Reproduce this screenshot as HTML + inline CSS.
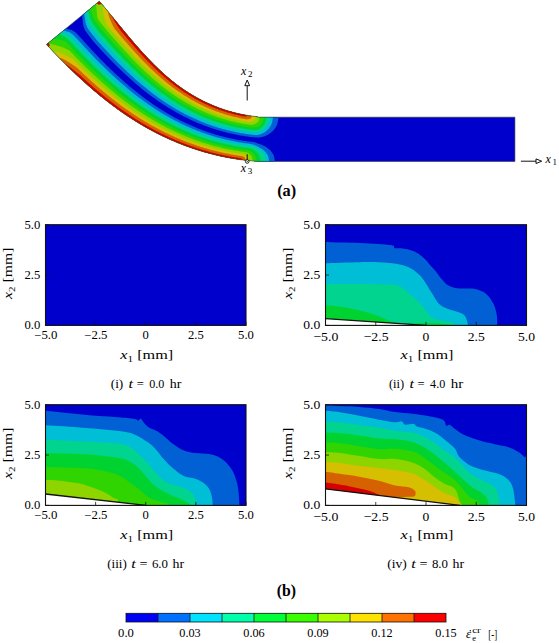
<!DOCTYPE html>
<html><head><meta charset="utf-8"><style>
html,body{margin:0;padding:0;background:#fff;}
body{width:559px;height:643px;overflow:hidden;position:relative;}
svg{position:absolute;left:0;top:0;}
text{font-family:"Liberation Serif", serif;fill:#000;}
</style></head><body>
<svg width="559" height="643" viewBox="0 0 559 643">
<g>
<rect x="45.50" y="224.70" width="200.50" height="100.70" fill="#0000cd"/>
<rect x="45.50" y="224.70" width="200.50" height="100.70" fill="none" stroke="#111" stroke-width="1.1"/>
<path d="M45.50,325.40 V321.90" stroke="#111" stroke-width="0.8"/>
<path d="M95.62,325.40 V321.90" stroke="#111" stroke-width="0.8"/>
<path d="M145.75,325.40 V321.90" stroke="#111" stroke-width="0.8"/>
<path d="M195.88,325.40 V321.90" stroke="#111" stroke-width="0.8"/>
<path d="M246.00,325.40 V321.90" stroke="#111" stroke-width="0.8"/>
<path d="M45.50,325.40 H49.00" stroke="#111" stroke-width="0.8"/>
<path d="M45.50,275.05 H49.00" stroke="#111" stroke-width="0.8"/>
<path d="M45.50,224.70 H49.00" stroke="#111" stroke-width="0.8"/>
</g>
<g>
<rect x="325.50" y="224.70" width="201.00" height="100.70" fill="#0000cd"/>
<path d="M325.50,242.00 C327.87,242.10 334.05,242.43 339.70,242.60 C345.35,242.77 352.85,242.77 359.40,243.00 C365.95,243.23 373.43,243.57 379.00,244.00 C384.57,244.43 390.22,244.90 392.80,245.60 C395.38,246.30 392.87,247.72 394.50,248.20 C396.13,248.68 399.27,247.95 402.60,248.50 C405.93,249.05 410.88,249.85 414.50,251.50 C418.12,253.15 421.72,256.15 424.30,258.40 C426.88,260.65 428.10,262.87 430.00,265.00 C431.90,267.13 433.77,268.87 435.70,271.20 C437.63,273.53 439.63,276.70 441.60,279.00 C443.57,281.30 445.20,283.52 447.50,285.00 C449.80,286.48 452.43,287.32 455.40,287.90 C458.37,288.48 462.02,288.33 465.30,288.50 C468.58,288.67 472.15,288.35 475.10,288.90 C478.05,289.45 480.70,290.50 483.00,291.80 C485.30,293.10 487.10,294.57 488.90,296.70 C490.70,298.83 492.50,301.63 493.80,304.60 C495.10,307.57 496.12,311.03 496.70,314.50 C497.28,317.97 497.20,323.58 497.30,325.40 L497.30,325.40 L325.50,325.40 Z" fill="#0060d4"/>
<path d="M325.50,263.30 C331.15,263.13 350.48,262.47 359.40,262.30 C368.32,262.13 372.45,261.97 379.00,262.30 C385.55,262.63 393.45,263.32 398.70,264.30 C403.95,265.28 407.22,266.57 410.50,268.20 C413.78,269.83 416.10,271.97 418.40,274.10 C420.70,276.23 422.07,277.85 424.30,281.00 C426.53,284.15 429.23,289.07 431.80,293.00 C434.37,296.93 436.75,301.85 439.70,304.60 C442.65,307.35 446.22,308.18 449.50,309.50 C452.78,310.82 456.77,311.35 459.40,312.50 C462.03,313.65 463.83,314.25 465.30,316.40 C466.77,318.55 467.72,323.90 468.20,325.40 L468.20,325.40 L325.50,325.40 Z" fill="#00bed5"/>
<path d="M325.50,284.00 C331.15,284.00 350.48,283.95 359.40,284.00 C368.32,284.05 373.10,284.13 379.00,284.30 C384.90,284.47 390.87,284.40 394.80,285.00 C398.73,285.60 399.98,286.27 402.60,287.90 C405.22,289.53 407.93,292.62 410.50,294.80 C413.07,296.98 415.43,298.38 418.00,301.00 C420.57,303.62 423.60,307.77 425.90,310.50 C428.20,313.23 429.18,315.75 431.80,317.40 C434.42,319.05 438.32,319.58 441.60,320.40 C444.88,321.22 449.37,321.47 451.50,322.30 C453.63,323.13 453.92,324.88 454.40,325.40 L454.40,325.40 L325.50,325.40 Z" fill="#00d48e"/>
<path d="M325.50,305.00 C328.75,305.42 338.82,306.45 345.00,307.50 C351.18,308.55 357.58,310.05 362.60,311.30 C367.62,312.55 371.35,313.75 375.10,315.00 C378.85,316.25 382.28,317.63 385.10,318.80 C387.92,319.97 388.68,321.22 392.00,322.00 C395.32,322.78 399.50,323.33 405.00,323.50 C410.50,323.67 418.33,322.92 425.00,323.00 C431.67,323.08 440.83,323.60 445.00,324.00 C449.17,324.40 449.17,325.17 450.00,325.40 L450.00,325.40 L325.50,325.40 Z" fill="#00d330"/>
<path d="M325.50,318.60 L426.00,325.40 L325.50,325.40 Z" fill="#fff"/>
<path d="M325.50,318.60 L426.00,325.40" stroke="#111" stroke-width="1.3" fill="none"/>
<rect x="325.50" y="224.70" width="201.00" height="100.70" fill="none" stroke="#111" stroke-width="1.1"/>
<path d="M325.50,325.40 V321.90" stroke="#111" stroke-width="0.8"/>
<path d="M375.75,325.40 V321.90" stroke="#111" stroke-width="0.8"/>
<path d="M426.00,325.40 V321.90" stroke="#111" stroke-width="0.8"/>
<path d="M476.25,325.40 V321.90" stroke="#111" stroke-width="0.8"/>
<path d="M526.50,325.40 V321.90" stroke="#111" stroke-width="0.8"/>
<path d="M325.50,325.40 H329.00" stroke="#111" stroke-width="0.8"/>
<path d="M325.50,275.05 H329.00" stroke="#111" stroke-width="0.8"/>
<path d="M325.50,224.70 H329.00" stroke="#111" stroke-width="0.8"/>
</g>
<g>
<rect x="45.50" y="404.70" width="200.50" height="100.70" fill="#0000cd"/>
<path d="M45.50,410.80 C47.87,411.03 54.05,411.63 59.70,412.20 C65.35,412.77 72.85,413.55 79.40,414.20 C85.95,414.85 92.45,415.58 99.00,416.10 C105.55,416.62 112.78,416.83 118.70,417.30 C124.62,417.77 131.18,418.38 134.50,418.90 C137.82,419.42 137.57,420.45 138.60,420.40 C139.63,420.35 139.97,418.42 140.70,418.60 C141.43,418.78 142.13,420.43 143.00,421.50 C143.87,422.57 144.77,423.92 145.90,425.00 C147.03,426.08 147.83,426.92 149.80,428.00 C151.77,429.08 155.07,429.93 157.70,431.50 C160.33,433.07 162.97,435.27 165.60,437.40 C168.23,439.53 170.55,442.17 173.50,444.30 C176.45,446.43 179.70,448.73 183.30,450.20 C186.90,451.67 190.83,452.45 195.10,453.10 C199.37,453.75 204.97,453.43 208.90,454.10 C212.83,454.77 215.75,455.62 218.70,457.10 C221.65,458.58 224.30,460.72 226.60,463.00 C228.90,465.28 230.87,467.85 232.50,470.80 C234.13,473.75 235.42,477.42 236.40,480.70 C237.38,483.98 237.90,486.38 238.40,490.50 C238.90,494.62 239.23,502.92 239.40,505.40 L239.40,505.40 L45.50,505.40 Z" fill="#0060d4"/>
<path d="M45.50,425.20 C47.87,425.33 54.05,425.62 59.70,426.00 C65.35,426.38 72.85,426.98 79.40,427.50 C85.95,428.02 92.45,428.50 99.00,429.10 C105.55,429.70 112.78,430.22 118.70,431.10 C124.62,431.98 129.63,432.53 134.50,434.40 C139.37,436.27 144.37,439.83 147.90,442.30 C151.43,444.77 153.08,446.42 155.70,449.20 C158.32,451.98 160.97,456.05 163.60,459.00 C166.23,461.95 168.22,464.10 171.50,466.90 C174.78,469.70 179.37,473.83 183.30,475.80 C187.23,477.77 191.82,477.57 195.10,478.70 C198.38,479.83 200.70,480.97 203.00,482.60 C205.30,484.23 207.43,486.20 208.90,488.50 C210.37,490.80 211.15,493.58 211.80,496.40 C212.45,499.22 212.63,503.90 212.80,505.40 L212.80,505.40 L45.50,505.40 Z" fill="#00bed5"/>
<path d="M45.50,439.40 C51.15,439.72 70.48,440.82 79.40,441.30 C88.32,441.78 92.45,441.90 99.00,442.30 C105.55,442.70 113.45,442.88 118.70,443.70 C123.95,444.52 126.95,445.23 130.50,447.20 C134.05,449.17 137.43,453.20 140.00,455.50 C142.57,457.80 143.60,458.45 145.90,461.00 C148.20,463.55 151.18,467.85 153.80,470.80 C156.42,473.75 158.65,476.40 161.60,478.70 C164.55,481.00 167.88,483.12 171.50,484.60 C175.12,486.08 180.02,486.28 183.30,487.60 C186.58,488.92 189.23,490.70 191.20,492.50 C193.17,494.30 194.28,496.25 195.10,498.40 C195.92,500.55 195.93,504.23 196.10,505.40 L196.10,505.40 L45.50,505.40 Z" fill="#00d48e"/>
<path d="M45.50,453.10 C51.15,453.27 70.48,453.70 79.40,454.10 C88.32,454.50 92.45,454.85 99.00,455.50 C105.55,456.15 113.78,457.08 118.70,458.00 C123.62,458.92 125.22,459.35 128.50,461.00 C131.78,462.65 135.17,464.95 138.40,467.90 C141.63,470.85 145.02,475.58 147.90,478.70 C150.78,481.82 152.10,483.97 155.70,486.60 C159.30,489.23 165.55,492.53 169.50,494.50 C173.45,496.47 176.45,497.10 179.40,498.40 C182.35,499.70 185.43,501.13 187.20,502.30 C188.97,503.47 189.53,504.88 190.00,505.40 L190.00,505.40 L45.50,505.40 Z" fill="#00d330"/>
<path d="M45.50,466.90 C51.15,467.07 70.48,467.40 79.40,467.90 C88.32,468.40 93.10,468.92 99.00,469.90 C104.90,470.88 110.53,472.33 114.80,473.80 C119.07,475.27 121.65,476.90 124.60,478.70 C127.55,480.50 129.93,482.72 132.50,484.60 C135.07,486.48 137.42,487.93 140.00,490.00 C142.58,492.07 145.33,495.25 148.00,497.00 C150.67,498.75 153.00,499.50 156.00,500.50 C159.00,501.50 163.67,502.18 166.00,503.00 C168.33,503.82 169.33,505.00 170.00,505.40 L170.00,505.40 L45.50,505.40 Z" fill="#30d400"/>
<path d="M45.50,479.70 C47.87,479.87 54.05,480.05 59.70,480.70 C65.35,481.35 73.50,482.30 79.40,483.60 C85.30,484.90 90.85,487.02 95.10,488.50 C99.35,489.98 101.95,491.02 104.90,492.50 C107.85,493.98 110.62,496.23 112.80,497.40 C114.98,498.57 117.13,499.15 118.00,499.50 L118.00,505.40 L45.50,505.40 Z" fill="#8ed500"/>
<path d="M45.50,494.00 L146.00,505.40 L45.50,505.40 Z" fill="#fff"/>
<path d="M45.50,494.00 L146.00,505.40" stroke="#111" stroke-width="1.3" fill="none"/>
<rect x="45.50" y="404.70" width="200.50" height="100.70" fill="none" stroke="#111" stroke-width="1.1"/>
<path d="M45.50,505.40 V501.90" stroke="#111" stroke-width="0.8"/>
<path d="M95.62,505.40 V501.90" stroke="#111" stroke-width="0.8"/>
<path d="M145.75,505.40 V501.90" stroke="#111" stroke-width="0.8"/>
<path d="M195.88,505.40 V501.90" stroke="#111" stroke-width="0.8"/>
<path d="M246.00,505.40 V501.90" stroke="#111" stroke-width="0.8"/>
<path d="M45.50,505.40 H49.00" stroke="#111" stroke-width="0.8"/>
<path d="M45.50,455.05 H49.00" stroke="#111" stroke-width="0.8"/>
<path d="M45.50,404.70 H49.00" stroke="#111" stroke-width="0.8"/>
</g>
<g>
<rect x="325.50" y="404.70" width="201.00" height="100.70" fill="#0000cd"/>
<path d="M325.50,405.20 C327.87,405.33 334.05,405.72 339.70,406.00 C345.35,406.28 352.85,406.42 359.40,406.90 C365.95,407.38 373.07,408.05 379.00,408.90 C384.93,409.75 389.48,411.20 395.00,412.00 C400.52,412.80 406.40,413.00 412.10,413.70 C417.80,414.40 424.07,415.20 429.20,416.20 C434.33,417.20 440.05,418.13 442.90,419.70 C445.75,421.27 445.17,424.75 446.30,425.60 C447.43,426.45 448.25,424.23 449.70,424.80 C451.15,425.37 452.73,427.40 455.00,429.00 C457.27,430.60 459.30,432.52 463.30,434.40 C467.30,436.28 473.75,438.65 479.00,440.30 C484.25,441.95 489.88,443.15 494.80,444.30 C499.72,445.45 504.57,445.90 508.50,447.20 C512.43,448.50 515.77,450.45 518.40,452.10 C521.03,453.75 522.95,455.78 524.30,457.10 C525.65,458.42 526.13,451.95 526.50,460.00 C526.87,468.05 526.50,497.83 526.50,505.40 L526.50,505.40 L325.50,505.40 Z" fill="#0060d4"/>
<path d="M325.50,410.80 C327.87,411.03 334.05,411.38 339.70,412.20 C345.35,413.02 352.85,414.45 359.40,415.70 C365.95,416.95 373.07,418.62 379.00,419.70 C384.93,420.78 391.20,421.92 395.00,422.20 C398.80,422.48 400.08,420.97 401.80,421.40 C403.52,421.83 403.30,424.38 405.30,424.80 C407.30,425.22 411.82,423.62 413.80,423.90 C415.78,424.18 414.63,425.50 417.20,426.50 C419.77,427.50 425.78,428.62 429.20,429.90 C432.62,431.18 434.85,432.35 437.70,434.20 C440.55,436.05 443.42,438.58 446.30,441.00 C449.18,443.42 452.82,446.02 455.00,448.70 C457.18,451.38 457.03,454.40 459.40,457.10 C461.77,459.80 465.27,462.77 469.20,464.90 C473.13,467.03 478.73,468.58 483.00,469.90 C487.27,471.22 491.20,471.67 494.80,472.80 C498.40,473.93 501.98,475.07 504.60,476.70 C507.22,478.33 509.02,480.30 510.50,482.60 C511.98,484.90 512.68,486.70 513.50,490.50 C514.32,494.30 515.08,502.92 515.40,505.40 L515.40,505.40 L325.50,505.40 Z" fill="#00bed5"/>
<path d="M325.50,421.60 C327.87,421.77 334.05,422.00 339.70,422.60 C345.35,423.20 352.85,424.38 359.40,425.20 C365.95,426.02 373.07,426.57 379.00,427.50 C384.93,428.43 389.48,429.97 395.00,430.80 C400.52,431.63 407.25,431.50 412.10,432.50 C416.95,433.50 420.40,435.10 424.10,436.80 C427.80,438.50 431.17,440.57 434.30,442.70 C437.43,444.83 439.45,447.03 442.90,449.60 C446.35,452.17 450.62,454.23 455.00,458.10 C459.38,461.97 465.20,469.37 469.20,472.80 C473.20,476.23 475.40,476.73 479.00,478.70 C482.60,480.67 487.85,482.63 490.80,484.60 C493.75,486.57 495.22,487.03 496.70,490.50 C498.18,493.97 499.20,502.92 499.70,505.40 L499.70,505.40 L325.50,505.40 Z" fill="#00d48e"/>
<path d="M325.50,432.50 C327.87,432.60 334.05,432.62 339.70,433.10 C345.35,433.58 352.85,434.52 359.40,435.40 C365.95,436.28 373.07,437.75 379.00,438.40 C384.93,439.05 389.48,438.72 395.00,439.30 C400.52,439.88 407.53,440.75 412.10,441.90 C416.67,443.05 418.98,444.35 422.40,446.20 C425.82,448.05 429.18,450.45 432.60,453.00 C436.02,455.55 439.17,458.37 442.90,461.50 C446.63,464.63 450.28,467.62 455.00,471.80 C459.72,475.98 466.87,483.15 471.20,486.60 C475.53,490.05 478.38,490.53 481.00,492.50 C483.62,494.47 485.58,496.25 486.90,498.40 C488.22,500.55 488.57,504.23 488.90,505.40 L488.90,505.40 L325.50,505.40 Z" fill="#00d330"/>
<path d="M325.50,442.30 C327.87,442.47 334.05,442.65 339.70,443.30 C345.35,443.95 352.85,445.22 359.40,446.20 C365.95,447.18 373.07,448.78 379.00,449.20 C384.93,449.62 389.48,448.35 395.00,448.70 C400.52,449.05 407.53,450.02 412.10,451.30 C416.67,452.58 418.98,454.27 422.40,456.40 C425.82,458.53 429.18,461.53 432.60,464.10 C436.02,466.67 439.17,469.10 442.90,471.80 C446.63,474.50 450.62,476.20 455.00,480.30 C459.38,484.40 465.53,493.05 469.20,496.40 C472.87,499.75 475.20,498.90 477.00,500.40 C478.80,501.90 479.50,504.57 480.00,505.40 L480.00,505.40 L325.50,505.40 Z" fill="#30d400"/>
<path d="M325.50,452.10 C327.87,452.27 334.05,452.43 339.70,453.10 C345.35,453.77 352.85,455.12 359.40,456.10 C365.95,457.08 373.07,458.52 379.00,459.00 C384.93,459.48 389.48,458.43 395.00,459.00 C400.52,459.57 407.25,460.83 412.10,462.40 C416.95,463.97 420.40,465.98 424.10,468.40 C427.80,470.82 430.88,474.33 434.30,476.90 C437.72,479.47 441.15,481.80 444.60,483.80 C448.05,485.80 452.53,486.13 455.00,488.90 C457.47,491.67 458.23,497.65 459.40,500.40 C460.57,503.15 461.57,504.57 462.00,505.40 L462.00,505.40 L325.50,505.40 Z" fill="#8ed500"/>
<path d="M325.50,462.00 C327.87,462.17 334.05,462.35 339.70,463.00 C345.35,463.65 352.85,465.08 359.40,465.90 C365.95,466.72 373.07,467.20 379.00,467.90 C384.93,468.60 389.48,469.17 395.00,470.10 C400.52,471.03 407.53,472.08 412.10,473.50 C416.67,474.92 418.98,476.60 422.40,478.60 C425.82,480.60 429.18,483.22 432.60,485.50 C436.02,487.78 439.17,490.32 442.90,492.30 C446.63,494.28 452.15,495.62 455.00,497.40 C457.85,499.18 458.83,501.67 460.00,503.00 C461.17,504.33 461.67,505.00 462.00,505.40 L462.00,505.40 L325.50,505.40 Z" fill="#d6be00"/>
<path d="M325.50,471.80 C327.87,472.13 334.05,472.98 339.70,473.80 C345.35,474.62 352.85,475.55 359.40,476.70 C365.95,477.85 373.07,479.23 379.00,480.70 C384.93,482.17 390.05,484.42 395.00,485.50 C399.95,486.58 405.42,486.35 408.70,487.20 C411.98,488.05 413.57,489.47 414.70,490.60 C415.83,491.73 415.65,493.00 415.50,494.00 C415.35,495.00 415.55,496.10 413.80,496.60 C412.05,497.10 408.13,496.77 405.00,497.00 C401.87,497.23 396.67,497.83 395.00,498.00 L395.00,505.40 L325.50,505.40 Z" fill="#d66100"/>
<path d="M325.50,482.60 C327.87,482.93 334.05,483.62 339.70,484.60 C345.35,485.58 354.15,487.35 359.40,488.50 C364.65,489.65 368.27,490.58 371.20,491.50 C374.13,492.42 375.53,493.25 377.00,494.00 C378.47,494.75 379.50,495.67 380.00,496.00 L380.00,505.40 L325.50,505.40 Z" fill="#d60000"/>
<path d="M325.50,488.90 L460.00,505.40 L325.50,505.40 Z" fill="#fff"/>
<path d="M325.50,488.90 L460.00,505.40" stroke="#111" stroke-width="1.3" fill="none"/>
<rect x="325.50" y="404.70" width="201.00" height="100.70" fill="none" stroke="#111" stroke-width="1.1"/>
<path d="M325.50,505.40 V501.90" stroke="#111" stroke-width="0.8"/>
<path d="M375.75,505.40 V501.90" stroke="#111" stroke-width="0.8"/>
<path d="M426.00,505.40 V501.90" stroke="#111" stroke-width="0.8"/>
<path d="M476.25,505.40 V501.90" stroke="#111" stroke-width="0.8"/>
<path d="M526.50,505.40 V501.90" stroke="#111" stroke-width="0.8"/>
<path d="M325.50,505.40 H329.00" stroke="#111" stroke-width="0.8"/>
<path d="M325.50,455.05 H329.00" stroke="#111" stroke-width="0.8"/>
<path d="M325.50,404.70 H329.00" stroke="#111" stroke-width="0.8"/>
</g>
<text x="40.30" y="329.40" font-size="11.80" text-anchor="end" font-weight="normal" textLength="15.80" lengthAdjust="spacingAndGlyphs">0.0</text>
<text x="40.30" y="279.05" font-size="11.80" text-anchor="end" font-weight="normal" textLength="15.80" lengthAdjust="spacingAndGlyphs">2.5</text>
<text x="40.30" y="228.70" font-size="11.80" text-anchor="end" font-weight="normal" textLength="15.80" lengthAdjust="spacingAndGlyphs">5.0</text>
<text x="45.80" y="338.90" font-size="11.80" text-anchor="middle" font-weight="normal" textLength="23.20" lengthAdjust="spacingAndGlyphs">−5.0</text>
<text x="95.92" y="338.90" font-size="11.80" text-anchor="middle" font-weight="normal" textLength="23.20" lengthAdjust="spacingAndGlyphs">−2.5</text>
<text x="145.75" y="338.90" font-size="11.80" text-anchor="middle" font-weight="normal" textLength="6.30" lengthAdjust="spacingAndGlyphs">0</text>
<text x="195.88" y="338.90" font-size="11.80" text-anchor="middle" font-weight="normal" textLength="15.80" lengthAdjust="spacingAndGlyphs">2.5</text>
<text x="246.00" y="338.90" font-size="11.80" text-anchor="middle" font-weight="normal" textLength="15.80" lengthAdjust="spacingAndGlyphs">5.0</text>
<text x="120.35" y="359.00" font-size="13" textLength="52.8" lengthAdjust="spacingAndGlyphs"><tspan font-style="italic">x</tspan><tspan font-size="9" dy="2.5">1</tspan><tspan dy="-2.5"> [mm]</tspan></text>
<text transform="translate(12.00,298.95) rotate(-90)" font-size="13" textLength="51.4" lengthAdjust="spacingAndGlyphs"><tspan font-style="italic">x</tspan><tspan font-size="9" dy="2.5">2</tspan><tspan dy="-2.5"> [mm]</tspan></text>
<text x="110.70" y="387.80" font-size="12.2" textLength="12.60" lengthAdjust="spacingAndGlyphs">(i)</text>
<text x="128.60" y="387.80" font-size="12.2" font-style="italic" textLength="4.50" lengthAdjust="spacingAndGlyphs">t</text>
<text x="136.70" y="387.80" font-size="12.2" textLength="7.10" lengthAdjust="spacingAndGlyphs">=</text>
<text x="149.20" y="387.80" font-size="12.2" textLength="15.20" lengthAdjust="spacingAndGlyphs">0.0</text>
<text x="169.80" y="387.80" font-size="12.2" textLength="11.60" lengthAdjust="spacingAndGlyphs">hr</text>
<text x="320.30" y="329.40" font-size="12.74" text-anchor="end" font-weight="normal" textLength="17.06" lengthAdjust="spacingAndGlyphs">0.0</text>
<text x="320.30" y="279.05" font-size="12.74" text-anchor="end" font-weight="normal" textLength="17.06" lengthAdjust="spacingAndGlyphs">2.5</text>
<text x="320.30" y="228.70" font-size="12.74" text-anchor="end" font-weight="normal" textLength="17.06" lengthAdjust="spacingAndGlyphs">5.0</text>
<text x="325.80" y="340.70" font-size="12.74" text-anchor="middle" font-weight="normal" textLength="25.06" lengthAdjust="spacingAndGlyphs">−5.0</text>
<text x="376.05" y="340.70" font-size="12.74" text-anchor="middle" font-weight="normal" textLength="25.06" lengthAdjust="spacingAndGlyphs">−2.5</text>
<text x="426.00" y="340.70" font-size="12.74" text-anchor="middle" font-weight="normal" textLength="6.80" lengthAdjust="spacingAndGlyphs">0</text>
<text x="476.25" y="340.70" font-size="12.74" text-anchor="middle" font-weight="normal" textLength="17.06" lengthAdjust="spacingAndGlyphs">2.5</text>
<text x="526.50" y="340.70" font-size="12.74" text-anchor="middle" font-weight="normal" textLength="17.06" lengthAdjust="spacingAndGlyphs">5.0</text>
<text x="400.60" y="359.00" font-size="13" textLength="52.8" lengthAdjust="spacingAndGlyphs"><tspan font-style="italic">x</tspan><tspan font-size="9" dy="2.5">1</tspan><tspan dy="-2.5"> [mm]</tspan></text>
<text transform="translate(292.00,298.95) rotate(-90)" font-size="13" textLength="51.4" lengthAdjust="spacingAndGlyphs"><tspan font-style="italic">x</tspan><tspan font-size="9" dy="2.5">2</tspan><tspan dy="-2.5"> [mm]</tspan></text>
<text x="388.90" y="387.80" font-size="12.2" textLength="15.30" lengthAdjust="spacingAndGlyphs">(ii)</text>
<text x="409.50" y="387.80" font-size="12.2" font-style="italic" textLength="4.50" lengthAdjust="spacingAndGlyphs">t</text>
<text x="417.60" y="387.80" font-size="12.2" textLength="7.10" lengthAdjust="spacingAndGlyphs">=</text>
<text x="430.10" y="387.80" font-size="12.2" textLength="15.20" lengthAdjust="spacingAndGlyphs">4.0</text>
<text x="450.70" y="387.80" font-size="12.2" textLength="12.50" lengthAdjust="spacingAndGlyphs">hr</text>
<text x="40.30" y="509.40" font-size="11.80" text-anchor="end" font-weight="normal" textLength="15.80" lengthAdjust="spacingAndGlyphs">0.0</text>
<text x="40.30" y="459.05" font-size="11.80" text-anchor="end" font-weight="normal" textLength="15.80" lengthAdjust="spacingAndGlyphs">2.5</text>
<text x="40.30" y="408.70" font-size="11.80" text-anchor="end" font-weight="normal" textLength="15.80" lengthAdjust="spacingAndGlyphs">5.0</text>
<text x="45.80" y="518.90" font-size="11.80" text-anchor="middle" font-weight="normal" textLength="23.20" lengthAdjust="spacingAndGlyphs">−5.0</text>
<text x="95.92" y="518.90" font-size="11.80" text-anchor="middle" font-weight="normal" textLength="23.20" lengthAdjust="spacingAndGlyphs">−2.5</text>
<text x="145.75" y="518.90" font-size="11.80" text-anchor="middle" font-weight="normal" textLength="6.30" lengthAdjust="spacingAndGlyphs">0</text>
<text x="195.88" y="518.90" font-size="11.80" text-anchor="middle" font-weight="normal" textLength="15.80" lengthAdjust="spacingAndGlyphs">2.5</text>
<text x="246.00" y="518.90" font-size="11.80" text-anchor="middle" font-weight="normal" textLength="15.80" lengthAdjust="spacingAndGlyphs">5.0</text>
<text x="120.35" y="539.00" font-size="13" textLength="52.8" lengthAdjust="spacingAndGlyphs"><tspan font-style="italic">x</tspan><tspan font-size="9" dy="2.5">1</tspan><tspan dy="-2.5"> [mm]</tspan></text>
<text transform="translate(12.00,478.95) rotate(-90)" font-size="13" textLength="51.4" lengthAdjust="spacingAndGlyphs"><tspan font-style="italic">x</tspan><tspan font-size="9" dy="2.5">2</tspan><tspan dy="-2.5"> [mm]</tspan></text>
<text x="107.20" y="567.80" font-size="12.2" textLength="19.60" lengthAdjust="spacingAndGlyphs">(iii)</text>
<text x="131.30" y="567.80" font-size="12.2" font-style="italic" textLength="4.50" lengthAdjust="spacingAndGlyphs">t</text>
<text x="139.40" y="567.80" font-size="12.2" textLength="8.00" lengthAdjust="spacingAndGlyphs">=</text>
<text x="151.90" y="567.80" font-size="12.2" textLength="16.10" lengthAdjust="spacingAndGlyphs">6.0</text>
<text x="172.50" y="567.80" font-size="12.2" textLength="11.60" lengthAdjust="spacingAndGlyphs">hr</text>
<text x="320.30" y="509.40" font-size="12.74" text-anchor="end" font-weight="normal" textLength="17.06" lengthAdjust="spacingAndGlyphs">0.0</text>
<text x="320.30" y="459.05" font-size="12.74" text-anchor="end" font-weight="normal" textLength="17.06" lengthAdjust="spacingAndGlyphs">2.5</text>
<text x="320.30" y="408.70" font-size="12.74" text-anchor="end" font-weight="normal" textLength="17.06" lengthAdjust="spacingAndGlyphs">5.0</text>
<text x="325.80" y="520.70" font-size="12.74" text-anchor="middle" font-weight="normal" textLength="25.06" lengthAdjust="spacingAndGlyphs">−5.0</text>
<text x="376.05" y="520.70" font-size="12.74" text-anchor="middle" font-weight="normal" textLength="25.06" lengthAdjust="spacingAndGlyphs">−2.5</text>
<text x="426.00" y="520.70" font-size="12.74" text-anchor="middle" font-weight="normal" textLength="6.80" lengthAdjust="spacingAndGlyphs">0</text>
<text x="476.25" y="520.70" font-size="12.74" text-anchor="middle" font-weight="normal" textLength="17.06" lengthAdjust="spacingAndGlyphs">2.5</text>
<text x="526.50" y="520.70" font-size="12.74" text-anchor="middle" font-weight="normal" textLength="17.06" lengthAdjust="spacingAndGlyphs">5.0</text>
<text x="400.60" y="539.00" font-size="13" textLength="52.8" lengthAdjust="spacingAndGlyphs"><tspan font-style="italic">x</tspan><tspan font-size="9" dy="2.5">1</tspan><tspan dy="-2.5"> [mm]</tspan></text>
<text transform="translate(292.00,478.95) rotate(-90)" font-size="13" textLength="51.4" lengthAdjust="spacingAndGlyphs"><tspan font-style="italic">x</tspan><tspan font-size="9" dy="2.5">2</tspan><tspan dy="-2.5"> [mm]</tspan></text>
<text x="387.20" y="567.80" font-size="12.2" textLength="19.60" lengthAdjust="spacingAndGlyphs">(iv)</text>
<text x="411.30" y="567.80" font-size="12.2" font-style="italic" textLength="4.50" lengthAdjust="spacingAndGlyphs">t</text>
<text x="419.40" y="567.80" font-size="12.2" textLength="8.00" lengthAdjust="spacingAndGlyphs">=</text>
<text x="431.90" y="567.80" font-size="12.2" textLength="16.10" lengthAdjust="spacingAndGlyphs">8.0</text>
<text x="452.50" y="567.80" font-size="12.2" textLength="11.60" lengthAdjust="spacingAndGlyphs">hr</text>
<rect x="126.00" y="613.3" width="32" height="8.7" fill="#0000f5"/>
<rect x="158.00" y="613.3" width="32" height="8.7" fill="#0071ff"/>
<rect x="190.00" y="613.3" width="32" height="8.7" fill="#00e3ff"/>
<rect x="222.00" y="613.3" width="32" height="8.7" fill="#00ffaa"/>
<rect x="254.00" y="613.3" width="32" height="8.7" fill="#00ff39"/>
<rect x="286.00" y="613.3" width="32" height="8.7" fill="#39ff00"/>
<rect x="318.00" y="613.3" width="32" height="8.7" fill="#aaff00"/>
<rect x="350.00" y="613.3" width="32" height="8.7" fill="#ffe300"/>
<rect x="382.00" y="613.3" width="32" height="8.7" fill="#ff7100"/>
<rect x="414.00" y="613.3" width="32" height="8.7" fill="#ff0000"/>
<rect x="126" y="613.3" width="320" height="8.7" fill="none" stroke="#111" stroke-width="0.8"/>
<path d="M158.00,613.3 V622" stroke="#111" stroke-width="0.8"/>
<path d="M190.00,613.3 V622" stroke="#111" stroke-width="0.8"/>
<path d="M222.00,613.3 V622" stroke="#111" stroke-width="0.8"/>
<path d="M254.00,613.3 V622" stroke="#111" stroke-width="0.8"/>
<path d="M286.00,613.3 V622" stroke="#111" stroke-width="0.8"/>
<path d="M318.00,613.3 V622" stroke="#111" stroke-width="0.8"/>
<path d="M350.00,613.3 V622" stroke="#111" stroke-width="0.8"/>
<path d="M382.00,613.3 V622" stroke="#111" stroke-width="0.8"/>
<path d="M414.00,613.3 V622" stroke="#111" stroke-width="0.8"/>
<text x="126.00" y="636.60" font-size="11.80" text-anchor="middle" font-weight="normal" textLength="15.80" lengthAdjust="spacingAndGlyphs">0.0</text>
<text x="190.00" y="636.60" font-size="11.80" text-anchor="middle" font-weight="normal" textLength="21.40" lengthAdjust="spacingAndGlyphs">0.03</text>
<text x="254.00" y="636.60" font-size="11.80" text-anchor="middle" font-weight="normal" textLength="21.40" lengthAdjust="spacingAndGlyphs">0.06</text>
<text x="318.00" y="636.60" font-size="11.80" text-anchor="middle" font-weight="normal" textLength="21.40" lengthAdjust="spacingAndGlyphs">0.09</text>
<text x="382.00" y="636.60" font-size="11.80" text-anchor="middle" font-weight="normal" textLength="21.40" lengthAdjust="spacingAndGlyphs">0.12</text>
<text x="446.00" y="636.60" font-size="11.80" text-anchor="middle" font-weight="normal" textLength="21.40" lengthAdjust="spacingAndGlyphs">0.15</text>
<text x="465.9" y="637.9" font-size="13" font-style="italic">ε</text>
<circle cx="470.3" cy="630.7" r="0.75" fill="#222"/>
<text x="472.2" y="633.3" font-size="8.5" textLength="8.6" lengthAdjust="spacingAndGlyphs">cr</text>
<text x="472.2" y="641.2" font-size="8.5">e</text>
<text x="488.3" y="638.6" font-size="13.5" textLength="8.9" lengthAdjust="spacingAndGlyphs">[-]</text>
<text x="277.2" y="196.0" font-size="16" font-weight="bold" textLength="19" lengthAdjust="spacingAndGlyphs">(a)</text>
<text x="276.8" y="595.7" font-size="16" font-weight="bold" textLength="19.3" lengthAdjust="spacingAndGlyphs">(b)</text>
<g>
<path d="M99.35,1.18 L100.01,1.96 L100.67,2.73 L101.33,3.51 L101.99,4.29 L102.64,5.07 L103.30,5.85 L103.95,6.63 L104.61,7.41 L105.26,8.20 L105.91,8.98 L106.56,9.77 L107.21,10.55 L107.86,11.34 L108.51,12.12 L109.16,12.91 L109.81,13.70 L110.45,14.48 L111.10,15.27 L111.75,16.06 L112.39,16.85 L113.04,17.64 L113.69,18.43 L114.33,19.21 L114.98,20.00 L115.62,20.79 L116.27,21.58 L116.91,22.37 L117.56,23.16 L118.21,23.95 L118.85,24.74 L119.50,25.52 L120.14,26.31 L120.79,27.10 L121.44,27.89 L122.09,28.67 L122.74,29.46 L123.38,30.25 L124.03,31.03 L124.68,31.82 L125.33,32.60 L125.99,33.39 L126.64,34.17 L127.29,34.95 L127.94,35.73 L128.60,36.52 L129.26,37.30 L129.91,38.08 L130.57,38.85 L131.23,39.63 L131.89,40.41 L132.55,41.18 L133.21,41.96 L133.88,42.73 L134.54,43.50 L135.21,44.28 L135.88,45.05 L136.55,45.81 L137.22,46.58 L137.89,47.35 L138.56,48.11 L139.24,48.88 L139.92,49.64 L140.60,50.40 L141.28,51.16 L141.96,51.91 L142.64,52.67 L143.33,53.42 L144.02,54.17 L144.71,54.92 L145.40,55.67 L146.10,56.42 L146.79,57.16 L147.49,57.90 L148.19,58.64 L148.90,59.38 L149.60,60.12 L150.31,60.85 L151.02,61.58 L151.73,62.31 L152.45,63.04 L153.17,63.76 L153.89,64.48 L154.61,65.20 L155.33,65.92 L156.06,66.63 L156.79,67.34 L157.53,68.05 L158.26,68.75 L159.00,69.46 L159.74,70.16 L160.49,70.85 L161.24,71.54 L161.99,72.23 L162.74,72.92 L163.50,73.60 L164.26,74.28 L165.02,74.96 L165.79,75.63 L166.55,76.30 L167.33,76.97 L168.10,77.63 L168.88,78.29 L169.66,78.94 L170.45,79.59 L171.24,80.24 L172.03,80.88 L172.82,81.51 L173.62,82.15 L174.43,82.78 L175.23,83.40 L176.04,84.02 L176.85,84.64 L177.67,85.25 L178.49,85.85 L179.31,86.45 L180.14,87.05 L180.97,87.64 L181.80,88.23 L182.64,88.81 L183.48,89.39 L184.32,89.96 L185.17,90.53 L186.02,91.09 L186.87,91.65 L187.73,92.20 L188.59,92.74 L189.46,93.29 L190.32,93.82 L191.19,94.35 L192.07,94.88 L192.94,95.40 L193.82,95.92 L194.70,96.43 L195.59,96.93 L196.48,97.43 L197.37,97.92 L198.26,98.41 L199.16,98.89 L200.06,99.37 L200.97,99.84 L201.87,100.31 L202.78,100.77 L203.70,101.22 L204.61,101.67 L205.53,102.12 L206.45,102.55 L207.37,102.98 L208.30,103.41 L209.23,103.83 L210.16,104.24 L211.09,104.65 L212.03,105.05 L212.97,105.45 L213.91,105.84 L214.86,106.22 L215.80,106.60 L216.75,106.97 L217.70,107.34 L218.66,107.70 L219.61,108.05 L220.57,108.40 L221.53,108.74 L222.50,109.07 L223.46,109.40 L224.43,109.72 L225.40,110.03 L226.37,110.34 L227.35,110.64 L228.32,110.94 L229.30,111.23 L230.28,111.51 L231.26,111.78 L232.24,112.05 L233.23,112.31 L234.21,112.57 L235.20,112.82 L236.19,113.06 L237.18,113.30 L238.18,113.53 L239.17,113.75 L240.17,113.97 L241.17,114.18 L242.16,114.38 L243.16,114.58 L244.17,114.77 L245.17,114.95 L246.17,115.13 L247.18,115.31 L248.18,115.47 L249.19,115.63 L250.20,115.79 L251.21,115.93 L252.21,116.07 L253.23,116.21 L254.24,116.34 L255.25,116.46 L256.26,116.58 L257.27,116.69 L258.00,117.20 L514.90,117.20 L514.90,161.40 L258.00,161.40 L256.97,161.31 L255.93,161.24 L254.90,161.16 L253.86,161.08 L252.83,161.00 L251.79,160.91 L250.76,160.82 L249.72,160.72 L248.69,160.62 L247.66,160.52 L246.62,160.41 L245.59,160.29 L244.56,160.17 L243.53,160.05 L242.50,159.92 L241.47,159.79 L240.44,159.65 L239.41,159.51 L238.39,159.36 L237.36,159.21 L236.33,159.06 L235.31,158.90 L234.28,158.74 L233.26,158.57 L232.23,158.40 L231.21,158.23 L230.19,158.05 L229.16,157.86 L228.14,157.67 L227.12,157.48 L226.10,157.28 L225.09,157.08 L224.07,156.88 L223.05,156.67 L222.04,156.45 L221.02,156.23 L220.01,156.01 L218.99,155.79 L217.98,155.55 L216.97,155.32 L215.96,155.08 L214.95,154.84 L213.94,154.59 L212.93,154.34 L211.93,154.08 L210.92,153.82 L209.92,153.56 L208.92,153.29 L207.91,153.02 L206.91,152.75 L205.91,152.47 L204.91,152.18 L203.92,151.89 L202.92,151.60 L201.92,151.31 L200.93,151.01 L199.94,150.70 L198.95,150.40 L197.96,150.08 L196.97,149.77 L195.98,149.45 L194.99,149.13 L194.01,148.80 L193.02,148.47 L192.04,148.13 L191.06,147.79 L190.08,147.45 L189.10,147.11 L188.12,146.76 L187.15,146.40 L186.17,146.04 L185.20,145.68 L184.23,145.32 L183.26,144.95 L182.29,144.57 L181.32,144.20 L180.36,143.82 L179.39,143.43 L178.43,143.05 L177.47,142.65 L176.51,142.26 L175.55,141.86 L174.59,141.46 L173.64,141.05 L172.68,140.64 L171.73,140.23 L170.78,139.81 L169.83,139.39 L168.88,138.97 L167.94,138.54 L166.99,138.11 L166.05,137.67 L165.11,137.23 L164.17,136.79 L163.23,136.34 L162.30,135.90 L161.36,135.44 L160.43,134.99 L159.50,134.53 L158.57,134.06 L157.64,133.60 L156.72,133.13 L155.79,132.65 L154.87,132.18 L153.95,131.70 L153.03,131.21 L152.11,130.73 L151.20,130.24 L150.29,129.74 L149.37,129.25 L148.46,128.74 L147.56,128.24 L146.65,127.73 L145.75,127.22 L144.84,126.71 L143.94,126.19 L143.05,125.67 L142.15,125.15 L141.25,124.62 L140.36,124.09 L139.47,123.56 L138.58,123.02 L137.70,122.48 L136.81,121.94 L135.93,121.39 L135.05,120.84 L134.17,120.29 L133.29,119.74 L132.42,119.18 L131.54,118.62 L130.67,118.05 L129.80,117.49 L128.93,116.92 L128.07,116.34 L127.20,115.77 L126.34,115.19 L125.48,114.61 L124.62,114.02 L123.77,113.44 L122.91,112.85 L122.06,112.25 L121.21,111.66 L120.36,111.06 L119.51,110.46 L118.67,109.86 L117.83,109.25 L116.98,108.64 L116.14,108.03 L115.31,107.42 L114.47,106.80 L113.64,106.19 L112.80,105.56 L111.97,104.94 L111.15,104.32 L110.32,103.69 L109.49,103.06 L108.67,102.42 L107.85,101.79 L107.03,101.15 L106.21,100.51 L105.40,99.87 L104.58,99.23 L103.77,98.58 L102.96,97.93 L102.15,97.28 L101.34,96.63 L100.54,95.97 L99.73,95.32 L98.93,94.66 L98.13,94.00 L97.33,93.33 L96.53,92.67 L95.74,92.00 L94.95,91.33 L94.15,90.66 L93.36,89.99 L92.57,89.31 L91.79,88.64 L91.00,87.96 L90.22,87.28 L89.44,86.59 L88.66,85.91 L87.88,85.22 L87.10,84.53 L86.32,83.84 L85.55,83.15 L84.78,82.46 L84.01,81.76 L83.24,81.07 L82.47,80.37 L81.70,79.67 L80.94,78.97 L80.17,78.26 L79.41,77.56 L78.65,76.85 L77.89,76.14 L77.13,75.43 L76.38,74.72 L75.62,74.01 L74.87,73.29 L74.12,72.58 L73.37,71.86 L72.62,71.14 L71.87,70.42 L71.13,69.70 L70.38,68.98 L69.64,68.25 L68.90,67.53 L68.15,66.80 L67.42,66.07 L66.68,65.34 L65.94,64.61 L65.21,63.87 L64.47,63.14 L63.74,62.40 L63.01,61.67 L62.28,60.93 L61.55,60.19 L60.82,59.45 L60.10,58.71 L59.37,57.96 L58.65,57.22 L57.92,56.47 L57.20,55.73 L56.48,54.98 L55.76,54.23 L55.05,53.48 L54.33,52.73 L53.61,51.98 L52.90,51.22 L52.19,50.47 L51.48,49.71 L50.76,48.96 L50.05,48.20 L49.35,47.44 L48.64,46.68 L47.93,45.92 L47.23,45.16 L46.52,44.40Z" fill="#0000cd"/>
<path d="M99.35,1.18 L100.08,2.03 L100.80,2.88 L101.52,3.74 L102.24,4.59 L102.96,5.44 L103.68,6.30 L104.39,7.16 L105.11,8.02 L105.82,8.88 L106.54,9.74 L107.25,10.60 L107.96,11.46 L108.67,12.32 L109.38,13.18 L110.09,14.04 L110.80,14.91 L111.51,15.77 L112.22,16.63 L112.93,17.50 L113.64,18.36 L114.34,19.23 L115.05,20.09 L115.76,20.96 L116.47,21.82 L117.17,22.69 L117.88,23.55 L118.59,24.42 L119.30,25.28 L120.01,26.14 L120.71,27.01 L121.42,27.87 L122.13,28.73 L122.85,29.59 L123.56,30.46 L124.27,31.32 L124.98,32.18 L125.69,33.04 L126.41,33.90 L127.12,34.75 L127.84,35.61 L128.56,36.47 L129.28,37.32 L130.00,38.18 L130.72,39.03 L131.44,39.88 L132.17,40.73 L132.89,41.58 L133.62,42.43 L134.35,43.28 L135.08,44.12 L135.81,44.97 L136.54,45.81 L137.28,46.65 L138.02,47.49 L138.75,48.33 L139.50,49.16 L140.24,50.00 L140.98,50.83 L141.73,51.66 L142.48,52.49 L143.23,53.32 L143.99,54.14 L144.74,54.96 L145.50,55.78 L146.27,56.60 L147.03,57.41 L147.80,58.23 L148.57,59.04 L149.34,59.84 L150.11,60.65 L150.89,61.45 L151.67,62.25 L152.46,63.05 L153.24,63.84 L154.03,64.63 L154.83,65.42 L155.62,66.20 L156.42,66.98 L157.22,67.76 L158.03,68.53 L158.84,69.30 L159.65,70.07 L160.47,70.83 L161.29,71.59 L162.11,72.35 L162.94,73.10 L163.77,73.85 L164.60,74.59 L165.44,75.33 L166.28,76.06 L167.13,76.79 L167.98,77.52 L168.83,78.24 L169.69,78.96 L170.55,79.67 L171.41,80.38 L172.28,81.08 L173.15,81.78 L174.03,82.47 L174.91,83.15 L175.80,83.84 L176.69,84.51 L177.58,85.18 L178.48,85.85 L179.38,86.51 L180.29,87.16 L181.20,87.81 L182.11,88.45 L183.03,89.08 L183.96,89.71 L184.88,90.34 L185.81,90.95 L186.75,91.56 L187.69,92.17 L188.63,92.77 L189.58,93.36 L190.53,93.95 L191.48,94.53 L192.44,95.10 L193.40,95.67 L194.37,96.23 L195.34,96.79 L196.31,97.34 L197.29,97.88 L198.27,98.41 L199.25,98.94 L200.24,99.46 L201.23,99.98 L202.23,100.49 L203.23,100.99 L204.23,101.49 L205.23,101.97 L206.24,102.45 L207.25,102.93 L208.27,103.40 L209.29,103.86 L210.31,104.31 L211.33,104.75 L212.36,105.19 L213.39,105.62 L214.42,106.05 L215.46,106.46 L216.50,106.87 L217.54,107.28 L218.59,107.67 L219.64,108.06 L220.69,108.44 L221.74,108.81 L222.80,109.17 L223.86,109.53 L224.92,109.88 L225.98,110.22 L227.05,110.55 L228.12,110.88 L229.19,111.19 L230.26,111.50 L231.34,111.80 L232.42,112.10 L233.50,112.38 L234.58,112.66 L235.66,112.93 L236.75,113.19 L237.84,113.45 L238.93,113.70 L240.02,113.93 L241.11,114.17 L242.20,114.39 L243.30,114.61 L244.40,114.81 L245.50,115.01 L246.60,115.21 L247.70,115.39 L248.80,115.57 L249.91,115.74 L251.01,115.91 L252.12,116.06 L253.23,116.21 L254.33,116.35 L255.44,116.48 L256.55,116.61 L257.66,116.73 L258.49,117.20 L259.61,117.20 L260.72,117.20 L261.84,117.20 L262.96,117.20 L264.08,117.20 L265.19,117.20 L266.31,117.20 L267.43,117.20 L268.54,117.20 L269.66,117.20 L270.78,117.20 L271.90,117.20 L273.01,117.20 L274.13,117.20 L275.25,117.20 L276.37,117.20 L277.48,117.20 L278.60,117.20 L278.60,117.20 L277.48,123.53 L276.37,126.04 L275.25,127.89 L274.13,129.39 L273.01,130.65 L271.90,131.73 L270.78,132.67 L269.66,133.50 L268.54,134.24 L267.43,134.89 L266.31,135.46 L265.19,135.96 L264.08,136.40 L262.96,136.78 L261.84,137.10 L260.72,137.37 L259.61,137.59 L258.49,137.76 L257.46,137.59 L256.23,137.55 L255.00,137.46 L253.78,137.33 L252.55,137.20 L251.32,137.06 L250.10,136.91 L248.87,136.75 L247.65,136.59 L246.43,136.42 L245.21,136.24 L243.99,136.05 L242.77,135.86 L241.55,135.65 L240.33,135.44 L239.12,135.23 L237.91,135.00 L236.69,134.77 L235.48,134.53 L234.28,134.28 L233.07,134.03 L231.86,133.76 L230.66,133.49 L229.46,133.22 L228.26,132.93 L227.06,132.64 L225.86,132.34 L224.67,132.03 L223.48,131.71 L222.29,131.39 L221.10,131.06 L219.91,130.72 L218.73,130.37 L217.55,130.02 L216.37,129.66 L215.19,129.29 L214.02,128.91 L212.85,128.53 L211.68,128.14 L210.51,127.74 L209.35,127.34 L208.19,126.93 L207.03,126.51 L205.87,126.08 L204.72,125.65 L203.57,125.21 L202.42,124.76 L201.28,124.31 L200.13,123.85 L198.99,123.38 L197.86,122.90 L196.72,122.42 L195.59,121.94 L194.47,121.44 L193.34,120.94 L192.22,120.43 L191.10,119.92 L189.99,119.39 L188.88,118.87 L187.77,118.33 L186.66,117.79 L185.56,117.24 L184.46,116.69 L183.37,116.13 L182.27,115.56 L181.18,114.99 L180.10,114.41 L179.02,113.83 L177.94,113.24 L176.86,112.64 L175.79,112.04 L174.73,111.43 L173.66,110.81 L172.60,110.19 L171.54,109.57 L170.48,108.94 L169.43,108.31 L168.38,107.67 L167.34,107.02 L166.30,106.37 L165.26,105.71 L164.23,105.05 L163.19,104.38 L162.17,103.71 L161.15,103.03 L160.13,102.34 L159.11,101.65 L158.10,100.96 L157.09,100.26 L156.09,99.55 L155.09,98.84 L154.09,98.12 L153.10,97.40 L152.11,96.68 L151.12,95.94 L150.14,95.21 L149.16,94.47 L148.18,93.72 L147.21,92.98 L146.24,92.22 L145.27,91.46 L144.31,90.70 L143.35,89.94 L142.40,89.17 L141.44,88.39 L140.49,87.61 L139.55,86.83 L138.60,86.04 L137.66,85.25 L136.73,84.46 L135.79,83.66 L134.86,82.86 L133.94,82.06 L133.01,81.25 L132.09,80.44 L131.17,79.62 L130.26,78.81 L129.34,77.99 L128.43,77.16 L127.52,76.33 L126.62,75.50 L125.72,74.67 L124.82,73.83 L123.92,73.00 L123.03,72.15 L122.14,71.31 L121.25,70.46 L120.36,69.61 L119.48,68.76 L118.59,67.90 L117.71,67.05 L116.84,66.19 L115.96,65.32 L115.09,64.46 L114.22,63.59 L113.35,62.72 L112.48,61.85 L111.62,60.98 L110.75,60.10 L109.89,59.23 L109.04,58.35 L108.18,57.46 L107.32,56.58 L106.47,55.70 L105.62,54.81 L104.77,53.92 L103.93,53.02 L103.09,52.12 L102.25,51.22 L101.42,50.32 L100.58,49.41 L99.75,48.51 L98.92,47.60 L98.09,46.69 L97.26,45.78 L96.43,44.87 L95.61,43.96 L94.78,43.05 L93.99,42.11 L93.21,41.15 L92.43,40.19 L91.66,39.23 L90.89,38.27 L90.12,37.30 L89.35,36.34 L88.60,35.36 L87.88,34.35 L87.17,33.33 L86.47,32.32 L85.76,31.31 L85.05,30.29 L84.56,29.09 L84.10,27.87 L83.64,26.65 L83.25,25.37 L83.09,23.91 L82.92,22.45 L82.76,21.00 L82.60,19.56 L82.44,18.12 L82.28,16.69 L82.13,15.27Z" fill="#0060d4"/>
<path d="M46.52,44.40 L47.42,45.37 L48.32,46.34 L49.23,47.31 L50.13,48.28 L51.04,49.25 L51.95,50.21 L52.86,51.18 L53.77,52.14 L54.68,53.10 L55.60,54.06 L56.52,55.01 L57.44,55.97 L58.36,56.92 L59.28,57.87 L60.21,58.82 L61.13,59.77 L62.06,60.71 L63.00,61.66 L63.93,62.60 L64.87,63.53 L65.80,64.47 L66.75,65.41 L67.69,66.34 L68.63,67.27 L69.58,68.20 L70.53,69.12 L71.48,70.04 L72.43,70.96 L73.39,71.88 L74.35,72.80 L75.31,73.71 L76.27,74.62 L77.24,75.53 L78.20,76.44 L79.18,77.34 L80.15,78.24 L81.12,79.14 L82.10,80.03 L83.08,80.93 L84.06,81.82 L85.05,82.70 L86.04,83.59 L87.03,84.47 L88.02,85.35 L89.01,86.22 L90.01,87.10 L91.01,87.97 L92.02,88.83 L93.02,89.70 L94.03,90.56 L95.04,91.41 L96.06,92.27 L97.07,93.12 L98.09,93.96 L99.11,94.81 L100.14,95.65 L101.17,96.49 L102.20,97.32 L103.23,98.15 L104.27,98.98 L105.31,99.80 L106.35,100.62 L107.39,101.44 L108.44,102.25 L109.49,103.06 L110.55,103.86 L111.60,104.66 L112.66,105.46 L113.72,106.25 L114.79,107.04 L115.86,107.82 L116.93,108.60 L118.00,109.38 L119.08,110.15 L120.16,110.92 L121.25,111.68 L122.33,112.44 L123.42,113.20 L124.51,113.95 L125.61,114.69 L126.71,115.44 L127.81,116.17 L128.92,116.90 L130.02,117.63 L131.14,118.35 L132.25,119.07 L133.37,119.79 L134.49,120.49 L135.61,121.20 L136.74,121.89 L137.87,122.59 L139.00,123.28 L140.14,123.96 L141.28,124.64 L142.42,125.31 L143.57,125.97 L144.72,126.64 L145.87,127.29 L147.02,127.94 L148.18,128.59 L149.34,129.23 L150.51,129.86 L151.67,130.49 L152.84,131.11 L154.01,131.73 L155.19,132.34 L156.37,132.95 L157.55,133.55 L158.74,134.15 L159.92,134.74 L161.11,135.32 L162.30,135.90 L163.50,136.47 L164.70,137.04 L165.90,137.60 L167.10,138.16 L168.31,138.71 L169.52,139.25 L170.73,139.79 L171.94,140.32 L173.16,140.85 L174.38,141.37 L175.60,141.88 L176.83,142.39 L178.05,142.89 L179.28,143.39 L180.51,143.88 L181.75,144.36 L182.98,144.84 L184.22,145.31 L185.46,145.78 L186.71,146.24 L187.95,146.69 L189.20,147.14 L190.45,147.58 L191.70,148.02 L192.96,148.45 L194.21,148.87 L195.47,149.28 L196.73,149.69 L198.00,150.10 L199.26,150.49 L200.53,150.88 L201.80,151.27 L203.07,151.65 L204.34,152.02 L205.61,152.38 L206.89,152.74 L208.17,153.09 L209.45,153.44 L210.73,153.77 L212.01,154.11 L213.30,154.43 L214.59,154.75 L215.87,155.06 L217.16,155.37 L218.46,155.66 L219.75,155.95 L221.04,156.24 L222.34,156.52 L223.64,156.79 L224.94,157.05 L226.24,157.31 L227.54,157.56 L228.84,157.80 L230.15,158.04 L231.45,158.27 L232.76,158.49 L234.07,158.70 L235.38,158.91 L236.69,159.11 L238.00,159.31 L239.31,159.50 L240.62,159.68 L241.94,159.85 L243.25,160.01 L244.57,160.17 L245.89,160.32 L247.20,160.47 L248.52,160.60 L249.84,160.73 L251.16,160.86 L252.48,160.97 L253.80,161.08 L255.12,161.18 L256.45,161.27 L257.77,161.37 L259.09,161.40 L260.42,161.40 L261.74,161.40 L263.07,161.40 L264.40,161.40 L265.72,161.40 L267.05,161.40 L268.37,161.40 L269.70,161.40 L271.02,161.40 L272.35,161.40 L273.67,161.40 L275.00,161.40 L275.00,161.40 L273.67,155.36 L272.35,152.98 L271.02,151.23 L269.70,149.83 L268.37,148.66 L267.05,147.66 L265.72,146.79 L264.40,146.04 L263.07,145.39 L261.74,144.82 L260.42,144.32 L259.09,143.90 L257.83,143.46 L256.68,142.95 L255.47,142.60 L254.25,142.31 L253.04,142.06 L251.82,141.85 L250.61,141.70 L249.39,141.55 L248.18,141.40 L246.97,141.25 L245.76,141.08 L244.55,140.91 L243.34,140.73 L242.13,140.54 L240.92,140.35 L239.72,140.15 L238.51,139.94 L237.31,139.73 L236.11,139.50 L234.91,139.27 L233.71,139.04 L232.51,138.79 L231.31,138.54 L230.12,138.29 L228.93,138.02 L227.73,137.75 L226.55,137.47 L225.36,137.18 L224.17,136.89 L222.99,136.59 L221.80,136.28 L220.62,135.97 L219.45,135.64 L218.27,135.32 L217.10,134.98 L215.92,134.64 L214.75,134.29 L213.58,133.93 L212.42,133.57 L211.26,133.20 L210.09,132.82 L208.94,132.43 L207.78,132.04 L206.63,131.64 L205.47,131.23 L204.33,130.82 L203.18,130.40 L202.03,129.98 L200.89,129.54 L199.75,129.11 L198.62,128.66 L197.48,128.21 L196.35,127.75 L195.22,127.29 L194.10,126.82 L192.98,126.34 L191.86,125.86 L190.74,125.37 L189.62,124.87 L188.51,124.37 L187.40,123.86 L186.30,123.35 L185.19,122.83 L184.09,122.30 L183.00,121.77 L181.90,121.23 L180.81,120.69 L179.73,120.14 L178.64,119.58 L177.56,119.02 L176.48,118.45 L175.41,117.88 L174.33,117.30 L173.27,116.71 L172.20,116.12 L171.14,115.53 L170.08,114.93 L169.02,114.33 L167.96,113.72 L166.91,113.11 L165.86,112.49 L164.82,111.86 L163.78,111.23 L162.74,110.60 L161.71,109.96 L160.68,109.31 L159.65,108.66 L158.62,108.00 L157.60,107.34 L156.59,106.67 L155.57,106.00 L154.56,105.32 L153.55,104.64 L152.55,103.95 L151.55,103.26 L150.55,102.57 L149.56,101.86 L148.57,101.16 L147.58,100.45 L146.60,99.73 L145.61,99.01 L144.64,98.29 L143.66,97.56 L142.69,96.83 L141.72,96.09 L140.76,95.35 L139.80,94.61 L138.84,93.86 L137.88,93.11 L136.93,92.35 L135.98,91.59 L135.04,90.82 L134.09,90.06 L133.15,89.29 L132.21,88.52 L131.28,87.74 L130.34,86.96 L129.41,86.18 L128.48,85.39 L127.56,84.60 L126.64,83.81 L125.72,83.01 L124.80,82.21 L123.88,81.41 L122.97,80.61 L122.06,79.80 L121.16,78.99 L120.25,78.17 L119.35,77.36 L118.45,76.54 L117.55,75.71 L116.66,74.89 L115.77,74.06 L114.88,73.23 L113.99,72.40 L113.11,71.56 L112.22,70.73 L111.34,69.89 L110.46,69.04 L109.59,68.20 L108.71,67.35 L107.84,66.50 L106.97,65.65 L106.10,64.80 L105.24,63.94 L104.37,63.08 L103.51,62.22 L102.65,61.36 L101.79,60.50 L100.93,59.63 L100.08,58.76 L99.24,57.88 L98.39,57.00 L97.55,56.12 L96.71,55.24 L95.87,54.35 L95.04,53.47 L94.20,52.58 L93.37,51.69 L92.53,50.80 L91.70,49.91 L90.87,49.02 L90.05,48.12 L89.22,47.22 L88.40,46.32 L87.58,45.42 L86.77,44.51 L85.95,43.61 L85.14,42.70 L84.32,41.79 L83.51,40.88 L82.69,39.98 L81.87,39.08 L81.05,38.18 L80.22,37.28 L79.40,36.38 L78.57,35.49 L77.71,34.62 L76.86,33.75 L76.00,32.88 L75.03,32.10 L73.95,31.42 L72.87,30.74 L71.79,30.05 L70.38,29.63 L68.86,29.30 L67.34,28.96 L65.80,28.62Z" fill="#0060d4"/>
<path d="M99.35,1.18 L100.06,2.01 L100.76,2.84 L101.47,3.67 L102.17,4.50 L102.87,5.34 L103.57,6.17 L104.27,7.01 L104.97,7.84 L105.66,8.68 L106.36,9.52 L107.05,10.36 L107.75,11.20 L108.44,12.04 L109.13,12.88 L109.83,13.72 L110.52,14.56 L111.21,15.40 L111.90,16.24 L112.59,17.09 L113.28,17.93 L113.97,18.77 L114.66,19.62 L115.35,20.46 L116.04,21.30 L116.73,22.14 L117.42,22.99 L118.11,23.83 L118.80,24.67 L119.49,25.52 L120.18,26.36 L120.87,27.20 L121.56,28.04 L122.26,28.88 L122.95,29.72 L123.64,30.56 L124.34,31.40 L125.03,32.24 L125.73,33.08 L126.43,33.91 L127.12,34.75 L127.82,35.59 L128.52,36.42 L129.22,37.26 L129.92,38.09 L130.63,38.92 L131.33,39.75 L132.04,40.58 L132.74,41.41 L133.45,42.24 L134.16,43.06 L134.87,43.89 L135.59,44.71 L136.30,45.53 L137.02,46.35 L137.74,47.17 L138.46,47.99 L139.18,48.81 L139.90,49.62 L140.63,50.43 L141.35,51.24 L142.08,52.05 L142.82,52.86 L143.55,53.66 L144.29,54.47 L145.03,55.27 L145.77,56.06 L146.51,56.86 L147.26,57.65 L148.00,58.45 L148.76,59.24 L149.51,60.02 L150.27,60.81 L151.02,61.59 L151.79,62.37 L152.55,63.14 L153.32,63.91 L154.09,64.68 L154.86,65.45 L155.64,66.22 L156.42,66.98 L157.20,67.73 L157.98,68.49 L158.77,69.24 L159.57,69.99 L160.36,70.73 L161.16,71.47 L161.96,72.21 L162.77,72.94 L163.58,73.67 L164.39,74.40 L165.20,75.12 L166.02,75.84 L166.85,76.55 L167.67,77.26 L168.50,77.97 L169.34,78.67 L170.17,79.36 L171.02,80.06 L171.86,80.74 L172.71,81.42 L173.56,82.10 L174.42,82.77 L175.28,83.44 L176.15,84.10 L177.02,84.76 L177.89,85.41 L178.77,86.06 L179.65,86.70 L180.53,87.33 L181.42,87.96 L182.31,88.59 L183.21,89.20 L184.11,89.82 L185.02,90.42 L185.92,91.03 L186.84,91.62 L187.75,92.21 L188.67,92.79 L189.59,93.37 L190.52,93.94 L191.45,94.51 L192.39,95.07 L193.32,95.62 L194.27,96.17 L195.21,96.71 L196.16,97.25 L197.11,97.78 L198.07,98.30 L199.02,98.82 L199.99,99.33 L200.95,99.84 L201.92,100.33 L202.89,100.82 L203.87,101.31 L204.85,101.79 L205.83,102.26 L206.81,102.72 L207.80,103.18 L208.79,103.63 L209.79,104.08 L210.78,104.52 L211.78,104.95 L212.79,105.37 L213.79,105.79 L214.80,106.20 L215.81,106.60 L216.83,107.00 L217.85,107.39 L218.87,107.77 L219.89,108.15 L220.91,108.52 L221.94,108.88 L222.97,109.23 L224.00,109.58 L225.04,109.92 L226.08,110.25 L227.12,110.57 L228.16,110.89 L229.20,111.20 L230.25,111.50 L231.30,111.79 L232.35,112.08 L233.40,112.36 L234.46,112.63 L235.51,112.90 L236.57,113.15 L237.63,113.40 L238.70,113.64 L239.76,113.88 L240.82,114.11 L241.89,114.33 L242.96,114.54 L244.03,114.74 L245.10,114.94 L246.17,115.13 L247.25,115.32 L248.32,115.49 L249.40,115.66 L250.47,115.83 L251.55,115.98 L252.63,116.13 L253.71,116.27 L254.79,116.41 L255.87,116.53 L256.96,116.65 L257.89,116.97 L258.84,117.20 L259.93,117.20 L261.02,117.20 L262.11,117.20 L263.20,117.20 L264.29,117.20 L265.38,117.20 L266.46,117.20 L267.55,117.20 L268.64,117.20 L269.73,117.20 L270.82,117.20 L271.91,117.20 L273.00,117.20 L273.00,117.20 L271.91,123.18 L270.82,125.54 L269.73,127.27 L268.64,128.66 L267.55,129.81 L266.46,130.80 L265.38,131.64 L264.29,132.38 L263.20,133.02 L262.11,133.57 L261.02,134.04 L259.93,134.45 L258.84,134.78 L257.81,134.91 L256.72,134.89 L255.53,134.94 L254.34,134.92 L253.16,134.84 L251.98,134.71 L250.79,134.57 L249.61,134.42 L248.43,134.26 L247.26,134.10 L246.08,133.93 L244.90,133.75 L243.73,133.56 L242.55,133.37 L241.38,133.17 L240.21,132.96 L239.04,132.75 L237.87,132.53 L236.70,132.30 L235.53,132.06 L234.37,131.82 L233.21,131.57 L232.04,131.31 L230.88,131.04 L229.73,130.77 L228.57,130.49 L227.42,130.20 L226.26,129.91 L225.11,129.61 L223.96,129.30 L222.82,128.98 L221.67,128.66 L220.53,128.33 L219.39,127.99 L218.25,127.65 L217.12,127.30 L215.98,126.94 L214.85,126.57 L213.73,126.20 L212.60,125.82 L211.47,125.43 L210.35,125.04 L209.23,124.64 L208.12,124.23 L207.00,123.82 L205.89,123.40 L204.78,122.97 L203.68,122.54 L202.57,122.10 L201.47,121.65 L200.38,121.20 L199.28,120.74 L198.19,120.27 L197.10,119.80 L196.01,119.32 L194.93,118.83 L193.85,118.34 L192.77,117.84 L191.70,117.34 L190.63,116.83 L189.56,116.31 L188.49,115.78 L187.43,115.26 L186.37,114.72 L185.32,114.18 L184.26,113.63 L183.21,113.08 L182.17,112.52 L181.13,111.95 L180.09,111.38 L179.05,110.80 L178.02,110.22 L176.99,109.63 L175.96,109.03 L174.94,108.43 L173.92,107.83 L172.90,107.22 L171.89,106.61 L170.88,105.99 L169.87,105.37 L168.87,104.74 L167.87,104.10 L166.87,103.46 L165.88,102.81 L164.89,102.16 L163.90,101.50 L162.92,100.84 L161.94,100.18 L160.97,99.50 L160.00,98.83 L159.03,98.14 L158.06,97.46 L157.10,96.76 L156.15,96.07 L155.19,95.37 L154.24,94.66 L153.29,93.95 L152.35,93.24 L151.41,92.52 L150.47,91.79 L149.54,91.06 L148.61,90.33 L147.68,89.60 L146.76,88.86 L145.84,88.11 L144.92,87.36 L144.00,86.61 L143.09,85.86 L142.18,85.10 L141.28,84.33 L140.38,83.57 L139.48,82.80 L138.58,82.02 L137.69,81.25 L136.80,80.47 L135.91,79.68 L135.02,78.90 L134.14,78.11 L133.26,77.31 L132.38,76.52 L131.51,75.72 L130.64,74.92 L129.77,74.11 L128.90,73.30 L128.04,72.49 L127.18,71.68 L126.32,70.86 L125.46,70.05 L124.61,69.23 L123.76,68.40 L122.91,67.58 L122.06,66.75 L121.22,65.92 L120.37,65.08 L119.53,64.25 L118.69,63.41 L117.86,62.57 L117.02,61.73 L116.19,60.89 L115.36,60.04 L114.53,59.19 L113.70,58.34 L112.88,57.49 L112.06,56.64 L111.24,55.79 L110.42,54.93 L109.60,54.07 L108.78,53.21 L107.97,52.35 L107.15,51.48 L106.35,50.61 L105.54,49.74 L104.74,48.87 L103.94,47.99 L103.14,47.11 L102.34,46.24 L101.55,45.36 L100.75,44.48 L99.95,43.60 L99.16,42.71 L98.37,41.83 L97.58,40.95 L96.80,40.05 L96.05,39.13 L95.30,38.20 L94.55,37.28 L93.80,36.35 L93.06,35.43 L92.31,34.50 L91.57,33.57 L90.86,32.61 L90.17,31.64 L89.48,30.67 L88.79,29.70 L88.10,28.73 L87.44,27.72 L86.96,26.57 L86.48,25.42 L86.01,24.27 L85.64,23.03 L85.42,21.68 L85.20,20.32 L84.98,18.97 L84.76,17.64 L84.54,16.30 L84.32,14.97 L84.11,13.65Z" fill="#00bed5"/>
<path d="M46.52,44.40 L47.40,45.35 L48.28,46.30 L49.17,47.25 L50.05,48.20 L50.94,49.14 L51.83,50.09 L52.72,51.03 L53.61,51.97 L54.51,52.91 L55.40,53.85 L56.30,54.79 L57.20,55.72 L58.10,56.66 L59.00,57.59 L59.91,58.51 L60.82,59.44 L61.72,60.37 L62.64,61.29 L63.55,62.21 L64.46,63.13 L65.38,64.05 L66.30,64.96 L67.22,65.88 L68.14,66.79 L69.07,67.70 L70.00,68.60 L70.93,69.51 L71.86,70.41 L72.79,71.31 L73.73,72.21 L74.67,73.10 L75.61,74.00 L76.55,74.89 L77.50,75.78 L78.44,76.66 L79.39,77.54 L80.35,78.42 L81.30,79.30 L82.26,80.18 L83.22,81.05 L84.18,81.92 L85.14,82.79 L86.11,83.66 L87.08,84.52 L88.05,85.38 L89.02,86.23 L90.00,87.09 L90.98,87.94 L91.96,88.79 L92.95,89.63 L93.93,90.47 L94.92,91.31 L95.91,92.15 L96.91,92.98 L97.91,93.81 L98.91,94.64 L99.91,95.46 L100.91,96.28 L101.92,97.10 L102.93,97.91 L103.94,98.72 L104.96,99.53 L105.98,100.33 L107.00,101.13 L108.02,101.93 L109.05,102.72 L110.08,103.51 L111.11,104.29 L112.15,105.07 L113.19,105.85 L114.23,106.62 L115.27,107.39 L116.32,108.16 L117.37,108.92 L118.42,109.68 L119.48,110.43 L120.53,111.18 L121.60,111.93 L122.66,112.67 L123.73,113.41 L124.80,114.14 L125.87,114.87 L126.95,115.59 L128.03,116.31 L129.11,117.03 L130.19,117.74 L131.28,118.45 L132.37,119.15 L133.46,119.85 L134.56,120.54 L135.66,121.23 L136.76,121.91 L137.87,122.59 L138.98,123.26 L140.09,123.93 L141.21,124.59 L142.32,125.25 L143.44,125.90 L144.57,126.55 L145.69,127.19 L146.82,127.83 L147.96,128.46 L149.09,129.09 L150.23,129.71 L151.37,130.33 L152.52,130.94 L153.66,131.55 L154.81,132.15 L155.96,132.74 L157.12,133.33 L158.28,133.92 L159.44,134.50 L160.60,135.07 L161.77,135.64 L162.94,136.20 L164.11,136.76 L165.28,137.31 L166.46,137.86 L167.64,138.40 L168.82,138.94 L170.00,139.47 L171.19,139.99 L172.38,140.51 L173.57,141.02 L174.76,141.53 L175.96,142.03 L177.16,142.53 L178.36,143.02 L179.56,143.50 L180.77,143.98 L181.97,144.45 L183.18,144.92 L184.40,145.38 L185.61,145.84 L186.83,146.28 L188.05,146.73 L189.27,147.17 L190.49,147.60 L191.72,148.02 L192.94,148.44 L194.17,148.86 L195.41,149.26 L196.64,149.66 L197.87,150.06 L199.11,150.45 L200.35,150.83 L201.59,151.21 L202.84,151.58 L204.08,151.94 L205.33,152.30 L206.58,152.65 L207.83,153.00 L209.08,153.34 L210.33,153.67 L211.59,154.00 L212.84,154.32 L214.10,154.63 L215.36,154.94 L216.62,155.24 L217.89,155.53 L219.15,155.82 L220.42,156.10 L221.69,156.38 L222.95,156.65 L224.23,156.91 L225.50,157.16 L226.77,157.41 L228.04,157.65 L229.32,157.89 L230.60,158.12 L231.87,158.34 L233.15,158.56 L234.43,158.76 L235.72,158.97 L237.00,159.16 L238.28,159.35 L239.57,159.53 L240.85,159.71 L242.14,159.87 L243.42,160.03 L244.71,160.19 L246.00,160.34 L247.29,160.48 L248.58,160.61 L249.87,160.74 L251.16,160.86 L252.45,160.97 L253.75,161.07 L255.04,161.17 L256.33,161.27 L257.63,161.35 L258.92,161.40 L260.22,161.40 L261.52,161.40 L262.81,161.40 L264.11,161.40 L265.41,161.40 L266.71,161.40 L268.00,161.40 L269.30,161.40 L269.30,161.40 L268.00,155.78 L266.71,153.57 L265.41,151.96 L264.11,150.68 L262.81,149.61 L261.52,148.71 L260.22,147.94 L258.92,147.28 L257.71,146.59 L256.54,145.96 L255.34,145.45 L254.13,145.00 L252.94,144.61 L251.74,144.28 L250.54,144.00 L249.35,143.78 L248.15,143.60 L246.95,143.45 L245.75,143.29 L244.56,143.13 L243.36,142.95 L242.17,142.77 L240.97,142.59 L239.78,142.39 L238.59,142.19 L237.40,141.99 L236.21,141.77 L235.03,141.55 L233.84,141.32 L232.66,141.09 L231.47,140.85 L230.29,140.60 L229.11,140.35 L227.93,140.08 L226.75,139.82 L225.58,139.54 L224.41,139.26 L223.23,138.97 L222.06,138.67 L220.89,138.37 L219.73,138.06 L218.56,137.75 L217.40,137.43 L216.24,137.10 L215.08,136.76 L213.92,136.42 L212.77,136.07 L211.61,135.71 L210.46,135.35 L209.32,134.98 L208.17,134.60 L207.03,134.22 L205.88,133.83 L204.74,133.44 L203.61,133.03 L202.47,132.63 L201.34,132.21 L200.21,131.79 L199.08,131.36 L197.96,130.93 L196.83,130.49 L195.71,130.05 L194.59,129.59 L193.48,129.14 L192.37,128.67 L191.26,128.20 L190.15,127.73 L189.04,127.25 L187.94,126.76 L186.84,126.27 L185.74,125.77 L184.65,125.26 L183.56,124.75 L182.47,124.24 L181.39,123.71 L180.30,123.19 L179.22,122.65 L178.15,122.11 L177.07,121.57 L176.00,121.02 L174.93,120.46 L173.87,119.90 L172.81,119.33 L171.75,118.76 L170.69,118.18 L169.64,117.60 L168.58,117.02 L167.54,116.43 L166.49,115.83 L165.45,115.23 L164.41,114.63 L163.37,114.02 L162.34,113.40 L161.31,112.78 L160.28,112.15 L159.26,111.52 L158.24,110.88 L157.22,110.24 L156.21,109.59 L155.20,108.94 L154.19,108.29 L153.19,107.62 L152.19,106.96 L151.19,106.29 L150.19,105.61 L149.20,104.93 L148.21,104.25 L147.23,103.56 L146.25,102.86 L145.27,102.17 L144.29,101.46 L143.32,100.76 L142.35,100.05 L141.38,99.33 L140.42,98.61 L139.46,97.89 L138.50,97.16 L137.55,96.43 L136.60,95.70 L135.65,94.96 L134.70,94.22 L133.76,93.47 L132.82,92.72 L131.88,91.97 L130.95,91.21 L130.02,90.46 L129.09,89.69 L128.16,88.93 L127.23,88.16 L126.31,87.39 L125.39,86.62 L124.48,85.84 L123.56,85.06 L122.65,84.27 L121.74,83.49 L120.83,82.70 L119.93,81.90 L119.03,81.11 L118.13,80.31 L117.23,79.51 L116.34,78.70 L115.45,77.90 L114.56,77.09 L113.67,76.28 L112.78,75.46 L111.90,74.65 L111.02,73.83 L110.14,73.00 L109.27,72.18 L108.39,71.35 L107.52,70.52 L106.65,69.69 L105.78,68.86 L104.92,68.02 L104.05,67.19 L103.19,66.35 L102.33,65.50 L101.47,64.66 L100.62,63.82 L99.76,62.97 L98.91,62.12 L98.06,61.26 L97.22,60.40 L96.38,59.54 L95.54,58.68 L94.70,57.81 L93.87,56.94 L93.03,56.07 L92.20,55.20 L91.37,54.33 L90.54,53.46 L89.72,52.58 L88.89,51.70 L88.07,50.83 L87.24,49.95 L86.43,49.06 L85.61,48.17 L84.80,47.29 L83.98,46.40 L83.17,45.51 L82.36,44.61 L81.55,43.72 L80.74,42.83 L79.93,41.95 L79.11,41.06 L78.29,40.17 L77.48,39.29 L76.66,38.40 L75.83,37.52 L74.99,36.67 L74.14,35.81 L73.29,34.94 L72.32,34.19 L71.29,33.49 L70.25,32.79 L69.21,32.08 L67.86,31.64 L66.44,31.24 L65.02,30.84 L63.59,30.44Z" fill="#00bed5"/>
<path d="M99.35,1.18 L100.05,2.00 L100.74,2.81 L101.43,3.63 L102.12,4.45 L102.81,5.27 L103.50,6.09 L104.19,6.91 L104.87,7.73 L105.56,8.56 L106.24,9.38 L106.93,10.21 L107.61,11.03 L108.29,11.86 L108.97,12.68 L109.65,13.51 L110.33,14.34 L111.01,15.17 L111.69,15.99 L112.37,16.82 L113.05,17.65 L113.73,18.48 L114.41,19.31 L115.09,20.14 L115.77,20.97 L116.44,21.80 L117.12,22.63 L117.80,23.45 L118.48,24.28 L119.16,25.11 L119.84,25.94 L120.52,26.77 L121.20,27.60 L121.88,28.42 L122.56,29.25 L123.24,30.08 L123.92,30.90 L124.61,31.73 L125.29,32.55 L125.98,33.38 L126.66,34.20 L127.35,35.02 L128.04,35.84 L128.72,36.66 L129.41,37.48 L130.10,38.30 L130.80,39.12 L131.49,39.94 L132.18,40.75 L132.88,41.57 L133.58,42.38 L134.27,43.19 L134.97,44.00 L135.68,44.81 L136.38,45.62 L137.08,46.43 L137.79,47.23 L138.50,48.04 L139.21,48.84 L139.92,49.64 L140.63,50.44 L141.35,51.24 L142.07,52.03 L142.79,52.83 L143.51,53.62 L144.23,54.41 L144.96,55.19 L145.69,55.98 L146.42,56.76 L147.15,57.54 L147.89,58.32 L148.63,59.10 L149.37,59.87 L150.11,60.64 L150.86,61.41 L151.60,62.18 L152.35,62.94 L153.11,63.70 L153.87,64.46 L154.63,65.22 L155.39,65.97 L156.15,66.72 L156.92,67.47 L157.69,68.21 L158.47,68.95 L159.24,69.69 L160.03,70.42 L160.81,71.15 L161.60,71.88 L162.39,72.60 L163.18,73.32 L163.98,74.03 L164.78,74.75 L165.58,75.45 L166.39,76.16 L167.20,76.86 L168.02,77.55 L168.83,78.25 L169.66,78.93 L170.48,79.62 L171.31,80.29 L172.14,80.97 L172.98,81.64 L173.82,82.30 L174.66,82.96 L175.51,83.62 L176.36,84.27 L177.22,84.91 L178.08,85.55 L178.94,86.18 L179.81,86.81 L180.68,87.44 L181.55,88.06 L182.43,88.67 L183.32,89.28 L184.20,89.88 L185.09,90.47 L185.98,91.07 L186.88,91.65 L187.78,92.23 L188.69,92.80 L189.59,93.37 L190.51,93.94 L191.42,94.49 L192.34,95.04 L193.26,95.59 L194.19,96.13 L195.12,96.66 L196.05,97.19 L196.98,97.71 L197.92,98.23 L198.87,98.74 L199.81,99.24 L200.76,99.74 L201.71,100.23 L202.67,100.71 L203.63,101.19 L204.59,101.66 L205.55,102.13 L206.52,102.59 L207.49,103.04 L208.47,103.49 L209.44,103.93 L210.42,104.36 L211.40,104.79 L212.39,105.21 L213.38,105.62 L214.37,106.03 L215.36,106.43 L216.36,106.82 L217.36,107.21 L218.36,107.58 L219.37,107.96 L220.37,108.32 L221.38,108.68 L222.39,109.03 L223.41,109.38 L224.42,109.72 L225.44,110.05 L226.46,110.37 L227.49,110.69 L228.51,110.99 L229.54,111.30 L230.57,111.59 L231.60,111.88 L232.64,112.16 L233.67,112.43 L234.71,112.70 L235.75,112.95 L236.79,113.20 L237.84,113.45 L238.88,113.69 L239.93,113.91 L240.98,114.14 L242.02,114.35 L243.08,114.56 L244.13,114.76 L245.18,114.96 L246.24,115.14 L247.29,115.33 L248.35,115.50 L249.41,115.67 L250.47,115.83 L251.53,115.98 L252.59,116.12 L253.65,116.26 L254.71,116.40 L255.78,116.52 L256.84,116.64 L257.84,116.85 L258.69,117.20 L259.76,117.20 L260.83,117.20 L261.90,117.20 L262.97,117.20 L264.04,117.20 L265.11,117.20 L266.19,117.20 L267.26,117.20 L268.33,117.20 L269.40,117.20 L269.40,117.20 L268.33,122.79 L267.26,124.97 L266.19,126.56 L265.11,127.82 L264.04,128.86 L262.97,129.73 L261.90,130.47 L260.83,131.09 L259.76,131.62 L258.69,132.06 L257.73,132.18 L256.63,132.30 L255.47,132.41 L254.32,132.44 L253.16,132.40 L252.01,132.29 L250.87,132.15 L249.72,132.00 L248.57,131.85 L247.42,131.69 L246.28,131.52 L245.13,131.34 L243.99,131.16 L242.85,130.97 L241.71,130.77 L240.57,130.57 L239.43,130.36 L238.29,130.14 L237.16,129.92 L236.03,129.68 L234.89,129.44 L233.76,129.20 L232.63,128.95 L231.51,128.69 L230.38,128.42 L229.26,128.15 L228.13,127.86 L227.01,127.58 L225.89,127.28 L224.78,126.98 L223.66,126.67 L222.55,126.35 L221.44,126.03 L220.33,125.70 L219.23,125.36 L218.12,125.02 L217.02,124.67 L215.92,124.31 L214.82,123.95 L213.73,123.58 L212.63,123.20 L211.54,122.81 L210.46,122.42 L209.37,122.02 L208.29,121.62 L207.21,121.21 L206.13,120.79 L205.06,120.37 L203.98,119.94 L202.91,119.50 L201.85,119.06 L200.78,118.61 L199.72,118.15 L198.66,117.69 L197.60,117.22 L196.55,116.75 L195.50,116.27 L194.45,115.78 L193.41,115.29 L192.37,114.79 L191.33,114.28 L190.29,113.77 L189.26,113.26 L188.23,112.73 L187.21,112.20 L186.18,111.67 L185.16,111.13 L184.15,110.58 L183.13,110.03 L182.12,109.47 L181.12,108.91 L180.11,108.34 L179.11,107.76 L178.11,107.18 L177.12,106.60 L176.13,106.01 L175.14,105.41 L174.16,104.81 L173.18,104.21 L172.20,103.60 L171.22,102.98 L170.25,102.36 L169.28,101.74 L168.32,101.11 L167.36,100.47 L166.40,99.83 L165.45,99.18 L164.50,98.53 L163.55,97.87 L162.61,97.21 L161.67,96.55 L160.73,95.87 L159.80,95.20 L158.87,94.52 L157.94,93.83 L157.02,93.15 L156.10,92.45 L155.18,91.75 L154.27,91.05 L153.36,90.34 L152.45,89.63 L151.55,88.92 L150.65,88.20 L149.75,87.48 L148.86,86.75 L147.97,86.02 L147.08,85.29 L146.19,84.55 L145.31,83.81 L144.43,83.06 L143.56,82.31 L142.69,81.56 L141.82,80.81 L140.95,80.05 L140.08,79.28 L139.22,78.52 L138.36,77.75 L137.51,76.98 L136.66,76.21 L135.81,75.43 L134.96,74.65 L134.11,73.87 L133.27,73.08 L132.43,72.29 L131.59,71.50 L130.76,70.71 L129.92,69.91 L129.09,69.11 L128.27,68.31 L127.44,67.51 L126.62,66.70 L125.79,65.89 L124.98,65.08 L124.16,64.27 L123.34,63.45 L122.53,62.63 L121.72,61.82 L120.91,60.99 L120.10,60.17 L119.30,59.35 L118.50,58.52 L117.69,57.69 L116.89,56.86 L116.10,56.03 L115.30,55.19 L114.51,54.36 L113.71,53.52 L112.92,52.68 L112.13,51.84 L111.34,51.00 L110.56,50.15 L109.77,49.31 L108.99,48.45 L108.22,47.60 L107.44,46.75 L106.66,45.89 L105.89,45.03 L105.12,44.18 L104.35,43.32 L103.58,42.46 L102.81,41.60 L102.04,40.73 L101.27,39.87 L100.51,39.01 L99.74,38.14 L99.00,37.26 L98.27,36.36 L97.54,35.46 L96.81,34.56 L96.09,33.66 L95.36,32.76 L94.64,31.86 L93.92,30.95 L93.23,30.01 L92.55,29.08 L91.87,28.14 L91.19,27.20 L90.51,26.26 L89.90,25.27 L89.40,24.17 L88.90,23.08 L88.40,21.99 L88.03,20.80 L87.75,19.54 L87.47,18.27 L87.19,17.01 L86.92,15.76 L86.64,14.51 L86.36,13.27 L86.09,12.03Z" fill="#00d48e"/>
<path d="M46.52,44.40 L47.39,45.34 L48.27,46.28 L49.14,47.22 L50.01,48.16 L50.89,49.09 L51.77,50.03 L52.65,50.96 L53.53,51.89 L54.42,52.82 L55.30,53.75 L56.19,54.68 L57.08,55.60 L57.97,56.52 L58.87,57.45 L59.76,58.36 L60.66,59.28 L61.56,60.20 L62.46,61.11 L63.36,62.02 L64.27,62.93 L65.17,63.84 L66.08,64.75 L66.99,65.65 L67.91,66.55 L68.82,67.45 L69.74,68.35 L70.66,69.24 L71.58,70.14 L72.50,71.03 L73.43,71.92 L74.35,72.80 L75.28,73.69 L76.22,74.57 L77.15,75.45 L78.09,76.33 L79.03,77.20 L79.97,78.07 L80.91,78.94 L81.86,79.81 L82.80,80.68 L83.75,81.54 L84.71,82.40 L85.66,83.25 L86.62,84.11 L87.58,84.96 L88.54,85.81 L89.51,86.65 L90.47,87.50 L91.44,88.34 L92.41,89.18 L93.39,90.01 L94.37,90.84 L95.35,91.67 L96.33,92.50 L97.31,93.32 L98.30,94.14 L99.29,94.95 L100.28,95.77 L101.28,96.58 L102.28,97.38 L103.28,98.19 L104.28,98.99 L105.29,99.78 L106.29,100.58 L107.31,101.37 L108.32,102.15 L109.34,102.94 L110.36,103.72 L111.38,104.49 L112.40,105.26 L113.43,106.03 L114.46,106.80 L115.49,107.56 L116.53,108.31 L117.57,109.07 L118.61,109.82 L119.66,110.56 L120.70,111.30 L121.75,112.04 L122.81,112.77 L123.86,113.50 L124.92,114.23 L125.98,114.95 L127.05,115.66 L128.11,116.37 L129.19,117.08 L130.26,117.78 L131.33,118.48 L132.41,119.18 L133.50,119.87 L134.58,120.55 L135.67,121.23 L136.76,121.91 L137.85,122.58 L138.95,123.24 L140.05,123.91 L141.15,124.56 L142.26,125.21 L143.37,125.86 L144.48,126.50 L145.59,127.14 L146.71,127.77 L147.83,128.39 L148.95,129.01 L150.08,129.63 L151.21,130.24 L152.34,130.85 L153.47,131.45 L154.61,132.04 L155.75,132.63 L156.89,133.22 L158.04,133.80 L159.18,134.37 L160.33,134.94 L161.49,135.50 L162.64,136.06 L163.80,136.61 L164.96,137.16 L166.12,137.70 L167.29,138.24 L168.46,138.77 L169.63,139.30 L170.80,139.82 L171.97,140.33 L173.15,140.84 L174.33,141.35 L175.51,141.85 L176.70,142.34 L177.89,142.82 L179.08,143.31 L180.27,143.78 L181.46,144.25 L182.66,144.72 L183.86,145.18 L185.06,145.63 L186.26,146.08 L187.46,146.52 L188.67,146.95 L189.88,147.38 L191.09,147.81 L192.30,148.22 L193.52,148.64 L194.74,149.04 L195.95,149.44 L197.18,149.84 L198.40,150.22 L199.62,150.61 L200.85,150.98 L202.08,151.35 L203.31,151.72 L204.54,152.08 L205.78,152.43 L207.01,152.77 L208.25,153.11 L209.49,153.45 L210.73,153.77 L211.97,154.09 L213.21,154.41 L214.46,154.72 L215.71,155.02 L216.96,155.32 L218.21,155.61 L219.46,155.89 L220.71,156.17 L221.96,156.44 L223.22,156.70 L224.48,156.96 L225.73,157.21 L226.99,157.45 L228.25,157.69 L229.52,157.92 L230.78,158.15 L232.04,158.37 L233.31,158.58 L234.58,158.79 L235.84,158.99 L237.11,159.18 L238.38,159.36 L239.65,159.54 L240.92,159.72 L242.20,159.88 L243.47,160.04 L244.74,160.19 L246.02,160.34 L247.29,160.48 L248.57,160.61 L249.85,160.73 L251.13,160.85 L252.40,160.96 L253.68,161.07 L254.96,161.17 L256.24,161.26 L257.52,161.34 L258.80,161.40 L260.08,161.40 L261.37,161.40 L262.65,161.40 L263.93,161.40 L265.22,161.40 L266.50,161.40 L266.50,161.40 L265.22,156.04 L263.93,153.96 L262.65,152.46 L261.37,151.28 L260.08,150.33 L258.80,149.54 L257.61,148.74 L256.42,148.07 L255.22,147.52 L254.02,147.06 L252.83,146.67 L251.63,146.36 L250.44,146.11 L249.24,145.94 L248.04,145.80 L246.84,145.65 L245.65,145.49 L244.45,145.33 L243.26,145.16 L242.07,144.98 L240.87,144.80 L239.68,144.61 L238.49,144.42 L237.30,144.21 L236.12,144.00 L234.93,143.79 L233.74,143.56 L232.56,143.34 L231.38,143.10 L230.20,142.86 L229.02,142.61 L227.84,142.35 L226.66,142.09 L225.49,141.82 L224.31,141.54 L223.14,141.26 L221.97,140.97 L220.80,140.68 L219.63,140.37 L218.47,140.07 L217.31,139.75 L216.14,139.43 L214.98,139.10 L213.83,138.77 L212.67,138.43 L211.52,138.08 L210.36,137.72 L209.21,137.36 L208.07,136.99 L206.92,136.62 L205.78,136.24 L204.64,135.85 L203.50,135.46 L202.36,135.06 L201.23,134.66 L200.09,134.25 L198.96,133.83 L197.84,133.41 L196.71,132.98 L195.59,132.54 L194.47,132.10 L193.35,131.65 L192.23,131.20 L191.12,130.74 L190.01,130.28 L188.90,129.81 L187.80,129.33 L186.69,128.85 L185.59,128.36 L184.49,127.87 L183.40,127.37 L182.31,126.87 L181.22,126.36 L180.13,125.84 L179.05,125.32 L177.96,124.79 L176.89,124.26 L175.81,123.72 L174.74,123.18 L173.67,122.63 L172.60,122.07 L171.53,121.51 L170.47,120.95 L169.41,120.38 L168.36,119.81 L167.30,119.23 L166.25,118.65 L165.20,118.06 L164.16,117.46 L163.12,116.87 L162.08,116.26 L161.04,115.65 L160.01,115.04 L158.98,114.42 L157.95,113.80 L156.93,113.17 L155.90,112.54 L154.89,111.90 L153.87,111.25 L152.86,110.61 L151.85,109.95 L150.85,109.29 L149.84,108.63 L148.85,107.97 L147.85,107.29 L146.86,106.62 L145.87,105.94 L144.88,105.25 L143.90,104.56 L142.92,103.87 L141.94,103.17 L140.96,102.47 L139.99,101.77 L139.02,101.06 L138.06,100.34 L137.09,99.62 L136.13,98.90 L135.18,98.18 L134.22,97.45 L133.27,96.71 L132.32,95.98 L131.38,95.24 L130.43,94.49 L129.49,93.75 L128.55,93.00 L127.62,92.25 L126.68,91.49 L125.75,90.73 L124.83,89.97 L123.90,89.20 L122.98,88.43 L122.06,87.66 L121.14,86.89 L120.22,86.11 L119.31,85.33 L118.40,84.54 L117.49,83.76 L116.59,82.97 L115.69,82.17 L114.79,81.38 L113.89,80.58 L112.99,79.78 L112.10,78.97 L111.21,78.17 L110.32,77.36 L109.43,76.55 L108.55,75.73 L107.67,74.92 L106.79,74.10 L105.91,73.28 L105.03,72.46 L104.16,71.63 L103.29,70.80 L102.42,69.97 L101.55,69.14 L100.68,68.31 L99.82,67.47 L98.96,66.63 L98.10,65.79 L97.24,64.95 L96.38,64.10 L95.53,63.25 L94.69,62.40 L93.84,61.54 L93.00,60.68 L92.16,59.82 L91.32,58.96 L90.48,58.10 L89.64,57.23 L88.81,56.37 L87.97,55.50 L87.14,54.63 L86.31,53.76 L85.48,52.89 L84.66,52.01 L83.84,51.13 L83.02,50.25 L82.20,49.37 L81.38,48.49 L80.56,47.60 L79.75,46.72 L78.94,45.83 L78.12,44.94 L77.30,44.06 L76.48,43.18 L75.66,42.30 L74.85,41.42 L74.03,40.53 L73.20,39.66 L72.35,38.80 L71.51,37.94 L70.66,37.08 L69.70,36.32 L68.69,35.60 L67.68,34.87 L66.68,34.14 L65.39,33.65 L64.05,33.19 L62.71,32.72 L61.37,32.25Z" fill="#00d48e"/>
<path d="M99.35,1.18 L100.04,1.99 L100.72,2.79 L101.40,3.60 L102.09,4.41 L102.77,5.22 L103.45,6.03 L104.12,6.84 L104.80,7.65 L105.48,8.46 L106.15,9.27 L106.83,10.09 L107.50,10.90 L108.18,11.72 L108.85,12.53 L109.52,13.35 L110.19,14.17 L110.86,14.98 L111.53,15.80 L112.20,16.62 L112.87,17.43 L113.54,18.25 L114.21,19.07 L114.88,19.89 L115.55,20.71 L116.22,21.53 L116.89,22.34 L117.56,23.16 L118.23,23.98 L118.90,24.80 L119.57,25.62 L120.24,26.43 L120.91,27.25 L121.59,28.07 L122.26,28.88 L122.93,29.70 L123.60,30.51 L124.28,31.33 L124.95,32.14 L125.63,32.96 L126.30,33.77 L126.98,34.58 L127.66,35.39 L128.34,36.20 L129.02,37.01 L129.70,37.82 L130.38,38.63 L131.06,39.44 L131.75,40.24 L132.43,41.05 L133.12,41.85 L133.81,42.65 L134.50,43.45 L135.19,44.25 L135.88,45.05 L136.58,45.85 L137.27,46.65 L137.97,47.44 L138.67,48.23 L139.37,49.02 L140.07,49.81 L140.78,50.60 L141.49,51.39 L142.19,52.17 L142.90,52.96 L143.62,53.74 L144.33,54.51 L145.05,55.29 L145.77,56.07 L146.49,56.84 L147.21,57.61 L147.94,58.38 L148.67,59.14 L149.40,59.91 L150.13,60.67 L150.87,61.43 L151.61,62.18 L152.35,62.94 L153.09,63.69 L153.84,64.44 L154.59,65.18 L155.34,65.93 L156.10,66.67 L156.86,67.40 L157.62,68.14 L158.38,68.87 L159.15,69.60 L159.92,70.32 L160.69,71.04 L161.47,71.76 L162.25,72.47 L163.03,73.18 L163.82,73.89 L164.61,74.59 L165.40,75.29 L166.19,75.99 L166.99,76.68 L167.80,77.37 L168.60,78.05 L169.41,78.73 L170.23,79.41 L171.04,80.08 L171.86,80.74 L172.69,81.41 L173.52,82.06 L174.35,82.72 L175.18,83.36 L176.02,84.01 L176.87,84.65 L177.71,85.28 L178.56,85.91 L179.42,86.53 L180.28,87.15 L181.14,87.76 L182.00,88.37 L182.87,88.97 L183.74,89.57 L184.62,90.16 L185.50,90.75 L186.38,91.33 L187.27,91.90 L188.16,92.47 L189.05,93.04 L189.95,93.59 L190.85,94.15 L191.76,94.70 L192.67,95.24 L193.58,95.77 L194.49,96.30 L195.41,96.83 L196.33,97.35 L197.25,97.86 L198.18,98.37 L199.11,98.87 L200.05,99.36 L200.99,99.85 L201.93,100.34 L202.87,100.81 L203.82,101.28 L204.77,101.75 L205.72,102.21 L206.67,102.66 L207.63,103.10 L208.59,103.54 L209.56,103.98 L210.53,104.40 L211.50,104.82 L212.47,105.24 L213.44,105.65 L214.42,106.05 L215.40,106.44 L216.39,106.83 L217.37,107.21 L218.36,107.59 L219.35,107.95 L220.35,108.31 L221.34,108.67 L222.34,109.02 L223.34,109.36 L224.35,109.69 L225.35,110.02 L226.36,110.34 L227.37,110.65 L228.38,110.95 L229.39,111.25 L230.41,111.55 L231.43,111.83 L232.45,112.11 L233.47,112.38 L234.50,112.64 L235.52,112.90 L236.55,113.15 L237.58,113.39 L238.61,113.62 L239.64,113.85 L240.67,114.07 L241.71,114.29 L242.75,114.50 L243.78,114.70 L244.82,114.89 L245.86,115.08 L246.91,115.26 L247.95,115.43 L248.99,115.60 L250.04,115.76 L251.08,115.92 L252.13,116.06 L253.18,116.20 L254.23,116.34 L255.28,116.46 L256.33,116.59 L257.38,116.70 L258.14,117.20 L259.20,117.20 L260.26,117.20 L261.31,117.20 L262.37,117.20 L263.43,117.20 L264.49,117.20 L265.54,117.20 L266.60,117.20 L266.60,117.20 L265.54,122.39 L264.49,124.39 L263.43,125.83 L262.37,126.95 L261.31,127.85 L260.26,128.59 L259.20,129.20 L258.14,129.70 L257.23,129.71 L256.11,129.90 L254.98,130.01 L253.86,130.02 L252.73,129.95 L251.61,129.82 L250.49,129.67 L249.37,129.53 L248.25,129.37 L247.13,129.21 L246.02,129.04 L244.90,128.86 L243.79,128.68 L242.67,128.49 L241.56,128.29 L240.45,128.09 L239.34,127.87 L238.23,127.66 L237.12,127.43 L236.02,127.20 L234.91,126.96 L233.81,126.72 L232.71,126.47 L231.61,126.21 L230.51,125.94 L229.42,125.67 L228.32,125.39 L227.23,125.10 L226.14,124.81 L225.05,124.51 L223.97,124.20 L222.88,123.89 L221.80,123.57 L220.72,123.24 L219.64,122.91 L218.57,122.57 L217.49,122.22 L216.42,121.87 L215.35,121.50 L214.28,121.14 L213.22,120.76 L212.16,120.38 L211.10,120.00 L210.04,119.60 L208.98,119.20 L207.93,118.80 L206.88,118.38 L205.84,117.96 L204.79,117.54 L203.75,117.11 L202.71,116.67 L201.67,116.23 L200.64,115.78 L199.61,115.32 L198.58,114.86 L197.55,114.39 L196.53,113.91 L195.51,113.43 L194.49,112.95 L193.48,112.46 L192.47,111.96 L191.46,111.45 L190.46,110.94 L189.45,110.43 L188.45,109.91 L187.46,109.38 L186.47,108.85 L185.48,108.31 L184.49,107.76 L183.51,107.21 L182.53,106.66 L181.55,106.10 L180.58,105.53 L179.61,104.96 L178.64,104.38 L177.67,103.80 L176.71,103.21 L175.76,102.62 L174.80,102.02 L173.85,101.42 L172.90,100.82 L171.96,100.20 L171.02,99.59 L170.08,98.97 L169.14,98.34 L168.21,97.71 L167.28,97.07 L166.36,96.43 L165.44,95.78 L164.52,95.13 L163.61,94.47 L162.70,93.81 L161.79,93.15 L160.89,92.48 L159.99,91.80 L159.09,91.13 L158.20,90.44 L157.31,89.76 L156.42,89.06 L155.54,88.37 L154.65,87.67 L153.78,86.97 L152.90,86.26 L152.03,85.55 L151.16,84.83 L150.30,84.11 L149.44,83.39 L148.58,82.66 L147.72,81.94 L146.87,81.20 L146.02,80.47 L145.17,79.73 L144.33,78.98 L143.48,78.24 L142.65,77.49 L141.81,76.74 L140.98,75.98 L140.15,75.22 L139.32,74.46 L138.49,73.70 L137.67,72.93 L136.85,72.16 L136.03,71.39 L135.21,70.62 L134.40,69.84 L133.59,69.06 L132.78,68.28 L131.98,67.49 L131.17,66.70 L130.37,65.91 L129.57,65.12 L128.78,64.33 L127.98,63.53 L127.19,62.73 L126.40,61.93 L125.61,61.13 L124.82,60.33 L124.04,59.52 L123.25,58.71 L122.47,57.90 L121.69,57.09 L120.91,56.27 L120.14,55.46 L119.36,54.64 L118.59,53.82 L117.82,53.00 L117.05,52.18 L116.28,51.36 L115.52,50.53 L114.75,49.71 L113.99,48.88 L113.23,48.05 L112.47,47.22 L111.71,46.39 L110.95,45.55 L110.20,44.71 L109.45,43.87 L108.70,43.03 L107.95,42.19 L107.20,41.34 L106.45,40.50 L105.71,39.66 L104.96,38.81 L104.22,37.96 L103.48,37.12 L102.73,36.27 L101.99,35.42 L101.28,34.55 L100.56,33.67 L99.85,32.79 L99.14,31.91 L98.43,31.04 L97.72,30.16 L97.01,29.28 L96.32,28.39 L95.64,27.48 L94.97,26.57 L94.30,25.66 L93.63,24.75 L92.96,23.84 L92.36,22.87 L91.84,21.83 L91.32,20.79 L90.81,19.76 L90.41,18.62 L90.07,17.43 L89.74,16.25 L89.41,15.07 L89.07,13.90 L88.73,12.74 L88.40,11.57 L88.07,10.41Z" fill="#00d330"/>
<path d="M46.52,44.40 L47.37,45.32 L48.23,46.24 L49.08,47.16 L49.94,48.07 L50.79,48.99 L51.65,49.90 L52.51,50.82 L53.38,51.73 L54.24,52.64 L55.11,53.54 L55.97,54.45 L56.84,55.36 L57.72,56.26 L58.59,57.16 L59.46,58.06 L60.34,58.96 L61.22,59.85 L62.10,60.75 L62.98,61.64 L63.86,62.53 L64.75,63.42 L65.64,64.30 L66.53,65.19 L67.42,66.07 L68.31,66.95 L69.21,67.83 L70.10,68.71 L71.00,69.58 L71.91,70.46 L72.81,71.33 L73.71,72.19 L74.62,73.06 L75.53,73.92 L76.44,74.79 L77.36,75.64 L78.27,76.50 L79.19,77.36 L80.11,78.21 L81.04,79.06 L81.96,79.91 L82.89,80.75 L83.82,81.60 L84.75,82.44 L85.68,83.27 L86.62,84.11 L87.56,84.94 L88.50,85.77 L89.44,86.60 L90.39,87.42 L91.34,88.25 L92.29,89.06 L93.24,89.88 L94.19,90.69 L95.15,91.51 L96.11,92.31 L97.07,93.12 L98.04,93.92 L99.00,94.72 L99.97,95.52 L100.95,96.31 L101.92,97.10 L102.90,97.88 L103.88,98.67 L104.86,99.45 L105.85,100.23 L106.83,101.00 L107.82,101.77 L108.82,102.54 L109.81,103.30 L110.81,104.06 L111.81,104.82 L112.81,105.57 L113.82,106.32 L114.83,107.07 L115.84,107.81 L116.85,108.55 L117.87,109.28 L118.89,110.02 L119.91,110.74 L120.94,111.47 L121.96,112.19 L122.99,112.90 L124.03,113.61 L125.06,114.32 L126.10,115.03 L127.14,115.73 L128.19,116.42 L129.23,117.11 L130.28,117.80 L131.34,118.48 L132.39,119.16 L133.45,119.84 L134.51,120.51 L135.57,121.17 L136.64,121.83 L137.71,122.49 L138.78,123.14 L139.86,123.79 L140.93,124.43 L142.01,125.07 L143.10,125.70 L144.18,126.33 L145.27,126.95 L146.36,127.57 L147.46,128.19 L148.55,128.79 L149.65,129.40 L150.76,130.00 L151.86,130.59 L152.97,131.18 L154.08,131.77 L155.19,132.34 L156.31,132.92 L157.43,133.49 L158.55,134.05 L159.67,134.61 L160.79,135.17 L161.92,135.72 L163.05,136.26 L164.19,136.80 L165.32,137.33 L166.46,137.86 L167.60,138.38 L168.74,138.90 L169.89,139.42 L171.03,139.92 L172.18,140.43 L173.34,140.92 L174.49,141.41 L175.65,141.90 L176.81,142.38 L177.97,142.86 L179.13,143.33 L180.29,143.79 L181.46,144.25 L182.63,144.71 L183.80,145.16 L184.98,145.60 L186.15,146.04 L187.33,146.47 L188.51,146.89 L189.69,147.32 L190.88,147.73 L192.06,148.14 L193.25,148.55 L194.44,148.94 L195.63,149.34 L196.82,149.72 L198.02,150.11 L199.22,150.48 L200.42,150.85 L201.62,151.21 L202.82,151.57 L204.02,151.93 L205.23,152.27 L206.44,152.61 L207.65,152.95 L208.86,153.28 L210.07,153.60 L211.28,153.92 L212.50,154.23 L213.71,154.53 L214.93,154.83 L216.15,155.13 L217.37,155.41 L218.60,155.70 L219.82,155.97 L221.05,156.24 L222.27,156.50 L223.50,156.76 L224.73,157.01 L225.96,157.25 L227.19,157.49 L228.43,157.72 L229.66,157.95 L230.89,158.17 L232.13,158.38 L233.37,158.59 L234.61,158.79 L235.85,158.99 L237.09,159.17 L238.33,159.36 L239.57,159.53 L240.81,159.70 L242.06,159.86 L243.30,160.02 L244.55,160.17 L245.79,160.31 L247.04,160.45 L248.29,160.58 L249.54,160.70 L250.79,160.82 L252.04,160.93 L253.29,161.04 L254.54,161.14 L255.79,161.23 L257.04,161.31 L258.29,161.40 L259.55,161.40 L260.80,161.40 L260.80,161.40 L259.55,156.12 L258.29,154.13 L257.13,152.57 L255.94,151.42 L254.76,150.49 L253.58,149.75 L252.40,149.15 L251.23,148.69 L250.05,148.34 L248.87,148.11 L247.69,147.96 L246.51,147.81 L245.33,147.66 L244.15,147.50 L242.97,147.34 L241.79,147.17 L240.61,146.99 L239.44,146.81 L238.26,146.61 L237.09,146.42 L235.91,146.22 L234.74,146.01 L233.57,145.79 L232.40,145.57 L231.23,145.34 L230.07,145.10 L228.90,144.86 L227.74,144.62 L226.57,144.36 L225.41,144.10 L224.25,143.83 L223.10,143.56 L221.94,143.28 L220.78,143.00 L219.63,142.71 L218.48,142.41 L217.33,142.10 L216.18,141.79 L215.03,141.48 L213.89,141.16 L212.74,140.83 L211.60,140.49 L210.46,140.15 L209.32,139.80 L208.19,139.45 L207.05,139.09 L205.92,138.72 L204.79,138.35 L203.66,137.97 L202.54,137.59 L201.41,137.20 L200.29,136.81 L199.17,136.41 L198.06,136.00 L196.94,135.59 L195.83,135.17 L194.72,134.74 L193.61,134.31 L192.50,133.88 L191.40,133.44 L190.30,132.99 L189.20,132.54 L188.10,132.08 L187.01,131.62 L185.91,131.15 L184.82,130.68 L183.74,130.20 L182.65,129.71 L181.57,129.22 L180.49,128.72 L179.41,128.22 L178.34,127.72 L177.27,127.21 L176.20,126.69 L175.13,126.17 L174.07,125.64 L173.00,125.10 L171.95,124.57 L170.89,124.02 L169.84,123.48 L168.79,122.92 L167.74,122.37 L166.69,121.80 L165.65,121.24 L164.61,120.67 L163.57,120.09 L162.53,119.51 L161.50,118.93 L160.47,118.34 L159.45,117.74 L158.42,117.14 L157.40,116.53 L156.38,115.93 L155.37,115.31 L154.36,114.69 L153.35,114.07 L152.34,113.44 L151.34,112.81 L150.34,112.17 L149.34,111.52 L148.35,110.88 L147.35,110.23 L146.37,109.57 L145.38,108.91 L144.40,108.25 L143.42,107.58 L142.44,106.90 L141.47,106.23 L140.50,105.55 L139.53,104.86 L138.56,104.17 L137.60,103.48 L136.64,102.78 L135.68,102.08 L134.73,101.38 L133.78,100.67 L132.83,99.96 L131.88,99.24 L130.94,98.52 L130.00,97.80 L129.06,97.07 L128.12,96.35 L127.19,95.61 L126.26,94.88 L125.33,94.14 L124.40,93.40 L123.48,92.65 L122.56,91.91 L121.64,91.16 L120.73,90.40 L119.81,89.64 L118.90,88.88 L117.99,88.12 L117.09,87.36 L116.19,86.59 L115.28,85.81 L114.39,85.04 L113.49,84.26 L112.59,83.48 L111.70,82.70 L110.81,81.92 L109.93,81.13 L109.04,80.34 L108.16,79.54 L107.28,78.75 L106.40,77.95 L105.52,77.15 L104.65,76.35 L103.78,75.54 L102.91,74.73 L102.04,73.93 L101.17,73.11 L100.31,72.30 L99.44,71.48 L98.58,70.66 L97.73,69.84 L96.87,69.02 L96.02,68.20 L95.16,67.37 L94.31,66.54 L93.47,65.71 L92.62,64.87 L91.78,64.03 L90.94,63.19 L90.11,62.35 L89.27,61.50 L88.44,60.66 L87.61,59.81 L86.78,58.96 L85.95,58.11 L85.12,57.26 L84.29,56.40 L83.47,55.54 L82.65,54.69 L81.83,53.83 L81.01,52.96 L80.20,52.10 L79.39,51.23 L78.57,50.36 L77.76,49.49 L76.95,48.62 L76.15,47.75 L75.33,46.89 L74.52,46.02 L73.71,45.15 L72.90,44.28 L72.09,43.41 L71.28,42.54 L70.45,41.69 L69.62,40.84 L68.79,39.99 L67.96,39.14 L67.00,38.39 L66.04,37.65 L65.07,36.91 L64.10,36.17 L62.88,35.64 L61.64,35.12 L60.40,34.59 L59.16,34.06Z" fill="#00d330"/>
<path d="M99.35,1.18 L100.03,1.97 L100.70,2.77 L101.38,3.57 L102.05,4.36 L102.72,5.16 L103.39,5.96 L104.06,6.76 L104.73,7.56 L105.40,8.36 L106.06,9.17 L106.73,9.97 L107.40,10.77 L108.06,11.58 L108.72,12.38 L109.39,13.19 L110.05,13.99 L110.71,14.80 L111.37,15.60 L112.04,16.41 L112.70,17.22 L113.36,18.03 L114.02,18.83 L114.68,19.64 L115.34,20.45 L116.00,21.25 L116.66,22.06 L117.32,22.87 L117.98,23.68 L118.65,24.48 L119.31,25.29 L119.97,26.10 L120.63,26.90 L121.29,27.71 L121.96,28.51 L122.62,29.32 L123.28,30.12 L123.95,30.93 L124.61,31.73 L125.28,32.54 L125.95,33.34 L126.61,34.14 L127.28,34.94 L127.95,35.74 L128.62,36.54 L129.29,37.34 L129.96,38.14 L130.64,38.93 L131.31,39.73 L131.99,40.52 L132.66,41.32 L133.34,42.11 L134.02,42.90 L134.70,43.69 L135.39,44.48 L136.07,45.27 L136.76,46.06 L137.44,46.84 L138.13,47.62 L138.82,48.41 L139.51,49.19 L140.21,49.97 L140.90,50.74 L141.60,51.52 L142.30,52.29 L143.00,53.06 L143.71,53.83 L144.41,54.60 L145.12,55.37 L145.83,56.13 L146.54,56.90 L147.26,57.66 L147.97,58.41 L148.69,59.17 L149.42,59.92 L150.14,60.67 L150.87,61.42 L151.59,62.17 L152.33,62.91 L153.06,63.65 L153.80,64.39 L154.54,65.13 L155.28,65.86 L156.02,66.59 L156.77,67.32 L157.52,68.05 L158.27,68.77 L159.03,69.48 L159.79,70.20 L160.55,70.91 L161.32,71.62 L162.09,72.33 L162.86,73.03 L163.63,73.73 L164.41,74.42 L165.19,75.11 L165.98,75.80 L166.77,76.48 L167.56,77.16 L168.35,77.84 L169.15,78.51 L169.95,79.18 L170.76,79.84 L171.57,80.50 L172.38,81.16 L173.19,81.81 L174.01,82.45 L174.84,83.10 L175.66,83.73 L176.49,84.36 L177.33,84.99 L178.16,85.61 L179.00,86.23 L179.85,86.84 L180.70,87.45 L181.55,88.05 L182.40,88.65 L183.26,89.24 L184.13,89.83 L184.99,90.41 L185.86,90.98 L186.74,91.56 L187.61,92.12 L188.49,92.68 L189.38,93.24 L190.26,93.79 L191.15,94.33 L192.05,94.87 L192.94,95.40 L193.84,95.93 L194.75,96.45 L195.65,96.97 L196.56,97.48 L197.48,97.98 L198.39,98.48 L199.31,98.97 L200.23,99.46 L201.16,99.94 L202.09,100.42 L203.02,100.89 L203.95,101.35 L204.89,101.81 L205.83,102.26 L206.78,102.71 L207.72,103.15 L208.67,103.58 L209.62,104.01 L210.58,104.43 L211.53,104.84 L212.49,105.25 L213.46,105.65 L214.42,106.05 L215.39,106.44 L216.36,106.82 L217.33,107.20 L218.31,107.57 L219.29,107.93 L220.27,108.29 L221.25,108.64 L222.24,108.98 L223.22,109.32 L224.21,109.65 L225.20,109.97 L226.20,110.29 L227.19,110.60 L228.19,110.90 L229.19,111.19 L230.20,111.48 L231.20,111.77 L232.21,112.04 L233.21,112.31 L234.22,112.57 L235.24,112.83 L236.25,113.07 L237.26,113.32 L238.28,113.55 L239.30,113.78 L240.32,114.00 L241.34,114.21 L242.36,114.42 L243.39,114.62 L244.41,114.82 L245.44,115.00 L246.46,115.18 L247.49,115.36 L248.52,115.53 L249.55,115.69 L250.58,115.84 L251.62,115.99 L252.65,116.13 L253.69,116.27 L254.72,116.40 L255.76,116.52 L256.79,116.64 L257.80,116.78 L258.58,117.20 L259.63,117.20 L260.67,117.20 L261.71,117.20 L262.76,117.20 L263.80,117.20 L263.80,117.20 L262.76,121.78 L261.71,123.52 L260.67,124.76 L259.63,125.71 L258.58,126.46 L257.72,126.72 L256.65,127.06 L255.55,127.31 L254.45,127.46 L253.35,127.51 L252.25,127.46 L251.16,127.34 L250.07,127.19 L248.97,127.04 L247.88,126.88 L246.79,126.72 L245.71,126.55 L244.62,126.37 L243.53,126.18 L242.45,125.99 L241.36,125.79 L240.28,125.59 L239.20,125.38 L238.12,125.16 L237.04,124.94 L235.96,124.71 L234.88,124.47 L233.81,124.22 L232.74,123.97 L231.67,123.72 L230.60,123.45 L229.53,123.18 L228.46,122.90 L227.40,122.62 L226.34,122.33 L225.28,122.03 L224.22,121.72 L223.16,121.41 L222.11,121.09 L221.05,120.77 L220.00,120.43 L218.96,120.10 L217.91,119.75 L216.87,119.40 L215.82,119.04 L214.78,118.68 L213.75,118.31 L212.71,117.93 L211.68,117.55 L210.65,117.16 L209.62,116.76 L208.60,116.36 L207.58,115.95 L206.56,115.54 L205.54,115.12 L204.53,114.69 L203.51,114.26 L202.50,113.82 L201.50,113.38 L200.49,112.92 L199.49,112.47 L198.49,112.00 L197.50,111.54 L196.51,111.06 L195.52,110.58 L194.53,110.10 L193.55,109.60 L192.56,109.11 L191.59,108.60 L190.61,108.09 L189.64,107.58 L188.67,107.06 L187.70,106.53 L186.74,106.00 L185.78,105.47 L184.83,104.92 L183.87,104.38 L182.92,103.82 L181.98,103.26 L181.03,102.70 L180.09,102.13 L179.15,101.56 L178.22,100.98 L177.29,100.39 L176.36,99.81 L175.44,99.21 L174.51,98.62 L173.60,98.01 L172.68,97.41 L171.77,96.79 L170.86,96.18 L169.96,95.55 L169.05,94.92 L168.16,94.29 L167.26,93.66 L166.37,93.01 L165.48,92.37 L164.60,91.72 L163.72,91.06 L162.84,90.40 L161.97,89.74 L161.10,89.07 L160.23,88.40 L159.36,87.72 L158.50,87.04 L157.64,86.35 L156.79,85.67 L155.94,84.97 L155.09,84.28 L154.24,83.58 L153.40,82.87 L152.56,82.17 L151.72,81.46 L150.89,80.74 L150.06,80.02 L149.23,79.30 L148.40,78.58 L147.58,77.85 L146.76,77.12 L145.95,76.39 L145.13,75.65 L144.32,74.91 L143.51,74.17 L142.71,73.42 L141.90,72.68 L141.10,71.92 L140.30,71.17 L139.51,70.41 L138.71,69.66 L137.92,68.89 L137.14,68.13 L136.35,67.36 L135.57,66.59 L134.78,65.82 L134.00,65.05 L133.23,64.27 L132.45,63.50 L131.68,62.72 L130.91,61.93 L130.14,61.15 L129.37,60.36 L128.61,59.58 L127.84,58.79 L127.08,57.99 L126.32,57.20 L125.57,56.40 L124.81,55.61 L124.06,54.81 L123.30,54.01 L122.55,53.21 L121.80,52.40 L121.06,51.60 L120.31,50.79 L119.56,49.98 L118.82,49.17 L118.08,48.36 L117.34,47.55 L116.60,46.74 L115.86,45.92 L115.13,45.11 L114.39,44.29 L113.66,43.47 L112.93,42.64 L112.20,41.82 L111.47,41.00 L110.75,40.17 L110.02,39.34 L109.30,38.52 L108.57,37.69 L107.85,36.86 L107.13,36.03 L106.41,35.20 L105.69,34.37 L104.97,33.54 L104.25,32.70 L103.56,31.84 L102.86,30.99 L102.17,30.13 L101.47,29.28 L100.78,28.42 L100.09,27.56 L99.39,26.71 L98.72,25.84 L98.05,24.96 L97.39,24.07 L96.73,23.19 L96.07,22.31 L95.40,21.43 L94.82,20.48 L94.28,19.49 L93.74,18.51 L93.20,17.53 L92.78,16.45 L92.39,15.34 L92.00,14.24 L91.61,13.14 L91.22,12.05 L90.83,10.96 L90.44,9.88 L90.05,8.79Z" fill="#30d400"/>
<path d="M46.52,44.40 L47.36,45.30 L48.20,46.21 L49.04,47.11 L49.88,48.01 L50.72,48.91 L51.57,49.81 L52.41,50.71 L53.26,51.60 L54.11,52.50 L54.96,53.39 L55.81,54.28 L56.67,55.17 L57.52,56.06 L58.38,56.94 L59.24,57.83 L60.10,58.71 L60.96,59.59 L61.83,60.47 L62.69,61.35 L63.56,62.22 L64.43,63.10 L65.30,63.97 L66.18,64.84 L67.05,65.71 L67.93,66.57 L68.81,67.44 L69.69,68.30 L70.57,69.16 L71.46,70.02 L72.34,70.88 L73.23,71.73 L74.12,72.58 L75.02,73.43 L75.91,74.28 L76.81,75.13 L77.71,75.97 L78.61,76.81 L79.51,77.65 L80.42,78.49 L81.33,79.33 L82.24,80.16 L83.15,80.99 L84.06,81.82 L84.98,82.64 L85.90,83.46 L86.82,84.28 L87.74,85.10 L88.66,85.92 L89.59,86.73 L90.52,87.54 L91.45,88.35 L92.39,89.15 L93.32,89.95 L94.26,90.75 L95.20,91.55 L96.15,92.34 L97.09,93.14 L98.04,93.92 L98.99,94.71 L99.95,95.49 L100.90,96.27 L101.86,97.05 L102.82,97.82 L103.78,98.59 L104.75,99.36 L105.72,100.12 L106.69,100.88 L107.66,101.64 L108.63,102.40 L109.61,103.15 L110.59,103.90 L111.57,104.64 L112.56,105.38 L113.55,106.12 L114.54,106.85 L115.53,107.58 L116.53,108.31 L117.53,109.04 L118.53,109.76 L119.53,110.47 L120.54,111.18 L121.55,111.89 L122.56,112.60 L123.57,113.30 L124.59,114.00 L125.61,114.69 L126.63,115.38 L127.65,116.07 L128.68,116.75 L129.71,117.43 L130.74,118.10 L131.78,118.77 L132.82,119.44 L133.86,120.10 L134.90,120.75 L135.95,121.41 L137.00,122.05 L138.05,122.70 L139.10,123.34 L140.16,123.97 L141.22,124.60 L142.28,125.23 L143.35,125.85 L144.42,126.46 L145.49,127.08 L146.56,127.68 L147.64,128.29 L148.72,128.88 L149.80,129.48 L150.88,130.06 L151.97,130.65 L153.06,131.23 L154.15,131.80 L155.24,132.37 L156.34,132.93 L157.44,133.49 L158.54,134.05 L159.64,134.60 L160.75,135.14 L161.86,135.68 L162.97,136.22 L164.08,136.75 L165.20,137.27 L166.31,137.79 L167.43,138.31 L168.56,138.82 L169.68,139.32 L170.81,139.82 L171.94,140.32 L173.07,140.81 L174.20,141.29 L175.34,141.77 L176.48,142.25 L177.62,142.72 L178.76,143.18 L179.91,143.64 L181.05,144.09 L182.20,144.54 L183.35,144.98 L184.50,145.42 L185.66,145.85 L186.82,146.28 L187.98,146.70 L189.14,147.12 L190.30,147.53 L191.46,147.93 L192.63,148.33 L193.80,148.73 L194.97,149.12 L196.14,149.50 L197.31,149.88 L198.49,150.25 L199.67,150.62 L200.84,150.98 L202.03,151.34 L203.21,151.69 L204.39,152.03 L205.58,152.37 L206.76,152.70 L207.95,153.03 L209.14,153.35 L210.34,153.67 L211.53,153.98 L212.72,154.29 L213.92,154.59 L215.12,154.88 L216.32,155.17 L217.52,155.45 L218.72,155.72 L219.92,155.99 L221.13,156.26 L222.33,156.52 L223.54,156.77 L224.75,157.01 L225.96,157.25 L227.17,157.49 L228.38,157.72 L229.59,157.94 L230.81,158.15 L232.02,158.37 L233.24,158.57 L234.45,158.77 L235.67,158.96 L236.89,159.15 L238.11,159.33 L239.33,159.50 L240.55,159.67 L241.78,159.83 L243.00,159.98 L244.22,160.13 L245.45,160.27 L246.67,160.41 L247.90,160.54 L249.13,160.66 L250.35,160.78 L251.58,160.89 L252.81,161.00 L254.04,161.10 L255.27,161.19 L256.50,161.28 L256.50,161.28 L255.36,156.26 L254.19,154.35 L253.03,153.03 L251.88,152.04 L250.72,151.29 L249.56,150.73 L248.39,150.34 L247.22,150.11 L246.05,149.97 L244.88,149.82 L243.71,149.66 L242.54,149.50 L241.37,149.33 L240.20,149.16 L239.03,148.97 L237.87,148.79 L236.70,148.60 L235.54,148.40 L234.38,148.19 L233.21,147.98 L232.05,147.76 L230.89,147.54 L229.74,147.31 L228.58,147.07 L227.42,146.83 L226.27,146.58 L225.11,146.33 L223.96,146.07 L222.81,145.80 L221.66,145.53 L220.52,145.25 L219.37,144.97 L218.23,144.68 L217.08,144.38 L215.94,144.08 L214.80,143.77 L213.66,143.46 L212.53,143.14 L211.39,142.82 L210.26,142.48 L209.13,142.15 L208.00,141.80 L206.87,141.45 L205.75,141.10 L204.62,140.74 L203.50,140.37 L202.38,140.00 L201.26,139.62 L200.15,139.23 L199.03,138.84 L197.92,138.45 L196.81,138.05 L195.70,137.64 L194.60,137.23 L193.50,136.81 L192.39,136.39 L191.29,135.96 L190.20,135.53 L189.10,135.09 L188.01,134.65 L186.92,134.20 L185.83,133.74 L184.75,133.28 L183.66,132.82 L182.58,132.35 L181.50,131.87 L180.42,131.39 L179.35,130.90 L178.28,130.41 L177.21,129.92 L176.14,129.41 L175.08,128.91 L174.02,128.40 L172.96,127.88 L171.90,127.36 L170.85,126.83 L169.79,126.30 L168.75,125.76 L167.70,125.22 L166.65,124.67 L165.61,124.13 L164.57,123.57 L163.54,123.01 L162.50,122.45 L161.47,121.88 L160.44,121.31 L159.41,120.73 L158.39,120.14 L157.37,119.56 L156.35,118.96 L155.34,118.37 L154.32,117.77 L153.31,117.16 L152.31,116.55 L151.30,115.93 L150.30,115.31 L149.30,114.69 L148.31,114.06 L147.31,113.43 L146.32,112.79 L145.34,112.15 L144.35,111.50 L143.37,110.85 L142.39,110.20 L141.42,109.54 L140.44,108.88 L139.47,108.21 L138.50,107.54 L137.54,106.87 L136.58,106.19 L135.62,105.51 L134.66,104.82 L133.71,104.13 L132.75,103.44 L131.81,102.74 L130.86,102.04 L129.92,101.33 L128.97,100.63 L128.04,99.91 L127.10,99.20 L126.17,98.48 L125.23,97.76 L124.31,97.04 L123.38,96.31 L122.46,95.58 L121.53,94.85 L120.61,94.11 L119.70,93.38 L118.78,92.63 L117.87,91.89 L116.96,91.14 L116.06,90.39 L115.15,89.63 L114.25,88.88 L113.35,88.12 L112.45,87.35 L111.56,86.59 L110.66,85.82 L109.77,85.05 L108.88,84.28 L108.00,83.50 L107.11,82.72 L106.23,81.94 L105.35,81.16 L104.48,80.37 L103.60,79.59 L102.73,78.79 L101.86,78.00 L100.99,77.21 L100.12,76.41 L99.25,75.61 L98.39,74.81 L97.53,74.00 L96.67,73.20 L95.81,72.39 L94.96,71.58 L94.10,70.76 L93.25,69.95 L92.40,69.13 L91.55,68.31 L90.71,67.49 L89.87,66.66 L89.03,65.83 L88.20,65.00 L87.36,64.17 L86.53,63.34 L85.69,62.50 L84.86,61.67 L84.04,60.83 L83.21,59.99 L82.38,59.14 L81.56,58.30 L80.74,57.46 L79.92,56.61 L79.10,55.76 L78.29,54.91 L77.47,54.05 L76.66,53.20 L75.85,52.34 L75.04,51.48 L74.24,50.62 L73.43,49.76 L72.62,48.91 L71.81,48.05 L71.00,47.19 L70.19,46.33 L69.38,45.47 L68.58,44.61 L67.75,43.77 L66.93,42.92 L66.11,42.07 L65.26,41.25 L63.87,40.88 L62.49,40.51 L61.09,40.14 L59.68,39.77 L58.10,39.54 L56.52,39.30 L54.96,39.04 L53.39,38.77Z" fill="#30d400"/>
<path d="M99.35,1.18 L100.01,1.96 L100.68,2.74 L101.34,3.52 L102.00,4.30 L102.66,5.08 L103.31,5.87 L103.97,6.65 L104.63,7.44 L105.28,8.22 L105.93,9.01 L106.59,9.80 L107.24,10.58 L107.89,11.37 L108.54,12.16 L109.19,12.95 L109.84,13.74 L110.49,14.53 L111.14,15.32 L111.79,16.11 L112.44,16.90 L113.09,17.69 L113.73,18.48 L114.38,19.28 L115.03,20.07 L115.68,20.86 L116.32,21.65 L116.97,22.44 L117.62,23.23 L118.27,24.02 L118.92,24.81 L119.57,25.61 L120.21,26.40 L120.86,27.19 L121.51,27.98 L122.16,28.77 L122.81,29.56 L123.46,30.34 L124.12,31.13 L124.77,31.92 L125.42,32.71 L126.07,33.49 L126.73,34.28 L127.38,35.06 L128.04,35.85 L128.70,36.63 L129.36,37.42 L130.02,38.20 L130.68,38.98 L131.34,39.76 L132.00,40.54 L132.66,41.32 L133.33,42.09 L133.99,42.87 L134.66,43.64 L135.33,44.42 L136.00,45.19 L136.67,45.96 L137.35,46.73 L138.02,47.50 L138.70,48.27 L139.38,49.03 L140.06,49.80 L140.74,50.56 L141.42,51.32 L142.11,52.08 L142.80,52.84 L143.48,53.59 L144.18,54.34 L144.87,55.10 L145.56,55.85 L146.26,56.59 L146.96,57.34 L147.66,58.08 L148.37,58.83 L149.07,59.57 L149.78,60.30 L150.49,61.04 L151.21,61.77 L151.92,62.50 L152.64,63.23 L153.36,63.96 L154.08,64.68 L154.81,65.40 L155.54,66.12 L156.27,66.83 L157.00,67.55 L157.74,68.25 L158.48,68.96 L159.22,69.66 L159.97,70.37 L160.72,71.06 L161.47,71.76 L162.22,72.45 L162.98,73.14 L163.74,73.82 L164.50,74.50 L165.27,75.18 L166.04,75.85 L166.81,76.52 L167.59,77.19 L168.36,77.85 L169.15,78.51 L169.93,79.16 L170.72,79.81 L171.51,80.46 L172.31,81.10 L173.11,81.74 L173.91,82.37 L174.72,83.00 L175.53,83.63 L176.34,84.25 L177.16,84.87 L177.98,85.48 L178.80,86.08 L179.63,86.68 L180.46,87.28 L181.29,87.87 L182.13,88.46 L182.97,89.04 L183.82,89.62 L184.67,90.19 L185.52,90.76 L186.37,91.32 L187.23,91.87 L188.09,92.43 L188.95,92.97 L189.82,93.51 L190.69,94.05 L191.57,94.58 L192.45,95.11 L193.33,95.63 L194.21,96.14 L195.10,96.65 L195.99,97.15 L196.88,97.65 L197.78,98.15 L198.68,98.63 L199.58,99.11 L200.48,99.59 L201.39,100.06 L202.30,100.53 L203.22,100.99 L204.13,101.44 L205.05,101.89 L205.97,102.33 L206.90,102.76 L207.83,103.19 L208.76,103.62 L209.69,104.04 L210.63,104.45 L211.57,104.85 L212.51,105.26 L213.45,105.65 L214.40,106.04 L215.35,106.42 L216.30,106.79 L217.25,107.16 L218.21,107.53 L219.17,107.88 L220.13,108.23 L221.09,108.58 L222.05,108.92 L223.02,109.25 L223.99,109.57 L224.96,109.89 L225.94,110.20 L226.91,110.51 L227.89,110.81 L228.87,111.10 L229.85,111.39 L230.84,111.67 L231.82,111.94 L232.81,112.20 L233.80,112.46 L234.79,112.72 L235.78,112.96 L236.78,113.20 L237.77,113.43 L238.77,113.66 L239.77,113.88 L240.77,114.09 L241.77,114.30 L242.78,114.50 L243.78,114.70 L244.78,114.89 L245.79,115.07 L246.80,115.24 L247.81,115.41 L248.82,115.57 L249.83,115.73 L250.84,115.88 L251.85,116.02 L252.87,116.16 L253.88,116.29 L254.90,116.42 L255.91,116.54 L256.93,116.65 L257.85,116.89 L258.68,117.20 L259.70,117.20 L259.70,117.20 L258.68,121.09 L257.82,122.27 L256.84,123.08 L255.78,123.73 L254.71,124.20 L253.64,124.52 L252.57,124.72 L251.51,124.80 L250.44,124.78 L249.39,124.66 L248.33,124.51 L247.27,124.35 L246.22,124.18 L245.16,124.01 L244.11,123.83 L243.06,123.65 L242.01,123.46 L240.96,123.26 L239.91,123.05 L238.86,122.84 L237.82,122.62 L236.77,122.40 L235.73,122.17 L234.69,121.93 L233.65,121.69 L232.61,121.44 L231.57,121.18 L230.54,120.92 L229.50,120.65 L228.47,120.38 L227.44,120.09 L226.42,119.80 L225.39,119.51 L224.36,119.21 L223.34,118.90 L222.32,118.58 L221.30,118.26 L220.29,117.94 L219.27,117.60 L218.26,117.26 L217.25,116.92 L216.25,116.56 L215.24,116.20 L214.24,115.84 L213.24,115.47 L212.24,115.09 L211.24,114.71 L210.25,114.32 L209.26,113.92 L208.27,113.52 L207.28,113.12 L206.30,112.70 L205.32,112.28 L204.34,111.86 L203.36,111.43 L202.39,110.99 L201.42,110.55 L200.45,110.10 L199.48,109.65 L198.52,109.19 L197.56,108.72 L196.60,108.25 L195.65,107.77 L194.70,107.29 L193.75,106.81 L192.81,106.31 L191.86,105.81 L190.92,105.31 L189.99,104.80 L189.05,104.29 L188.12,103.77 L187.19,103.24 L186.27,102.71 L185.35,102.18 L184.43,101.63 L183.51,101.09 L182.60,100.54 L181.69,99.98 L180.79,99.42 L179.88,98.85 L178.98,98.28 L178.09,97.71 L177.19,97.13 L176.30,96.54 L175.41,95.95 L174.53,95.36 L173.65,94.76 L172.77,94.16 L171.90,93.55 L171.03,92.94 L170.16,92.32 L169.30,91.70 L168.43,91.07 L167.58,90.44 L166.72,89.80 L165.87,89.16 L165.02,88.52 L164.18,87.87 L163.34,87.22 L162.50,86.56 L161.67,85.90 L160.83,85.23 L160.00,84.57 L159.18,83.89 L158.36,83.22 L157.54,82.54 L156.72,81.86 L155.91,81.17 L155.10,80.48 L154.29,79.79 L153.48,79.09 L152.68,78.39 L151.88,77.68 L151.09,76.98 L150.29,76.27 L149.50,75.56 L148.71,74.84 L147.93,74.12 L147.14,73.40 L146.36,72.68 L145.59,71.95 L144.81,71.22 L144.04,70.49 L143.27,69.75 L142.50,69.01 L141.73,68.27 L140.97,67.53 L140.21,66.79 L139.45,66.04 L138.70,65.29 L137.94,64.54 L137.19,63.78 L136.44,63.03 L135.69,62.27 L134.95,61.51 L134.20,60.75 L133.46,59.98 L132.72,59.22 L131.98,58.45 L131.25,57.68 L130.51,56.91 L129.78,56.13 L129.05,55.36 L128.32,54.58 L127.60,53.80 L126.87,53.02 L126.15,52.24 L125.42,51.46 L124.70,50.67 L123.98,49.89 L123.27,49.10 L122.55,48.31 L121.83,47.52 L121.12,46.73 L120.41,45.94 L119.70,45.15 L118.98,44.35 L118.28,43.56 L117.57,42.76 L116.86,41.96 L116.16,41.16 L115.45,40.36 L114.75,39.56 L114.05,38.75 L113.35,37.95 L112.66,37.14 L111.96,36.33 L111.26,35.53 L110.56,34.72 L109.87,33.91 L109.17,33.10 L108.48,32.29 L107.79,31.48 L107.09,30.67 L106.41,29.85 L105.74,29.02 L105.07,28.19 L104.39,27.36 L103.72,26.53 L103.05,25.70 L102.37,24.88 L101.70,24.05 L101.05,23.20 L100.40,22.35 L99.75,21.50 L99.10,20.65 L98.45,19.81 L97.80,18.96 L97.56,17.75 L97.36,16.51 L97.17,15.28 L96.98,14.04 L96.88,12.73 L96.78,11.43 L96.68,10.14 L96.57,8.86 L96.46,7.59 L96.36,6.32 L96.26,5.05 L96.16,3.79Z" fill="#8ed500"/>
<path d="M46.52,44.40 L47.35,45.29 L48.17,46.18 L49.00,47.07 L49.83,47.96 L50.66,48.84 L51.49,49.73 L52.32,50.61 L53.16,51.50 L54.00,52.38 L54.83,53.26 L55.67,54.14 L56.52,55.01 L57.36,55.89 L58.20,56.76 L59.05,57.63 L59.90,58.50 L60.75,59.37 L61.60,60.24 L62.45,61.10 L63.31,61.97 L64.16,62.83 L65.02,63.69 L65.88,64.55 L66.74,65.40 L67.61,66.26 L68.47,67.11 L69.34,67.96 L70.21,68.81 L71.08,69.66 L71.95,70.50 L72.83,71.34 L73.71,72.19 L74.59,73.02 L75.47,73.86 L76.35,74.70 L77.23,75.53 L78.12,76.36 L79.01,77.19 L79.90,78.01 L80.79,78.84 L81.69,79.66 L82.59,80.48 L83.49,81.30 L84.39,82.11 L85.29,82.92 L86.20,83.73 L87.10,84.54 L88.01,85.34 L88.93,86.15 L89.84,86.95 L90.76,87.75 L91.68,88.54 L92.60,89.33 L93.52,90.12 L94.45,90.91 L95.37,91.69 L96.30,92.48 L97.24,93.25 L98.17,94.03 L99.11,94.80 L100.05,95.58 L100.99,96.34 L101.93,97.11 L102.88,97.87 L103.83,98.63 L104.78,99.38 L105.73,100.14 L106.69,100.89 L107.65,101.63 L108.61,102.38 L109.57,103.12 L110.54,103.86 L111.51,104.59 L112.48,105.32 L113.45,106.05 L114.43,106.77 L115.41,107.49 L116.39,108.21 L117.37,108.92 L118.36,109.63 L119.34,110.34 L120.33,111.04 L121.33,111.74 L122.32,112.44 L123.32,113.13 L124.32,113.82 L125.33,114.50 L126.33,115.18 L127.34,115.86 L128.36,116.53 L129.37,117.20 L130.39,117.87 L131.41,118.53 L132.43,119.19 L133.45,119.84 L134.48,120.49 L135.51,121.13 L136.54,121.77 L137.58,122.41 L138.61,123.04 L139.66,123.67 L140.70,124.29 L141.74,124.91 L142.79,125.52 L143.84,126.13 L144.90,126.74 L145.95,127.34 L147.01,127.94 L148.07,128.53 L149.14,129.12 L150.20,129.70 L151.27,130.28 L152.34,130.85 L153.42,131.42 L154.49,131.98 L155.57,132.54 L156.65,133.10 L157.74,133.65 L158.82,134.19 L159.91,134.73 L161.00,135.27 L162.09,135.80 L163.19,136.32 L164.29,136.85 L165.39,137.36 L166.49,137.87 L167.59,138.38 L168.70,138.88 L169.81,139.38 L170.92,139.87 L172.03,140.36 L173.15,140.84 L174.26,141.32 L175.38,141.79 L176.51,142.26 L177.63,142.72 L178.76,143.18 L179.88,143.63 L181.01,144.08 L182.14,144.52 L183.28,144.96 L184.41,145.39 L185.55,145.81 L186.69,146.23 L187.83,146.65 L188.98,147.06 L190.12,147.47 L191.27,147.87 L192.42,148.26 L193.57,148.65 L194.72,149.04 L195.88,149.42 L197.03,149.79 L198.19,150.16 L199.35,150.52 L200.51,150.88 L201.67,151.23 L202.84,151.58 L204.00,151.92 L205.17,152.26 L206.34,152.59 L207.51,152.91 L208.68,153.23 L209.86,153.54 L211.03,153.85 L212.21,154.16 L213.39,154.45 L214.57,154.74 L215.75,155.03 L216.93,155.31 L218.11,155.59 L219.30,155.85 L220.49,156.12 L221.67,156.37 L222.86,156.63 L224.05,156.87 L225.24,157.11 L226.43,157.35 L227.63,157.58 L228.82,157.80 L230.02,158.02 L231.21,158.23 L232.41,158.43 L233.61,158.63 L234.81,158.82 L236.01,159.01 L237.21,159.19 L238.41,159.37 L239.62,159.54 L240.82,159.70 L242.03,159.86 L243.23,160.01 L244.44,160.16 L245.64,160.30 L246.85,160.43 L248.06,160.56 L249.27,160.68 L250.48,160.79 L251.69,160.90 L252.90,161.01 L252.90,161.01 L251.83,156.62 L250.70,154.98 L249.56,153.89 L248.42,153.10 L247.27,152.56 L246.11,152.21 L244.95,152.04 L243.78,151.89 L242.62,151.73 L241.45,151.57 L240.29,151.40 L239.13,151.22 L237.97,151.04 L236.81,150.85 L235.65,150.66 L234.49,150.46 L233.34,150.26 L232.18,150.05 L231.03,149.83 L229.87,149.61 L228.72,149.38 L227.57,149.14 L226.42,148.90 L225.27,148.66 L224.13,148.41 L222.98,148.15 L221.84,147.88 L220.69,147.62 L219.55,147.34 L218.41,147.06 L217.27,146.77 L216.13,146.48 L215.00,146.18 L213.86,145.88 L212.73,145.57 L211.60,145.25 L210.47,144.93 L209.34,144.60 L208.22,144.27 L207.09,143.93 L205.97,143.59 L204.85,143.24 L203.73,142.88 L202.61,142.52 L201.50,142.16 L200.39,141.78 L199.27,141.41 L198.17,141.02 L197.06,140.64 L195.95,140.24 L194.85,139.84 L193.75,139.44 L192.65,139.03 L191.55,138.62 L190.45,138.20 L189.36,137.77 L188.27,137.34 L187.18,136.91 L186.09,136.46 L185.00,136.02 L183.92,135.57 L182.84,135.11 L181.76,134.65 L180.69,134.18 L179.61,133.71 L178.54,133.24 L177.47,132.75 L176.40,132.27 L175.34,131.78 L174.27,131.28 L173.21,130.78 L172.16,130.27 L171.10,129.76 L170.05,129.24 L169.00,128.72 L167.95,128.20 L166.90,127.67 L165.86,127.13 L164.82,126.60 L163.78,126.05 L162.74,125.50 L161.71,124.95 L160.68,124.39 L159.65,123.83 L158.62,123.27 L157.60,122.70 L156.58,122.12 L155.56,121.54 L154.54,120.96 L153.53,120.37 L152.52,119.77 L151.51,119.17 L150.51,118.57 L149.50,117.96 L148.50,117.35 L147.51,116.74 L146.51,116.12 L145.52,115.49 L144.53,114.86 L143.55,114.23 L142.56,113.59 L141.58,112.95 L140.60,112.31 L139.63,111.66 L138.66,111.01 L137.69,110.35 L136.72,109.69 L135.75,109.02 L134.79,108.35 L133.83,107.68 L132.88,107.00 L131.92,106.32 L130.97,105.64 L130.02,104.95 L129.07,104.26 L128.13,103.57 L127.19,102.87 L126.25,102.17 L125.31,101.47 L124.38,100.76 L123.45,100.05 L122.52,99.34 L121.59,98.62 L120.67,97.90 L119.74,97.18 L118.82,96.45 L117.91,95.72 L116.99,94.99 L116.08,94.25 L115.17,93.52 L114.26,92.77 L113.35,92.03 L112.45,91.28 L111.55,90.53 L110.65,89.78 L109.76,89.03 L108.86,88.27 L107.97,87.51 L107.08,86.75 L106.19,85.98 L105.31,85.21 L104.42,84.44 L103.54,83.67 L102.66,82.89 L101.79,82.12 L100.91,81.34 L100.04,80.55 L99.17,79.77 L98.30,78.98 L97.43,78.19 L96.57,77.40 L95.71,76.60 L94.85,75.81 L93.99,75.01 L93.13,74.21 L92.27,73.41 L91.42,72.60 L90.57,71.80 L89.72,70.99 L88.88,70.17 L88.03,69.36 L87.19,68.54 L86.35,67.72 L85.52,66.90 L84.68,66.08 L83.85,65.25 L83.02,64.42 L82.18,63.60 L81.36,62.76 L80.53,61.93 L79.70,61.10 L78.88,60.26 L78.06,59.43 L77.24,58.59 L76.42,57.75 L75.61,56.90 L74.79,56.06 L73.98,55.21 L73.17,54.36 L72.36,53.51 L71.55,52.66 L70.74,51.81 L69.93,50.97 L69.01,50.22 L67.85,49.68 L66.69,49.15 L65.51,48.63 L64.31,48.11 L63.09,47.61 L61.86,47.12 L60.60,46.64 L59.32,46.19 L57.97,45.78 L56.60,45.38 L55.21,45.00 L53.77,44.65 L52.23,44.37 L50.64,44.14 L48.93,43.99 L46.52,44.40Z" fill="#8ed500"/>
<path d="M103.28,5.83 L103.91,6.57 L104.53,7.32 L105.15,8.07 L105.77,8.82 L106.39,9.56 L107.02,10.31 L107.64,11.06 L108.25,11.81 L108.87,12.56 L109.49,13.31 L110.11,14.07 L110.73,14.82 L111.35,15.57 L111.96,16.32 L112.58,17.07 L113.20,17.83 L113.81,18.58 L114.43,19.33 L115.04,20.08 L115.66,20.84 L116.28,21.59 L116.89,22.34 L117.51,23.10 L118.12,23.85 L118.74,24.60 L119.36,25.35 L119.98,26.11 L120.59,26.86 L121.21,27.61 L121.83,28.36 L122.45,29.11 L123.07,29.86 L123.69,30.61 L124.31,31.36 L124.93,32.11 L125.55,32.86 L126.17,33.61 L126.79,34.35 L127.42,35.10 L128.04,35.85 L128.66,36.59 L129.29,37.34 L129.92,38.08 L130.55,38.82 L131.17,39.57 L131.80,40.31 L132.43,41.05 L133.07,41.79 L133.70,42.53 L134.33,43.26 L134.97,44.00 L135.61,44.74 L136.25,45.47 L136.88,46.20 L137.53,46.93 L138.17,47.67 L138.81,48.39 L139.46,49.12 L140.10,49.85 L140.75,50.57 L141.40,51.30 L142.06,52.02 L142.71,52.74 L143.36,53.46 L144.02,54.18 L144.68,54.89 L145.34,55.61 L146.00,56.32 L146.67,57.03 L147.33,57.74 L148.00,58.44 L148.67,59.15 L149.35,59.85 L150.02,60.55 L150.70,61.25 L151.38,61.95 L152.06,62.64 L152.74,63.33 L153.43,64.02 L154.12,64.71 L154.81,65.40 L155.50,66.08 L156.19,66.76 L156.89,67.44 L157.59,68.11 L158.30,68.79 L159.00,69.46 L159.71,70.12 L160.42,70.79 L161.13,71.45 L161.85,72.11 L162.57,72.76 L163.29,73.42 L164.01,74.07 L164.74,74.71 L165.47,75.36 L166.20,76.00 L166.94,76.63 L167.68,77.27 L168.42,77.90 L169.16,78.52 L169.91,79.14 L170.66,79.76 L171.41,80.38 L172.17,80.99 L172.93,81.60 L173.69,82.20 L174.46,82.80 L175.23,83.40 L176.00,83.99 L176.77,84.58 L177.55,85.16 L178.33,85.74 L179.12,86.31 L179.91,86.88 L180.70,87.45 L181.49,88.01 L182.29,88.57 L183.09,89.12 L183.89,89.67 L184.70,90.21 L185.51,90.75 L186.32,91.29 L187.14,91.82 L187.96,92.34 L188.78,92.86 L189.61,93.38 L190.43,93.89 L191.26,94.40 L192.10,94.90 L192.93,95.40 L193.77,95.89 L194.61,96.37 L195.46,96.86 L196.31,97.33 L197.16,97.81 L198.01,98.27 L198.87,98.74 L199.73,99.19 L200.59,99.65 L201.45,100.09 L202.32,100.53 L203.19,100.97 L204.06,101.40 L204.93,101.83 L205.81,102.25 L206.69,102.67 L207.57,103.08 L208.46,103.48 L209.34,103.88 L210.23,104.28 L211.12,104.66 L212.02,105.05 L212.91,105.43 L213.81,105.80 L214.71,106.17 L215.62,106.53 L216.52,106.88 L217.43,107.23 L218.34,107.58 L219.25,107.92 L220.17,108.25 L221.08,108.58 L222.00,108.90 L222.92,109.21 L223.84,109.52 L224.77,109.83 L225.69,110.13 L226.62,110.42 L227.55,110.70 L228.48,110.98 L229.42,111.26 L230.35,111.53 L231.29,111.79 L232.23,112.05 L233.17,112.30 L234.11,112.54 L235.05,112.78 L235.99,113.01 L236.94,113.24 L237.89,113.46 L238.84,113.68 L239.79,113.88 L240.74,114.09 L241.69,114.29 L242.64,114.48 L243.60,114.66 L244.56,114.84 L245.51,115.02 L246.47,115.19 L247.43,115.35 L248.39,115.51 L249.35,115.66 L250.31,115.80 L251.28,115.94 L252.24,116.08 L253.20,116.21 L254.17,116.33 L255.13,116.45 L256.10,116.56 L256.10,116.56 L255.06,119.56 L254.05,120.59 L253.04,121.24 L252.03,121.67 L251.02,121.94 L250.02,122.08 L249.02,122.11 L248.02,122.03 L247.03,121.87 L246.03,121.71 L245.04,121.55 L244.05,121.37 L243.07,121.19 L242.08,121.01 L241.09,120.82 L240.11,120.62 L239.12,120.42 L238.14,120.22 L237.16,120.00 L236.18,119.78 L235.20,119.56 L234.22,119.33 L233.25,119.09 L232.27,118.85 L231.30,118.60 L230.33,118.35 L229.36,118.09 L228.39,117.82 L227.43,117.55 L226.46,117.27 L225.50,116.99 L224.54,116.70 L223.58,116.40 L222.62,116.10 L221.66,115.79 L220.71,115.48 L219.76,115.16 L218.81,114.84 L217.86,114.51 L216.91,114.17 L215.97,113.83 L215.03,113.48 L214.09,113.13 L213.15,112.77 L212.22,112.41 L211.28,112.04 L210.35,111.66 L209.42,111.28 L208.50,110.90 L207.57,110.51 L206.65,110.11 L205.73,109.71 L204.81,109.30 L203.90,108.89 L202.99,108.47 L202.08,108.05 L201.17,107.62 L200.26,107.19 L199.36,106.75 L198.46,106.31 L197.56,105.86 L196.67,105.41 L195.78,104.95 L194.89,104.48 L194.00,104.02 L193.12,103.54 L192.23,103.06 L191.35,102.58 L190.48,102.09 L189.61,101.60 L188.73,101.10 L187.87,100.60 L187.00,100.09 L186.14,99.58 L185.28,99.06 L184.42,98.54 L183.57,98.02 L182.72,97.48 L181.87,96.95 L181.03,96.41 L180.19,95.87 L179.35,95.32 L178.51,94.77 L177.68,94.21 L176.85,93.65 L176.02,93.08 L175.19,92.51 L174.37,91.94 L173.55,91.36 L172.74,90.78 L171.93,90.19 L171.12,89.60 L170.31,89.00 L169.51,88.41 L168.71,87.80 L167.91,87.20 L167.12,86.58 L166.33,85.97 L165.54,85.35 L164.75,84.73 L163.97,84.10 L163.19,83.47 L162.41,82.84 L161.64,82.21 L160.87,81.57 L160.10,80.92 L159.34,80.28 L158.57,79.63 L157.81,78.97 L157.06,78.32 L156.30,77.66 L155.55,77.00 L154.80,76.33 L154.05,75.67 L153.31,75.00 L152.57,74.32 L151.83,73.65 L151.09,72.97 L150.36,72.29 L149.63,71.60 L148.90,70.92 L148.17,70.23 L147.44,69.54 L146.72,68.84 L146.00,68.15 L145.28,67.45 L144.57,66.75 L143.85,66.04 L143.14,65.34 L142.43,64.63 L141.72,63.92 L141.02,63.21 L140.32,62.50 L139.61,61.78 L138.91,61.06 L138.22,60.35 L137.52,59.62 L136.83,58.90 L136.13,58.18 L135.44,57.45 L134.75,56.72 L134.07,55.99 L133.38,55.26 L132.70,54.53 L132.02,53.80 L131.34,53.06 L130.66,52.32 L129.98,51.59 L129.30,50.85 L128.63,50.11 L127.95,49.36 L127.28,48.62 L126.61,47.88 L125.94,47.13 L125.27,46.38 L124.61,45.63 L123.94,44.89 L123.28,44.14 L122.61,43.38 L121.95,42.63 L121.29,41.88 L120.63,41.12 L119.97,40.37 L119.31,39.61 L118.65,38.86 L118.00,38.10 L117.34,37.34 L116.69,36.58 L116.03,35.82 L115.38,35.05 L114.73,34.29 L114.08,33.53 L113.43,32.76 L112.78,32.00 L112.13,31.24 L111.48,30.47 L110.83,29.70 L110.18,28.94 L109.54,28.17 L108.90,27.40 L108.27,26.62 L107.63,25.84 L107.00,25.06 L106.53,24.12 L106.15,23.11 L105.78,22.09 L105.42,21.06 L105.07,20.02 L104.74,18.97 L104.42,17.92 L104.11,16.86 L103.82,15.79 L103.54,14.71 L103.29,13.61 L103.09,12.47 L102.91,11.31 L102.77,10.14 L102.68,8.91 L102.71,7.59 L103.28,5.83Z" fill="#d6be00"/>
<path d="M53.30,51.65 L54.09,52.47 L54.88,53.30 L55.67,54.13 L56.46,54.95 L57.25,55.78 L58.05,56.60 L58.84,57.42 L59.64,58.24 L60.44,59.06 L61.24,59.88 L62.04,60.69 L62.85,61.51 L63.65,62.32 L64.46,63.13 L65.27,63.94 L66.08,64.74 L66.89,65.55 L67.71,66.35 L68.52,67.16 L69.34,67.96 L70.16,68.76 L70.98,69.55 L71.80,70.35 L72.62,71.14 L73.45,71.94 L74.27,72.73 L75.10,73.51 L75.93,74.30 L76.76,75.09 L77.60,75.87 L78.43,76.65 L79.27,77.43 L80.11,78.21 L80.95,78.98 L81.79,79.75 L82.64,80.53 L83.49,81.29 L84.33,82.06 L85.18,82.83 L86.04,83.59 L86.89,84.35 L87.75,85.11 L88.61,85.87 L89.47,86.62 L90.33,87.37 L91.19,88.12 L92.06,88.87 L92.93,89.61 L93.79,90.36 L94.67,91.10 L95.54,91.83 L96.42,92.57 L97.29,93.30 L98.17,94.03 L99.06,94.76 L99.94,95.49 L100.83,96.21 L101.72,96.93 L102.61,97.65 L103.50,98.36 L104.39,99.08 L105.29,99.79 L106.19,100.49 L107.09,101.20 L107.99,101.90 L108.90,102.60 L109.81,103.30 L110.72,103.99 L111.63,104.68 L112.54,105.37 L113.46,106.05 L114.38,106.73 L115.30,107.41 L116.22,108.09 L117.15,108.76 L118.07,109.43 L119.00,110.10 L119.93,110.76 L120.87,111.42 L121.81,112.08 L122.74,112.73 L123.69,113.38 L124.63,114.03 L125.57,114.67 L126.52,115.31 L127.47,115.95 L128.43,116.58 L129.38,117.21 L130.34,117.84 L131.30,118.46 L132.26,119.08 L133.22,119.69 L134.19,120.30 L135.16,120.91 L136.13,121.52 L137.10,122.12 L138.08,122.71 L139.06,123.31 L140.04,123.90 L141.02,124.48 L142.00,125.06 L142.99,125.64 L143.98,126.21 L144.97,126.78 L145.97,127.35 L146.96,127.91 L147.96,128.47 L148.96,129.02 L149.97,129.57 L150.97,130.12 L151.98,130.66 L152.99,131.19 L154.00,131.73 L155.02,132.25 L156.03,132.78 L157.05,133.30 L158.07,133.82 L159.10,134.33 L160.12,134.84 L161.15,135.34 L162.18,135.84 L163.21,136.33 L164.24,136.82 L165.28,137.31 L166.31,137.79 L167.35,138.27 L168.39,138.74 L169.44,139.21 L170.48,139.68 L171.53,140.14 L172.58,140.60 L173.63,141.05 L174.68,141.50 L175.74,141.94 L176.79,142.38 L177.85,142.81 L178.91,143.24 L179.97,143.67 L181.04,144.09 L182.10,144.50 L183.17,144.91 L184.24,145.32 L185.31,145.72 L186.38,146.12 L187.46,146.51 L188.53,146.90 L189.61,147.29 L190.69,147.67 L191.77,148.04 L192.85,148.41 L193.94,148.78 L195.02,149.14 L196.11,149.49 L197.20,149.84 L198.29,150.19 L199.38,150.53 L200.47,150.87 L201.57,151.20 L202.66,151.53 L203.76,151.85 L204.86,152.17 L205.96,152.48 L207.06,152.79 L208.16,153.09 L209.27,153.39 L210.37,153.68 L211.48,153.97 L212.59,154.25 L213.70,154.53 L214.81,154.80 L215.92,155.07 L217.03,155.33 L218.15,155.59 L219.26,155.85 L220.38,156.09 L221.50,156.34 L222.62,156.58 L223.74,156.81 L224.86,157.04 L225.98,157.26 L227.10,157.48 L228.23,157.69 L229.35,157.89 L230.48,158.10 L231.60,158.29 L232.73,158.49 L233.86,158.67 L234.99,158.85 L236.12,159.03 L237.25,159.20 L238.38,159.36 L239.51,159.52 L240.65,159.68 L241.78,159.83 L242.92,159.97 L244.05,160.11 L245.19,160.24 L246.32,160.37 L247.46,160.50 L248.60,160.61 L248.60,160.61 L247.64,157.02 L246.58,155.72 L245.51,154.89 L244.42,154.35 L243.33,154.05 L242.22,153.89 L241.11,153.74 L240.01,153.58 L238.91,153.42 L237.80,153.25 L236.70,153.08 L235.60,152.90 L234.50,152.71 L233.40,152.52 L232.30,152.33 L231.20,152.13 L230.10,151.92 L229.01,151.71 L227.91,151.49 L226.82,151.27 L225.73,151.04 L224.64,150.81 L223.55,150.58 L222.46,150.33 L221.37,150.09 L220.28,149.83 L219.20,149.58 L218.11,149.31 L217.03,149.05 L215.95,148.77 L214.87,148.50 L213.79,148.21 L212.71,147.92 L211.63,147.63 L210.56,147.33 L209.48,147.03 L208.41,146.72 L207.34,146.41 L206.27,146.09 L205.20,145.77 L204.14,145.44 L203.07,145.11 L202.01,144.77 L200.95,144.43 L199.89,144.08 L198.83,143.73 L197.77,143.37 L196.72,143.01 L195.66,142.64 L194.61,142.27 L193.56,141.89 L192.51,141.51 L191.47,141.13 L190.42,140.74 L189.38,140.34 L188.34,139.94 L187.30,139.54 L186.26,139.13 L185.22,138.72 L184.19,138.30 L183.16,137.88 L182.13,137.45 L181.10,137.02 L180.07,136.58 L179.05,136.14 L178.03,135.70 L177.01,135.25 L175.99,134.79 L174.97,134.34 L173.96,133.87 L172.95,133.41 L171.94,132.94 L170.93,132.46 L169.92,131.98 L168.92,131.50 L167.92,131.01 L166.92,130.51 L165.92,130.02 L164.92,129.52 L163.93,129.01 L162.94,128.50 L161.95,127.99 L160.96,127.47 L159.98,126.95 L158.99,126.43 L158.01,125.90 L157.03,125.36 L156.06,124.83 L155.08,124.28 L154.11,123.74 L153.14,123.19 L152.18,122.64 L151.21,122.08 L150.25,121.52 L149.29,120.95 L148.33,120.38 L147.38,119.81 L146.43,119.23 L145.48,118.65 L144.53,118.06 L143.58,117.47 L142.64,116.88 L141.70,116.28 L140.76,115.68 L139.82,115.08 L138.89,114.47 L137.96,113.86 L137.03,113.25 L136.10,112.63 L135.18,112.01 L134.26,111.38 L133.34,110.75 L132.42,110.12 L131.50,109.48 L130.59,108.85 L129.68,108.20 L128.77,107.56 L127.87,106.91 L126.96,106.26 L126.06,105.60 L125.16,104.95 L124.27,104.28 L123.37,103.62 L122.48,102.95 L121.59,102.29 L120.70,101.61 L119.81,100.94 L118.93,100.26 L118.05,99.58 L117.17,98.90 L116.29,98.21 L115.42,97.52 L114.54,96.83 L113.67,96.13 L112.80,95.44 L111.94,94.74 L111.07,94.03 L110.21,93.33 L109.35,92.62 L108.49,91.91 L107.63,91.20 L106.78,90.48 L105.93,89.77 L105.08,89.05 L104.23,88.32 L103.38,87.60 L102.54,86.87 L101.69,86.14 L100.85,85.41 L100.01,84.68 L99.18,83.94 L98.34,83.20 L97.51,82.46 L96.68,81.72 L95.85,80.98 L95.02,80.23 L94.19,79.48 L93.37,78.73 L92.55,77.98 L91.73,77.23 L90.91,76.47 L90.09,75.71 L89.28,74.95 L88.46,74.19 L87.65,73.43 L86.84,72.66 L86.04,71.89 L85.23,71.12 L84.43,70.34 L83.63,69.57 L82.83,68.79 L82.03,68.01 L81.23,67.23 L80.44,66.45 L79.64,65.67 L78.85,64.88 L78.06,64.10 L77.27,63.31 L76.48,62.52 L75.70,61.73 L74.91,60.94 L74.13,60.14 L73.27,59.42 L72.27,58.84 L71.25,58.27 L70.23,57.70 L69.20,57.13 L68.16,56.57 L67.11,56.01 L66.05,55.46 L64.97,54.93 L63.88,54.40 L62.77,53.88 L61.64,53.38 L60.49,52.90 L59.30,52.44 L58.06,52.02 L56.76,51.66 L55.33,51.39 L53.30,51.65Z" fill="#d6be00"/>
<path d="M108.47,12.07 L109.05,12.77 L109.63,13.48 L110.21,14.18 L110.78,14.89 L111.36,15.59 L111.94,16.30 L112.52,17.00 L113.10,17.71 L113.68,18.41 L114.25,19.12 L114.83,19.82 L115.41,20.53 L115.99,21.24 L116.56,21.94 L117.14,22.65 L117.72,23.35 L118.30,24.06 L118.88,24.76 L119.45,25.47 L120.03,26.17 L120.61,26.88 L121.19,27.58 L121.77,28.29 L122.35,28.99 L122.93,29.70 L123.51,30.40 L124.09,31.10 L124.67,31.81 L125.26,32.51 L125.84,33.21 L126.42,33.91 L127.01,34.61 L127.59,35.31 L128.18,36.01 L128.76,36.71 L129.35,37.41 L129.94,38.10 L130.53,38.80 L131.11,39.50 L131.71,40.19 L132.30,40.89 L132.89,41.58 L133.48,42.27 L134.08,42.96 L134.67,43.66 L135.27,44.35 L135.87,45.03 L136.47,45.72 L137.07,46.41 L137.67,47.10 L138.27,47.78 L138.87,48.46 L139.48,49.15 L140.09,49.83 L140.69,50.51 L141.30,51.19 L141.91,51.86 L142.53,52.54 L143.14,53.21 L143.76,53.89 L144.37,54.56 L144.99,55.23 L145.61,55.90 L146.23,56.56 L146.86,57.23 L147.48,57.89 L148.11,58.56 L148.74,59.22 L149.37,59.88 L150.00,60.53 L150.64,61.19 L151.27,61.84 L151.91,62.49 L152.55,63.14 L153.19,63.79 L153.84,64.43 L154.48,65.08 L155.13,65.72 L155.78,66.36 L156.44,67.00 L157.09,67.63 L157.75,68.26 L158.41,68.89 L159.07,69.52 L159.73,70.15 L160.40,70.77 L161.07,71.39 L161.74,72.01 L162.41,72.62 L163.09,73.24 L163.77,73.85 L164.45,74.45 L165.13,75.06 L165.82,75.66 L166.50,76.26 L167.19,76.85 L167.89,77.45 L168.58,78.04 L169.28,78.62 L169.98,79.21 L170.69,79.79 L171.39,80.36 L172.10,80.94 L172.81,81.51 L173.53,82.07 L174.25,82.64 L174.97,83.20 L175.69,83.75 L176.41,84.31 L177.14,84.85 L177.87,85.40 L178.61,85.94 L179.35,86.48 L180.08,87.01 L180.83,87.54 L181.57,88.07 L182.32,88.59 L183.07,89.11 L183.82,89.62 L184.58,90.13 L185.34,90.64 L186.10,91.14 L186.86,91.64 L187.63,92.13 L188.40,92.62 L189.17,93.11 L189.95,93.59 L190.72,94.07 L191.50,94.54 L192.29,95.01 L193.07,95.48 L193.86,95.94 L194.65,96.39 L195.44,96.85 L196.23,97.29 L197.03,97.74 L197.83,98.18 L198.63,98.61 L199.44,99.04 L200.24,99.47 L201.05,99.89 L201.86,100.30 L202.68,100.72 L203.49,101.12 L204.31,101.53 L205.13,101.93 L205.95,102.32 L206.78,102.71 L207.61,103.09 L208.44,103.47 L209.27,103.85 L210.10,104.22 L210.94,104.58 L211.77,104.94 L212.61,105.30 L213.46,105.65 L214.30,106.00 L215.15,106.34 L215.99,106.68 L216.84,107.01 L217.69,107.33 L218.55,107.65 L219.40,107.97 L220.26,108.28 L221.12,108.59 L221.98,108.89 L222.84,109.19 L223.71,109.48 L224.57,109.76 L225.44,110.05 L226.31,110.32 L227.18,110.59 L228.05,110.86 L228.93,111.12 L229.80,111.37 L230.68,111.62 L231.56,111.87 L232.44,112.10 L233.32,112.34 L234.21,112.57 L235.09,112.79 L235.98,113.01 L236.86,113.22 L237.75,113.43 L238.64,113.63 L239.53,113.83 L240.42,114.02 L241.31,114.21 L242.21,114.39 L243.10,114.57 L244.00,114.74 L244.90,114.91 L245.79,115.07 L246.69,115.22 L247.59,115.38 L248.49,115.52 L249.39,115.66 L250.29,115.80 L251.20,115.93 L252.10,116.06 L252.10,116.06 L251.10,118.11 L250.16,118.75 L249.21,119.11 L248.28,119.30 L247.35,119.36 L246.42,119.32 L245.50,119.18 L244.59,119.02 L243.67,118.85 L242.76,118.68 L241.84,118.50 L240.93,118.32 L240.02,118.14 L239.11,117.95 L238.20,117.75 L237.29,117.55 L236.38,117.34 L235.48,117.13 L234.57,116.91 L233.67,116.69 L232.76,116.46 L231.86,116.23 L230.96,115.99 L230.07,115.75 L229.17,115.50 L228.27,115.25 L227.38,114.99 L226.49,114.73 L225.60,114.46 L224.71,114.18 L223.82,113.90 L222.93,113.62 L222.05,113.33 L221.17,113.04 L220.29,112.74 L219.41,112.43 L218.53,112.12 L217.65,111.81 L216.78,111.49 L215.91,111.16 L215.04,110.83 L214.17,110.50 L213.31,110.16 L212.44,109.81 L211.58,109.46 L210.72,109.11 L209.86,108.75 L209.00,108.39 L208.15,108.02 L207.30,107.65 L206.45,107.27 L205.60,106.89 L204.75,106.50 L203.91,106.11 L203.07,105.71 L202.23,105.31 L201.39,104.91 L200.56,104.50 L199.73,104.08 L198.90,103.66 L198.07,103.24 L197.24,102.81 L196.42,102.38 L195.60,101.94 L194.78,101.50 L193.96,101.05 L193.15,100.60 L192.34,100.15 L191.53,99.69 L190.72,99.23 L189.92,98.76 L189.12,98.29 L188.32,97.82 L187.52,97.34 L186.73,96.85 L185.94,96.37 L185.15,95.87 L184.36,95.38 L183.58,94.88 L182.80,94.37 L182.02,93.87 L181.24,93.35 L180.47,92.84 L179.70,92.32 L178.93,91.80 L178.16,91.27 L177.40,90.74 L176.64,90.20 L175.88,89.67 L175.13,89.12 L174.38,88.58 L173.63,88.03 L172.88,87.47 L172.14,86.92 L171.39,86.36 L170.66,85.79 L169.92,85.23 L169.19,84.65 L168.46,84.08 L167.73,83.50 L167.00,82.92 L166.28,82.34 L165.56,81.75 L164.84,81.16 L164.13,80.57 L163.42,79.97 L162.71,79.37 L162.00,78.77 L161.29,78.16 L160.59,77.56 L159.89,76.94 L159.19,76.33 L158.50,75.72 L157.81,75.10 L157.12,74.48 L156.43,73.85 L155.74,73.22 L155.06,72.60 L154.38,71.96 L153.70,71.33 L153.02,70.69 L152.34,70.06 L151.67,69.42 L151.00,68.77 L150.33,68.13 L149.66,67.48 L149.00,66.83 L148.34,66.18 L147.68,65.53 L147.02,64.87 L146.36,64.22 L145.71,63.56 L145.05,62.90 L144.40,62.23 L143.75,61.57 L143.10,60.90 L142.46,60.24 L141.81,59.57 L141.17,58.90 L140.53,58.22 L139.89,57.55 L139.25,56.87 L138.62,56.20 L137.98,55.52 L137.35,54.84 L136.72,54.16 L136.09,53.47 L135.46,52.79 L134.83,52.10 L134.20,51.42 L133.58,50.73 L132.96,50.04 L132.33,49.35 L131.71,48.66 L131.09,47.97 L130.47,47.27 L129.86,46.58 L129.24,45.88 L128.62,45.18 L128.01,44.49 L127.40,43.79 L126.79,43.09 L126.17,42.39 L125.56,41.69 L124.95,40.99 L124.35,40.28 L123.74,39.58 L123.13,38.87 L122.53,38.17 L121.92,37.46 L121.32,36.76 L120.71,36.05 L120.11,35.34 L119.51,34.63 L118.91,33.92 L118.31,33.21 L117.71,32.50 L117.11,31.79 L116.51,31.08 L115.91,30.37 L115.31,29.66 L114.72,28.94 L114.23,28.12 L113.78,27.26 L113.34,26.40 L112.90,25.53 L112.47,24.66 L112.04,23.79 L111.63,22.90 L111.22,22.01 L110.82,21.12 L110.43,20.22 L110.05,19.31 L109.69,18.40 L109.34,17.47 L109.01,16.52 L108.71,15.55 L108.46,14.54 L108.27,13.47 L108.47,12.07Z" fill="#d66100"/>
<path d="M59.32,57.91 L60.08,58.69 L60.84,59.46 L61.60,60.24 L62.36,61.01 L63.13,61.79 L63.89,62.56 L64.66,63.33 L65.43,64.10 L66.20,64.86 L66.97,65.63 L67.75,66.39 L68.52,67.16 L69.30,67.92 L70.07,68.68 L70.85,69.44 L71.63,70.19 L72.42,70.95 L73.20,71.70 L73.99,72.45 L74.77,73.20 L75.56,73.95 L76.35,74.70 L77.14,75.44 L77.94,76.19 L78.73,76.93 L79.53,77.67 L80.33,78.41 L81.13,79.14 L81.93,79.88 L82.73,80.61 L83.54,81.34 L84.34,82.07 L85.15,82.80 L85.96,83.52 L86.77,84.25 L87.59,84.97 L88.40,85.69 L89.22,86.40 L90.04,87.12 L90.86,87.83 L91.68,88.55 L92.51,89.25 L93.33,89.96 L94.16,90.67 L94.99,91.37 L95.82,92.07 L96.65,92.77 L97.49,93.47 L98.33,94.16 L99.17,94.85 L100.01,95.54 L100.85,96.23 L101.69,96.91 L102.54,97.60 L103.39,98.28 L104.24,98.95 L105.09,99.63 L105.94,100.30 L106.80,100.97 L107.66,101.64 L108.52,102.31 L109.38,102.97 L110.24,103.63 L111.11,104.29 L111.98,104.94 L112.85,105.60 L113.72,106.25 L114.59,106.89 L115.47,107.54 L116.35,108.18 L117.22,108.82 L118.11,109.45 L118.99,110.09 L119.88,110.72 L120.76,111.35 L121.65,111.97 L122.55,112.59 L123.44,113.21 L124.34,113.83 L125.23,114.44 L126.14,115.05 L127.04,115.66 L127.94,116.26 L128.85,116.86 L129.76,117.46 L130.67,118.05 L131.58,118.64 L132.50,119.23 L133.41,119.81 L134.33,120.39 L135.25,120.97 L136.18,121.55 L137.10,122.12 L138.03,122.68 L138.96,123.25 L139.89,123.81 L140.82,124.37 L141.76,124.92 L142.70,125.47 L143.64,126.02 L144.58,126.56 L145.52,127.10 L146.47,127.63 L147.42,128.16 L148.37,128.69 L149.32,129.22 L150.28,129.74 L151.23,130.26 L152.19,130.77 L153.15,131.28 L154.11,131.78 L155.08,132.29 L156.05,132.79 L157.01,133.28 L157.98,133.77 L158.96,134.26 L159.93,134.74 L160.91,135.22 L161.88,135.70 L162.86,136.17 L163.84,136.64 L164.83,137.10 L165.81,137.56 L166.80,138.02 L167.79,138.47 L168.78,138.92 L169.77,139.36 L170.77,139.80 L171.76,140.24 L172.76,140.67 L173.76,141.10 L174.76,141.53 L175.76,141.95 L176.77,142.37 L177.77,142.78 L178.78,143.19 L179.79,143.59 L180.80,143.99 L181.81,144.39 L182.83,144.78 L183.84,145.17 L184.86,145.55 L185.88,145.93 L186.90,146.31 L187.92,146.68 L188.94,147.05 L189.97,147.41 L190.99,147.77 L192.02,148.13 L193.05,148.48 L194.08,148.82 L195.11,149.17 L196.15,149.50 L197.18,149.84 L198.22,150.17 L199.26,150.49 L200.29,150.81 L201.33,151.13 L202.38,151.44 L203.42,151.75 L204.46,152.05 L205.51,152.35 L206.55,152.65 L207.60,152.94 L208.65,153.22 L209.70,153.50 L210.75,153.78 L211.81,154.05 L212.86,154.32 L213.92,154.58 L214.97,154.84 L216.03,155.10 L217.09,155.35 L218.15,155.59 L219.21,155.83 L220.27,156.07 L221.33,156.30 L222.39,156.53 L223.46,156.75 L224.52,156.97 L225.59,157.18 L226.66,157.39 L227.72,157.59 L228.79,157.79 L229.86,157.99 L230.93,158.18 L232.01,158.36 L233.08,158.54 L234.15,158.72 L235.22,158.89 L236.30,159.06 L237.37,159.22 L238.45,159.37 L239.53,159.53 L240.60,159.67 L241.68,159.82 L242.76,159.95 L243.84,160.09 L244.92,160.21 L246.00,160.34 L246.00,160.34 L245.06,157.89 L244.04,157.01 L243.00,156.45 L241.96,156.11 L240.90,155.93 L239.84,155.79 L238.78,155.63 L237.72,155.47 L236.66,155.31 L235.60,155.14 L234.55,154.97 L233.49,154.79 L232.44,154.61 L231.38,154.42 L230.33,154.23 L229.28,154.03 L228.23,153.83 L227.17,153.62 L226.13,153.41 L225.08,153.20 L224.03,152.98 L222.98,152.75 L221.94,152.52 L220.89,152.29 L219.85,152.05 L218.81,151.80 L217.76,151.56 L216.72,151.30 L215.68,151.05 L214.65,150.79 L213.61,150.52 L212.57,150.25 L211.54,149.97 L210.51,149.69 L209.47,149.41 L208.44,149.12 L207.41,148.83 L206.39,148.53 L205.36,148.23 L204.33,147.92 L203.31,147.61 L202.29,147.29 L201.26,146.97 L200.24,146.65 L199.23,146.32 L198.21,145.99 L197.19,145.65 L196.18,145.31 L195.17,144.96 L194.15,144.61 L193.14,144.26 L192.14,143.90 L191.13,143.54 L190.12,143.17 L189.12,142.80 L188.12,142.42 L187.12,142.04 L186.12,141.66 L185.12,141.27 L184.13,140.88 L183.13,140.48 L182.14,140.08 L181.15,139.68 L180.16,139.27 L179.17,138.86 L178.19,138.44 L177.20,138.02 L176.22,137.59 L175.24,137.17 L174.26,136.73 L173.29,136.30 L172.31,135.86 L171.34,135.41 L170.37,134.96 L169.40,134.51 L168.43,134.05 L167.46,133.59 L166.50,133.13 L165.54,132.66 L164.58,132.19 L163.62,131.71 L162.66,131.24 L161.71,130.75 L160.75,130.27 L159.80,129.78 L158.86,129.28 L157.91,128.79 L156.96,128.28 L156.02,127.78 L155.08,127.27 L154.14,126.76 L153.20,126.24 L152.27,125.72 L151.34,125.20 L150.41,124.67 L149.48,124.14 L148.55,123.61 L147.63,123.07 L146.71,122.53 L145.78,121.98 L144.87,121.43 L143.95,120.88 L143.04,120.32 L142.13,119.76 L141.22,119.20 L140.31,118.64 L139.40,118.07 L138.50,117.49 L137.60,116.92 L136.70,116.34 L135.80,115.75 L134.91,115.17 L134.02,114.58 L133.13,113.99 L132.24,113.39 L131.35,112.79 L130.47,112.19 L129.59,111.59 L128.71,110.98 L127.83,110.37 L126.95,109.75 L126.08,109.14 L125.21,108.52 L124.34,107.89 L123.47,107.27 L122.61,106.64 L121.74,106.01 L120.88,105.38 L120.02,104.74 L119.16,104.10 L118.31,103.46 L117.45,102.82 L116.60,102.17 L115.75,101.52 L114.90,100.87 L114.06,100.21 L113.22,99.56 L112.37,98.90 L111.53,98.23 L110.70,97.57 L109.86,96.90 L109.02,96.23 L108.19,95.56 L107.36,94.89 L106.53,94.21 L105.71,93.53 L104.88,92.85 L104.06,92.17 L103.24,91.48 L102.42,90.80 L101.60,90.11 L100.79,89.42 L99.97,88.72 L99.16,88.03 L98.35,87.33 L97.54,86.63 L96.73,85.92 L95.93,85.22 L95.12,84.51 L94.32,83.81 L93.52,83.10 L92.72,82.38 L91.93,81.67 L91.13,80.95 L90.34,80.24 L89.55,79.52 L88.76,78.80 L87.97,78.07 L87.18,77.35 L86.40,76.62 L85.61,75.89 L84.83,75.16 L84.05,74.43 L83.28,73.69 L82.50,72.96 L81.72,72.22 L80.95,71.48 L80.18,70.74 L79.41,70.00 L78.64,69.25 L77.87,68.50 L77.08,67.79 L76.18,67.17 L75.28,66.56 L74.38,65.94 L73.47,65.33 L72.56,64.72 L71.65,64.11 L70.73,63.51 L69.81,62.91 L68.87,62.31 L67.93,61.72 L66.98,61.14 L66.02,60.56 L65.04,60.00 L64.04,59.45 L63.02,58.93 L61.96,58.44 L60.82,58.01 L59.32,57.91Z" fill="#d66100"/>
<path d="M112.33,16.77 L112.87,17.43 L113.42,18.10 L113.96,18.76 L114.51,19.43 L115.05,20.09 L115.59,20.75 L116.14,21.42 L116.68,22.08 L117.22,22.75 L117.77,23.41 L118.31,24.08 L118.86,24.74 L119.40,25.40 L119.94,26.07 L120.49,26.73 L121.03,27.39 L121.58,28.06 L122.12,28.72 L122.67,29.38 L123.22,30.04 L123.76,30.71 L124.31,31.37 L124.86,32.03 L125.41,32.69 L125.95,33.35 L126.50,34.01 L127.05,34.67 L127.60,35.33 L128.16,35.99 L128.71,36.64 L129.26,37.30 L129.81,37.96 L130.37,38.61 L130.92,39.27 L131.48,39.92 L132.03,40.58 L132.59,41.23 L133.15,41.88 L133.71,42.53 L134.27,43.18 L134.83,43.83 L135.39,44.48 L135.95,45.13 L136.51,45.78 L137.08,46.43 L137.65,47.07 L138.21,47.71 L138.78,48.36 L139.35,49.00 L139.92,49.64 L140.49,50.28 L141.07,50.92 L141.64,51.56 L142.22,52.20 L142.79,52.83 L143.37,53.47 L143.95,54.10 L144.53,54.73 L145.11,55.36 L145.70,55.99 L146.28,56.62 L146.87,57.24 L147.46,57.87 L148.05,58.49 L148.64,59.11 L149.23,59.73 L149.83,60.35 L150.43,60.97 L151.02,61.59 L151.62,62.20 L152.23,62.81 L152.83,63.42 L153.43,64.03 L154.04,64.64 L154.65,65.24 L155.26,65.85 L155.87,66.45 L156.49,67.05 L157.11,67.64 L157.72,68.24 L158.34,68.83 L158.97,69.42 L159.59,70.01 L160.22,70.60 L160.85,71.18 L161.48,71.77 L162.11,72.35 L162.74,72.92 L163.38,73.50 L164.02,74.07 L164.66,74.64 L165.31,75.21 L165.95,75.78 L166.60,76.34 L167.25,76.90 L167.90,77.46 L168.56,78.01 L169.21,78.57 L169.87,79.11 L170.54,79.66 L171.20,80.21 L171.87,80.75 L172.54,81.28 L173.21,81.82 L173.88,82.35 L174.56,82.88 L175.24,83.40 L175.92,83.93 L176.60,84.45 L177.29,84.96 L177.98,85.47 L178.67,85.98 L179.36,86.49 L180.06,86.99 L180.75,87.49 L181.46,87.99 L182.16,88.48 L182.86,88.97 L183.57,89.45 L184.28,89.93 L185.00,90.41 L185.71,90.89 L186.43,91.36 L187.15,91.82 L187.87,92.29 L188.60,92.75 L189.32,93.20 L190.05,93.66 L190.78,94.11 L191.52,94.55 L192.25,94.99 L192.99,95.43 L193.73,95.86 L194.48,96.29 L195.22,96.72 L195.97,97.14 L196.72,97.56 L197.47,97.98 L198.22,98.39 L198.98,98.80 L199.74,99.20 L200.50,99.60 L201.26,99.99 L202.02,100.38 L202.79,100.77 L203.56,101.15 L204.33,101.53 L205.10,101.91 L205.87,102.28 L206.65,102.65 L207.43,103.01 L208.21,103.37 L208.99,103.72 L209.77,104.07 L210.56,104.42 L211.35,104.76 L212.14,105.10 L212.93,105.43 L213.72,105.76 L214.51,106.08 L215.31,106.40 L216.11,106.72 L216.91,107.03 L217.71,107.34 L218.51,107.64 L219.32,107.94 L220.12,108.23 L220.93,108.52 L221.74,108.81 L222.55,109.09 L223.37,109.36 L224.18,109.64 L225.00,109.90 L225.81,110.16 L226.63,110.42 L227.45,110.67 L228.28,110.92 L229.10,111.17 L229.92,111.41 L230.75,111.64 L231.58,111.87 L232.40,112.09 L233.23,112.32 L234.06,112.53 L234.90,112.74 L235.73,112.95 L236.56,113.15 L237.40,113.35 L238.24,113.54 L239.07,113.73 L239.91,113.91 L240.75,114.09 L241.59,114.27 L242.43,114.43 L243.28,114.60 L244.12,114.76 L244.96,114.92 L245.81,115.07 L246.65,115.22 L247.50,115.36 L247.50,115.36 L246.58,116.26 L245.71,116.46 L244.85,116.50 L243.99,116.44 L243.13,116.29 L242.29,116.13 L241.44,115.96 L240.59,115.79 L239.74,115.61 L238.90,115.42 L238.05,115.24 L237.21,115.04 L236.36,114.85 L235.52,114.65 L234.68,114.44 L233.84,114.23 L233.00,114.01 L232.17,113.79 L231.33,113.57 L230.50,113.34 L229.66,113.11 L228.83,112.87 L228.00,112.63 L227.17,112.38 L226.34,112.12 L225.52,111.87 L224.69,111.61 L223.87,111.34 L223.04,111.07 L222.22,110.79 L221.41,110.51 L220.59,110.23 L219.77,109.94 L218.96,109.65 L218.14,109.35 L217.33,109.05 L216.52,108.74 L215.72,108.43 L214.91,108.12 L214.11,107.80 L213.30,107.47 L212.50,107.15 L211.70,106.81 L210.91,106.48 L210.11,106.14 L209.32,105.79 L208.53,105.44 L207.74,105.09 L206.95,104.73 L206.16,104.37 L205.38,104.00 L204.60,103.63 L203.82,103.26 L203.04,102.88 L202.26,102.50 L201.49,102.11 L200.71,101.72 L199.94,101.33 L199.18,100.93 L198.41,100.52 L197.65,100.12 L196.88,99.71 L196.12,99.29 L195.37,98.88 L194.61,98.45 L193.86,98.03 L193.11,97.60 L192.36,97.17 L191.61,96.73 L190.87,96.29 L190.12,95.84 L189.38,95.40 L188.65,94.94 L187.91,94.49 L187.18,94.03 L186.45,93.57 L185.72,93.10 L184.99,92.63 L184.27,92.16 L183.54,91.68 L182.83,91.20 L182.11,90.72 L181.39,90.23 L180.68,89.74 L179.97,89.24 L179.26,88.74 L178.56,88.24 L177.86,87.74 L177.16,87.23 L176.46,86.72 L175.76,86.21 L175.07,85.69 L174.38,85.17 L173.69,84.64 L173.01,84.11 L172.32,83.58 L171.64,83.05 L170.96,82.51 L170.29,81.97 L169.62,81.43 L168.94,80.88 L168.28,80.34 L167.61,79.78 L166.94,79.23 L166.28,78.67 L165.62,78.11 L164.97,77.55 L164.31,76.99 L163.66,76.42 L163.01,75.85 L162.36,75.28 L161.71,74.70 L161.07,74.13 L160.43,73.55 L159.79,72.97 L159.15,72.38 L158.51,71.80 L157.88,71.21 L157.25,70.62 L156.62,70.02 L155.99,69.43 L155.36,68.83 L154.74,68.23 L154.12,67.63 L153.50,67.03 L152.88,66.42 L152.26,65.82 L151.65,65.21 L151.03,64.60 L150.42,63.99 L149.81,63.37 L149.20,62.76 L148.60,62.14 L147.99,61.52 L147.39,60.90 L146.79,60.28 L146.19,59.66 L145.59,59.03 L145.00,58.41 L144.40,57.78 L143.81,57.15 L143.22,56.52 L142.63,55.88 L142.04,55.25 L141.45,54.62 L140.86,53.98 L140.28,53.34 L139.69,52.70 L139.11,52.07 L138.53,51.42 L137.95,50.78 L137.37,50.14 L136.79,49.50 L136.22,48.85 L135.64,48.20 L135.07,47.56 L134.50,46.91 L133.93,46.26 L133.35,45.61 L132.78,44.96 L132.22,44.31 L131.65,43.65 L131.08,43.00 L130.52,42.35 L129.95,41.69 L129.39,41.03 L128.82,40.38 L128.26,39.72 L127.70,39.06 L127.14,38.40 L126.58,37.74 L126.02,37.08 L125.46,36.42 L124.90,35.76 L124.34,35.10 L123.79,34.44 L123.23,33.78 L122.67,33.11 L122.12,32.45 L121.57,31.79 L121.01,31.12 L120.51,30.41 L120.01,29.68 L119.51,28.96 L119.02,28.24 L118.53,27.51 L118.04,26.78 L117.55,26.05 L117.07,25.32 L116.59,24.58 L116.11,23.84 L115.64,23.10 L115.17,22.36 L114.71,21.61 L114.26,20.85 L113.81,20.09 L113.38,19.32 L112.96,18.53 L112.57,17.72 L112.33,16.77Z" fill="#d60000"/>
<path d="M65.42,64.09 L66.15,64.81 L66.88,65.54 L67.61,66.26 L68.34,66.98 L69.08,67.70 L69.81,68.42 L70.55,69.14 L71.29,69.86 L72.03,70.57 L72.77,71.29 L73.51,72.00 L74.25,72.71 L75.00,73.42 L75.75,74.13 L76.49,74.83 L77.24,75.54 L77.99,76.24 L78.75,76.94 L79.50,77.64 L80.26,78.34 L81.01,79.04 L81.77,79.73 L82.53,80.43 L83.29,81.12 L84.05,81.81 L84.82,82.50 L85.58,83.19 L86.35,83.87 L87.12,84.55 L87.89,85.24 L88.66,85.92 L89.44,86.59 L90.21,87.27 L90.99,87.95 L91.77,88.62 L92.55,89.29 L93.33,89.96 L94.11,90.63 L94.90,91.29 L95.68,91.95 L96.47,92.62 L97.26,93.27 L98.05,93.93 L98.85,94.59 L99.64,95.24 L100.44,95.89 L101.23,96.54 L102.03,97.19 L102.84,97.83 L103.64,98.48 L104.44,99.12 L105.25,99.76 L106.06,100.39 L106.87,101.03 L107.68,101.66 L108.49,102.29 L109.31,102.92 L110.13,103.54 L110.95,104.16 L111.77,104.78 L112.59,105.40 L113.41,106.02 L114.24,106.63 L115.07,107.24 L115.90,107.85 L116.73,108.46 L117.56,109.06 L118.40,109.66 L119.23,110.26 L120.07,110.86 L120.91,111.45 L121.75,112.04 L122.60,112.63 L123.44,113.21 L124.29,113.80 L125.14,114.38 L125.99,114.95 L126.85,115.53 L127.70,116.10 L128.56,116.67 L129.42,117.23 L130.28,117.80 L131.14,118.36 L132.01,118.92 L132.87,119.47 L133.74,120.02 L134.61,120.57 L135.48,121.12 L136.36,121.66 L137.23,122.20 L138.11,122.74 L138.99,123.27 L139.87,123.80 L140.76,124.33 L141.64,124.85 L142.53,125.37 L143.42,125.89 L144.31,126.40 L145.20,126.91 L146.10,127.42 L146.99,127.93 L147.89,128.43 L148.79,128.93 L149.69,129.42 L150.60,129.91 L151.50,130.40 L152.41,130.88 L153.32,131.37 L154.23,131.84 L155.14,132.32 L156.06,132.79 L156.97,133.26 L157.89,133.72 L158.81,134.19 L159.73,134.64 L160.66,135.10 L161.58,135.55 L162.51,136.00 L163.43,136.44 L164.36,136.88 L165.29,137.32 L166.23,137.75 L167.16,138.18 L168.10,138.61 L169.04,139.03 L169.97,139.45 L170.92,139.87 L171.86,140.28 L172.80,140.69 L173.75,141.10 L174.69,141.50 L175.64,141.90 L176.59,142.29 L177.54,142.69 L178.50,143.07 L179.45,143.46 L180.41,143.84 L181.36,144.21 L182.32,144.59 L183.28,144.96 L184.25,145.32 L185.21,145.68 L186.17,146.04 L187.14,146.40 L188.11,146.75 L189.07,147.10 L190.04,147.44 L191.01,147.78 L191.99,148.12 L192.96,148.45 L193.94,148.78 L194.91,149.10 L195.89,149.42 L196.87,149.74 L197.85,150.05 L198.83,150.36 L199.81,150.67 L200.80,150.97 L201.78,151.26 L202.77,151.56 L203.75,151.85 L204.74,152.13 L205.73,152.42 L206.72,152.69 L207.71,152.97 L208.71,153.24 L209.70,153.50 L210.70,153.77 L211.69,154.02 L212.69,154.28 L213.69,154.53 L214.68,154.77 L215.68,155.02 L216.69,155.25 L217.69,155.49 L218.69,155.72 L219.69,155.94 L220.70,156.16 L221.70,156.38 L222.71,156.59 L223.72,156.80 L224.73,157.01 L225.74,157.21 L226.75,157.41 L227.76,157.60 L228.77,157.79 L229.78,157.97 L230.79,158.15 L231.81,158.33 L232.82,158.50 L233.84,158.67 L234.85,158.83 L235.87,158.99 L236.88,159.14 L237.90,159.29 L238.92,159.44 L239.94,159.58 L240.96,159.72 L241.98,159.85 L243.00,159.98 L243.00,159.98 L242.05,158.82 L241.06,158.37 L240.06,158.08 L239.05,157.90 L238.04,157.75 L237.03,157.60 L236.02,157.45 L235.01,157.29 L234.00,157.12 L232.99,156.95 L231.98,156.78 L230.98,156.60 L229.97,156.42 L228.97,156.24 L227.96,156.05 L226.96,155.86 L225.95,155.66 L224.95,155.46 L223.95,155.25 L222.95,155.04 L221.95,154.83 L220.95,154.61 L219.96,154.38 L218.96,154.16 L217.96,153.93 L216.97,153.69 L215.97,153.45 L214.98,153.21 L213.99,152.96 L213.00,152.71 L212.01,152.46 L211.02,152.20 L210.03,151.93 L209.04,151.67 L208.06,151.40 L207.07,151.12 L206.09,150.84 L205.11,150.56 L204.13,150.27 L203.15,149.98 L202.17,149.68 L201.19,149.39 L200.22,149.08 L199.24,148.78 L198.27,148.47 L197.29,148.15 L196.32,147.83 L195.35,147.51 L194.38,147.19 L193.42,146.86 L192.45,146.52 L191.49,146.18 L190.52,145.84 L189.56,145.50 L188.60,145.15 L187.64,144.80 L186.68,144.44 L185.72,144.08 L184.77,143.72 L183.82,143.35 L182.86,142.98 L181.91,142.61 L180.96,142.23 L180.01,141.84 L179.07,141.46 L178.12,141.07 L177.18,140.68 L176.24,140.28 L175.30,139.88 L174.36,139.48 L173.42,139.07 L172.48,138.66 L171.55,138.24 L170.62,137.83 L169.69,137.41 L168.76,136.98 L167.83,136.55 L166.90,136.12 L165.98,135.69 L165.06,135.25 L164.13,134.80 L163.21,134.36 L162.30,133.91 L161.38,133.46 L160.47,133.00 L159.55,132.54 L158.64,132.08 L157.73,131.61 L156.82,131.14 L155.92,130.67 L155.01,130.20 L154.11,129.72 L153.21,129.23 L152.31,128.75 L151.41,128.26 L150.52,127.77 L149.63,127.27 L148.73,126.77 L147.84,126.27 L146.96,125.76 L146.07,125.25 L145.19,124.74 L144.30,124.23 L143.42,123.71 L142.54,123.19 L141.67,122.66 L140.79,122.13 L139.92,121.60 L139.05,121.07 L138.18,120.53 L137.31,119.99 L136.45,119.45 L135.58,118.90 L134.72,118.35 L133.86,117.80 L133.01,117.24 L132.15,116.69 L131.30,116.12 L130.44,115.56 L129.59,114.99 L128.74,114.42 L127.90,113.85 L127.05,113.28 L126.21,112.70 L125.37,112.12 L124.53,111.54 L123.69,110.95 L122.86,110.36 L122.02,109.77 L121.19,109.18 L120.36,108.58 L119.53,107.98 L118.71,107.38 L117.88,106.78 L117.06,106.17 L116.24,105.56 L115.42,104.95 L114.60,104.34 L113.79,103.72 L112.97,103.11 L112.16,102.49 L111.35,101.86 L110.54,101.24 L109.74,100.61 L108.93,99.98 L108.13,99.35 L107.33,98.72 L106.53,98.08 L105.73,97.44 L104.93,96.80 L104.14,96.16 L103.34,95.52 L102.55,94.87 L101.76,94.22 L100.97,93.57 L100.19,92.92 L99.40,92.26 L98.62,91.61 L97.84,90.95 L97.06,90.29 L96.28,89.63 L95.50,88.96 L94.73,88.30 L93.96,87.63 L93.18,86.96 L92.41,86.29 L91.64,85.61 L90.88,84.94 L90.11,84.26 L89.35,83.58 L88.59,82.90 L87.82,82.22 L87.06,81.54 L86.31,80.85 L85.55,80.16 L84.80,79.47 L84.04,78.78 L83.29,78.09 L82.54,77.40 L81.79,76.70 L81.03,76.02 L80.23,75.37 L79.44,74.73 L78.64,74.08 L77.85,73.43 L77.05,72.78 L76.25,72.13 L75.46,71.49 L74.66,70.84 L73.86,70.19 L73.05,69.55 L72.25,68.90 L71.44,68.26 L70.63,67.62 L69.81,66.99 L68.99,66.36 L68.16,65.73 L67.31,65.12 L66.43,64.54 L65.42,64.09Z" fill="#d60000"/>
<path d="M99.4,1.4 L96.9,3.5 L98.6,4.8 L100.9,4.3 L101.7,3.9 Z" fill="#d60000"/>
<path d="M46.7,44.4 L48.7,42.7 L49.8,45.3 L48.6,47.3 Z" fill="#d60000"/>
<path d="M99.35,1.18 L100.01,1.96 L100.67,2.73 L101.33,3.51 L101.99,4.29 L102.64,5.07 L103.30,5.85 L103.95,6.63 L104.61,7.41 L105.26,8.20 L105.91,8.98 L106.56,9.77 L107.21,10.55 L107.86,11.34 L108.51,12.12 L109.16,12.91 L109.81,13.70 L110.45,14.48 L111.10,15.27 L111.75,16.06 L112.39,16.85 L113.04,17.64 L113.69,18.43 L114.33,19.21 L114.98,20.00 L115.62,20.79 L116.27,21.58 L116.91,22.37 L117.56,23.16 L118.21,23.95 L118.85,24.74 L119.50,25.52 L120.14,26.31 L120.79,27.10 L121.44,27.89 L122.09,28.67 L122.74,29.46 L123.38,30.25 L124.03,31.03 L124.68,31.82 L125.33,32.60 L125.99,33.39 L126.64,34.17 L127.29,34.95 L127.94,35.73 L128.60,36.52 L129.26,37.30 L129.91,38.08 L130.57,38.85 L131.23,39.63 L131.89,40.41 L132.55,41.18 L133.21,41.96 L133.88,42.73 L134.54,43.50 L135.21,44.28 L135.88,45.05 L136.55,45.81 L137.22,46.58 L137.89,47.35 L138.56,48.11 L139.24,48.88 L139.92,49.64 L140.60,50.40 L141.28,51.16 L141.96,51.91 L142.64,52.67 L143.33,53.42 L144.02,54.17 L144.71,54.92 L145.40,55.67 L146.10,56.42 L146.79,57.16 L147.49,57.90 L148.19,58.64 L148.90,59.38 L149.60,60.12 L150.31,60.85 L151.02,61.58 L151.73,62.31 L152.45,63.04 L153.17,63.76 L153.89,64.48 L154.61,65.20 L155.33,65.92 L156.06,66.63 L156.79,67.34 L157.53,68.05 L158.26,68.75 L159.00,69.46 L159.74,70.16 L160.49,70.85 L161.24,71.54 L161.99,72.23 L162.74,72.92 L163.50,73.60 L164.26,74.28 L165.02,74.96 L165.79,75.63 L166.55,76.30 L167.33,76.97 L168.10,77.63 L168.88,78.29 L169.66,78.94 L170.45,79.59 L171.24,80.24 L172.03,80.88 L172.82,81.51 L173.62,82.15 L174.43,82.78 L175.23,83.40 L176.04,84.02 L176.85,84.64 L177.67,85.25 L178.49,85.85 L179.31,86.45 L180.14,87.05 L180.97,87.64 L181.80,88.23 L182.64,88.81 L183.48,89.39 L184.32,89.96 L185.17,90.53 L186.02,91.09 L186.87,91.65 L187.73,92.20 L188.59,92.74 L189.46,93.29 L190.32,93.82 L191.19,94.35 L192.07,94.88 L192.94,95.40 L193.82,95.92 L194.70,96.43 L195.59,96.93 L196.48,97.43 L197.37,97.92 L198.26,98.41 L199.16,98.89 L200.06,99.37 L200.97,99.84 L201.87,100.31 L202.78,100.77 L203.70,101.22 L204.61,101.67 L205.53,102.12 L206.45,102.55 L207.37,102.98 L208.30,103.41 L209.23,103.83 L210.16,104.24 L211.09,104.65 L212.03,105.05 L212.97,105.45 L213.91,105.84 L214.86,106.22 L215.80,106.60 L216.75,106.97 L217.70,107.34 L218.66,107.70 L219.61,108.05 L220.57,108.40 L221.53,108.74 L222.50,109.07 L223.46,109.40 L224.43,109.72 L225.40,110.03 L226.37,110.34 L227.35,110.64 L228.32,110.94 L229.30,111.23 L230.28,111.51 L231.26,111.78 L232.24,112.05 L233.23,112.31 L234.21,112.57 L235.20,112.82 L236.19,113.06 L237.18,113.30 L238.18,113.53 L239.17,113.75 L240.17,113.97 L241.17,114.18 L242.16,114.38 L243.16,114.58 L244.17,114.77 L245.17,114.95 L246.17,115.13 L247.18,115.31 L248.18,115.47 L249.19,115.63 L250.20,115.79 L251.21,115.93 L252.21,116.07 L253.23,116.21 L254.24,116.34 L255.25,116.46 L256.26,116.58 L257.27,116.69 L258.00,117.20 L514.90,117.20 L514.90,161.40 L258.00,161.40 L256.97,161.31 L255.93,161.24 L254.90,161.16 L253.86,161.08 L252.83,161.00 L251.79,160.91 L250.76,160.82 L249.72,160.72 L248.69,160.62 L247.66,160.52 L246.62,160.41 L245.59,160.29 L244.56,160.17 L243.53,160.05 L242.50,159.92 L241.47,159.79 L240.44,159.65 L239.41,159.51 L238.39,159.36 L237.36,159.21 L236.33,159.06 L235.31,158.90 L234.28,158.74 L233.26,158.57 L232.23,158.40 L231.21,158.23 L230.19,158.05 L229.16,157.86 L228.14,157.67 L227.12,157.48 L226.10,157.28 L225.09,157.08 L224.07,156.88 L223.05,156.67 L222.04,156.45 L221.02,156.23 L220.01,156.01 L218.99,155.79 L217.98,155.55 L216.97,155.32 L215.96,155.08 L214.95,154.84 L213.94,154.59 L212.93,154.34 L211.93,154.08 L210.92,153.82 L209.92,153.56 L208.92,153.29 L207.91,153.02 L206.91,152.75 L205.91,152.47 L204.91,152.18 L203.92,151.89 L202.92,151.60 L201.92,151.31 L200.93,151.01 L199.94,150.70 L198.95,150.40 L197.96,150.08 L196.97,149.77 L195.98,149.45 L194.99,149.13 L194.01,148.80 L193.02,148.47 L192.04,148.13 L191.06,147.79 L190.08,147.45 L189.10,147.11 L188.12,146.76 L187.15,146.40 L186.17,146.04 L185.20,145.68 L184.23,145.32 L183.26,144.95 L182.29,144.57 L181.32,144.20 L180.36,143.82 L179.39,143.43 L178.43,143.05 L177.47,142.65 L176.51,142.26 L175.55,141.86 L174.59,141.46 L173.64,141.05 L172.68,140.64 L171.73,140.23 L170.78,139.81 L169.83,139.39 L168.88,138.97 L167.94,138.54 L166.99,138.11 L166.05,137.67 L165.11,137.23 L164.17,136.79 L163.23,136.34 L162.30,135.90 L161.36,135.44 L160.43,134.99 L159.50,134.53 L158.57,134.06 L157.64,133.60 L156.72,133.13 L155.79,132.65 L154.87,132.18 L153.95,131.70 L153.03,131.21 L152.11,130.73 L151.20,130.24 L150.29,129.74 L149.37,129.25 L148.46,128.74 L147.56,128.24 L146.65,127.73 L145.75,127.22 L144.84,126.71 L143.94,126.19 L143.05,125.67 L142.15,125.15 L141.25,124.62 L140.36,124.09 L139.47,123.56 L138.58,123.02 L137.70,122.48 L136.81,121.94 L135.93,121.39 L135.05,120.84 L134.17,120.29 L133.29,119.74 L132.42,119.18 L131.54,118.62 L130.67,118.05 L129.80,117.49 L128.93,116.92 L128.07,116.34 L127.20,115.77 L126.34,115.19 L125.48,114.61 L124.62,114.02 L123.77,113.44 L122.91,112.85 L122.06,112.25 L121.21,111.66 L120.36,111.06 L119.51,110.46 L118.67,109.86 L117.83,109.25 L116.98,108.64 L116.14,108.03 L115.31,107.42 L114.47,106.80 L113.64,106.19 L112.80,105.56 L111.97,104.94 L111.15,104.32 L110.32,103.69 L109.49,103.06 L108.67,102.42 L107.85,101.79 L107.03,101.15 L106.21,100.51 L105.40,99.87 L104.58,99.23 L103.77,98.58 L102.96,97.93 L102.15,97.28 L101.34,96.63 L100.54,95.97 L99.73,95.32 L98.93,94.66 L98.13,94.00 L97.33,93.33 L96.53,92.67 L95.74,92.00 L94.95,91.33 L94.15,90.66 L93.36,89.99 L92.57,89.31 L91.79,88.64 L91.00,87.96 L90.22,87.28 L89.44,86.59 L88.66,85.91 L87.88,85.22 L87.10,84.53 L86.32,83.84 L85.55,83.15 L84.78,82.46 L84.01,81.76 L83.24,81.07 L82.47,80.37 L81.70,79.67 L80.94,78.97 L80.17,78.26 L79.41,77.56 L78.65,76.85 L77.89,76.14 L77.13,75.43 L76.38,74.72 L75.62,74.01 L74.87,73.29 L74.12,72.58 L73.37,71.86 L72.62,71.14 L71.87,70.42 L71.13,69.70 L70.38,68.98 L69.64,68.25 L68.90,67.53 L68.15,66.80 L67.42,66.07 L66.68,65.34 L65.94,64.61 L65.21,63.87 L64.47,63.14 L63.74,62.40 L63.01,61.67 L62.28,60.93 L61.55,60.19 L60.82,59.45 L60.10,58.71 L59.37,57.96 L58.65,57.22 L57.92,56.47 L57.20,55.73 L56.48,54.98 L55.76,54.23 L55.05,53.48 L54.33,52.73 L53.61,51.98 L52.90,51.22 L52.19,50.47 L51.48,49.71 L50.76,48.96 L50.05,48.20 L49.35,47.44 L48.64,46.68 L47.93,45.92 L47.23,45.16 L46.52,44.40Z" fill="none" stroke="#333" stroke-width="0.6"/>
</g>
<path d="M247.2,100.5 V85.5" stroke="#111" stroke-width="1"/>
<path d="M247.2,80 L249.6,85.7 L244.8,85.7 Z" fill="#fff" stroke="#111" stroke-width="1"/>
<path d="M520.9,161.2 H536" stroke="#111" stroke-width="1"/>
<path d="M541.7,161.2 L536,163.5 L536,158.9 Z" fill="#fff" stroke="#111" stroke-width="1"/>
<path d="M247.2,161.4 V154.3" stroke="#111" stroke-width="1"/>
<circle cx="247.2" cy="161.5" r="1.8" fill="#fff" stroke="#111" stroke-width="0.9"/>
<circle cx="247.2" cy="161.5" r="0.6" fill="#111"/>
<text x="240.90" y="74.80" font-size="12" font-style="italic">x</text>
<text x="247.90" y="76.80" font-size="9">2</text>
<text x="240.70" y="171.50" font-size="12" font-style="italic">x</text>
<text x="247.70" y="173.50" font-size="9">3</text>
<text x="545.60" y="162.90" font-size="12" font-style="italic">x</text>
<text x="552.60" y="164.90" font-size="9">1</text>
</svg>
</body></html>
